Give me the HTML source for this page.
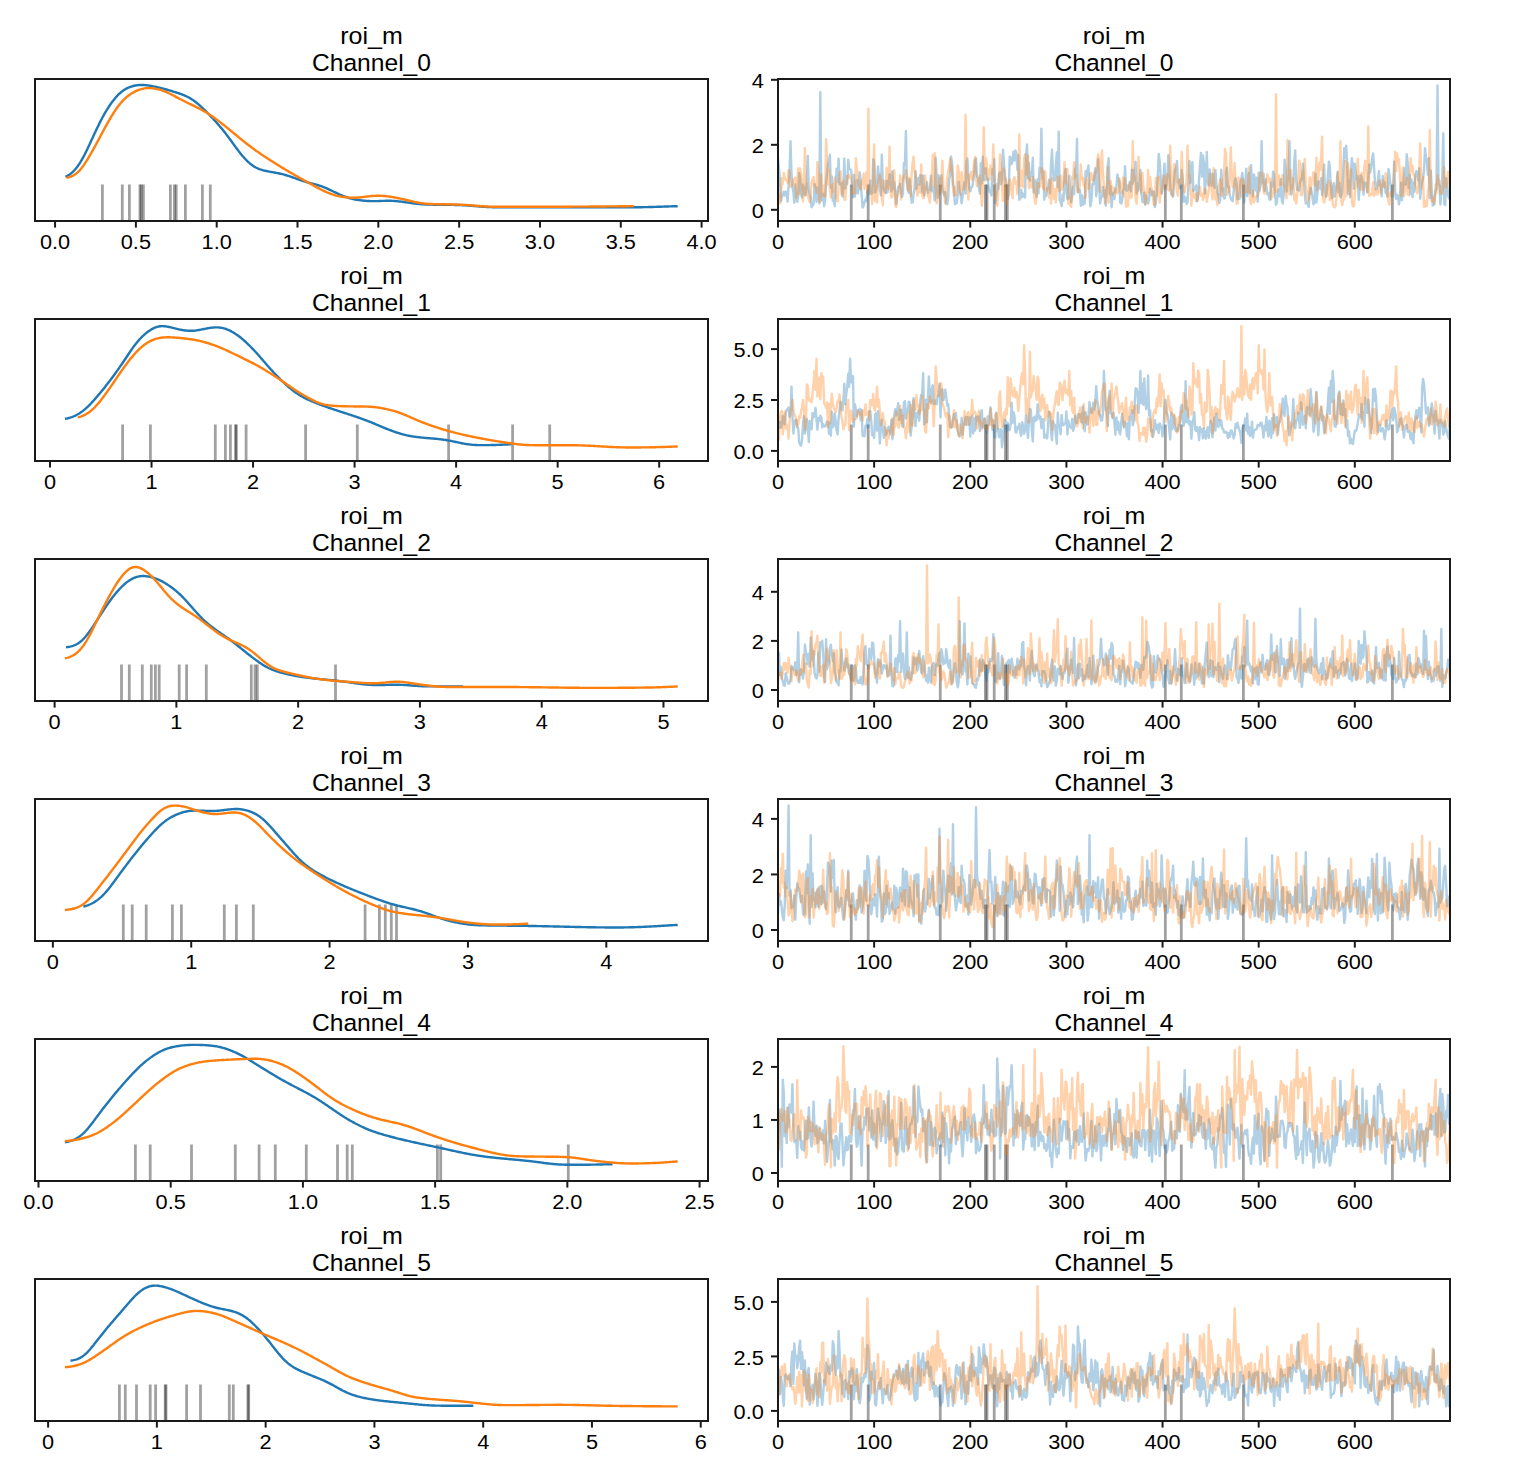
<!DOCTYPE html>
<html><head><meta charset="utf-8"><title>trace plot</title><style>html,body{margin:0;padding:0;background:#fff;width:1514px;height:1482px;overflow:hidden;position:relative}text{font-family:"Liberation Sans", sans-serif;fill:#000}</style></head><body>
<svg width="1514" height="1482" viewBox="0 0 1514 1482" style="position:absolute;left:0;top:0">
<rect x="0" y="0" width="1514" height="1482" fill="#ffffff"/>
<text x="371.50" y="44.20" font-size="24.3" text-anchor="middle" textLength="62.49" lengthAdjust="spacingAndGlyphs">roi_m</text>
<text x="371.50" y="71.00" font-size="24.3" text-anchor="middle" textLength="118.99" lengthAdjust="spacingAndGlyphs">Channel_0</text>
<text x="1114.00" y="44.20" font-size="24.3" text-anchor="middle" textLength="62.49" lengthAdjust="spacingAndGlyphs">roi_m</text>
<text x="1114.00" y="71.00" font-size="24.3" text-anchor="middle" textLength="118.99" lengthAdjust="spacingAndGlyphs">Channel_0</text>
<clipPath id="cl0"><rect x="35" y="79" width="673" height="142"/></clipPath>
<g clip-path="url(#cl0)">
<line x1="102.40" y1="184.50" x2="102.40" y2="231" stroke="#000" stroke-opacity="0.37" stroke-width="2.8"/>
<line x1="122.30" y1="184.50" x2="122.30" y2="231" stroke="#000" stroke-opacity="0.37" stroke-width="2.8"/>
<line x1="129.40" y1="184.50" x2="129.40" y2="231" stroke="#000" stroke-opacity="0.37" stroke-width="2.8"/>
<line x1="140.00" y1="184.50" x2="140.00" y2="231" stroke="#000" stroke-opacity="0.37" stroke-width="2.8"/>
<line x1="141.20" y1="184.50" x2="141.20" y2="231" stroke="#000" stroke-opacity="0.37" stroke-width="2.8"/>
<line x1="143.40" y1="184.50" x2="143.40" y2="231" stroke="#000" stroke-opacity="0.37" stroke-width="2.8"/>
<line x1="170.40" y1="184.50" x2="170.40" y2="231" stroke="#000" stroke-opacity="0.37" stroke-width="2.8"/>
<line x1="174.40" y1="184.50" x2="174.40" y2="231" stroke="#000" stroke-opacity="0.37" stroke-width="2.8"/>
<line x1="176.20" y1="184.50" x2="176.20" y2="231" stroke="#000" stroke-opacity="0.37" stroke-width="2.8"/>
<line x1="185.40" y1="184.50" x2="185.40" y2="231" stroke="#000" stroke-opacity="0.37" stroke-width="2.8"/>
<line x1="202.40" y1="184.50" x2="202.40" y2="231" stroke="#000" stroke-opacity="0.37" stroke-width="2.8"/>
<line x1="210.30" y1="184.50" x2="210.30" y2="231" stroke="#000" stroke-opacity="0.37" stroke-width="2.8"/>
<path d="M65.3,176.72 L66.3,176.31 L67.3,175.83 L68.3,175.28 L69.3,174.66 L70.3,173.95 L71.3,173.16 L72.3,172.29 L73.3,171.34 L74.3,170.31 L75.3,169.19 L76.3,167.98 L77.3,166.69 L78.3,165.31 L79.3,163.84 L80.3,162.29 L81.3,160.64 L82.3,158.92 L83.3,157.11 L84.3,155.22 L85.3,153.27 L86.3,151.25 L87.3,149.19 L88.3,147.08 L89.3,144.94 L90.3,142.78 L91.3,140.60 L92.3,138.42 L93.3,136.24 L94.3,134.08 L95.3,131.93 L96.3,129.81 L97.3,127.71 L98.3,125.65 L99.3,123.62 L100.3,121.64 L101.3,119.70 L102.3,117.80 L103.3,115.96 L104.3,114.16 L105.3,112.42 L106.3,110.74 L107.3,109.10 L108.3,107.52 L109.3,105.99 L110.3,104.52 L111.3,103.10 L112.3,101.73 L113.3,100.42 L114.3,99.16 L115.3,97.96 L116.3,96.81 L117.3,95.73 L118.3,94.70 L119.3,93.74 L120.3,92.84 L121.3,92.00 L122.3,91.22 L123.3,90.50 L124.3,89.83 L125.3,89.23 L126.3,88.67 L127.3,88.17 L128.3,87.70 L129.3,87.29 L130.3,86.91 L131.3,86.57 L132.3,86.26 L133.3,85.99 L134.3,85.75 L135.3,85.54 L136.3,85.37 L137.3,85.23 L138.3,85.11 L139.3,85.03 L140.3,84.98 L141.3,84.95 L142.3,84.96 L143.3,84.99 L144.3,85.04 L145.3,85.12 L146.3,85.21 L147.3,85.33 L148.3,85.47 L149.3,85.62 L150.3,85.78 L151.3,85.96 L152.3,86.15 L153.3,86.34 L154.3,86.55 L155.3,86.76 L156.3,86.98 L157.3,87.20 L158.3,87.43 L159.3,87.67 L160.3,87.91 L161.3,88.16 L162.3,88.42 L163.3,88.68 L164.3,88.94 L165.3,89.21 L166.3,89.49 L167.3,89.77 L168.3,90.06 L169.3,90.35 L170.3,90.64 L171.3,90.94 L172.3,91.24 L173.3,91.55 L174.3,91.86 L175.3,92.18 L176.3,92.50 L177.3,92.83 L178.3,93.16 L179.3,93.50 L180.3,93.85 L181.3,94.21 L182.3,94.59 L183.3,94.98 L184.3,95.39 L185.3,95.82 L186.3,96.28 L187.3,96.76 L188.3,97.27 L189.3,97.81 L190.3,98.38 L191.3,98.99 L192.3,99.63 L193.3,100.31 L194.3,101.02 L195.3,101.76 L196.3,102.54 L197.3,103.35 L198.3,104.20 L199.3,105.06 L200.3,105.96 L201.3,106.87 L202.3,107.81 L203.3,108.76 L204.3,109.73 L205.3,110.72 L206.3,111.71 L207.3,112.72 L208.3,113.74 L209.3,114.77 L210.3,115.81 L211.3,116.87 L212.3,117.93 L213.3,119.01 L214.3,120.10 L215.3,121.20 L216.3,122.31 L217.3,123.44 L218.3,124.59 L219.3,125.75 L220.3,126.93 L221.3,128.12 L222.3,129.33 L223.3,130.57 L224.3,131.82 L225.3,133.09 L226.3,134.38 L227.3,135.69 L228.3,137.02 L229.3,138.36 L230.3,139.72 L231.3,141.08 L232.3,142.46 L233.3,143.84 L234.3,145.21 L235.3,146.59 L236.3,147.95 L237.3,149.29 L238.3,150.62 L239.3,151.92 L240.3,153.20 L241.3,154.44 L242.3,155.65 L243.3,156.83 L244.3,157.96 L245.3,159.05 L246.3,160.10 L247.3,161.10 L248.3,162.04 L249.3,162.94 L250.3,163.79 L251.3,164.58 L252.3,165.31 L253.3,166.00 L254.3,166.62 L255.3,167.20 L256.3,167.72 L257.3,168.20 L258.3,168.63 L259.3,169.03 L260.3,169.39 L261.3,169.72 L262.3,170.02 L263.3,170.29 L264.3,170.55 L265.3,170.79 L266.3,171.02 L267.3,171.23 L268.3,171.44 L269.3,171.63 L270.3,171.82 L271.3,172.01 L272.3,172.19 L273.3,172.37 L274.3,172.55 L275.3,172.73 L276.3,172.92 L277.3,173.11 L278.3,173.30 L279.3,173.51 L280.3,173.72 L281.3,173.94 L282.3,174.18 L283.3,174.43 L284.3,174.69 L285.3,174.97 L286.3,175.26 L287.3,175.56 L288.3,175.88 L289.3,176.21 L290.3,176.55 L291.3,176.89 L292.3,177.25 L293.3,177.61 L294.3,177.97 L295.3,178.33 L296.3,178.70 L297.3,179.06 L298.3,179.41 L299.3,179.77 L300.3,180.11 L301.3,180.45 L302.3,180.77 L303.3,181.09 L304.3,181.40 L305.3,181.70 L306.3,181.99 L307.3,182.27 L308.3,182.55 L309.3,182.82 L310.3,183.08 L311.3,183.34 L312.3,183.60 L313.3,183.86 L314.3,184.13 L315.3,184.40 L316.3,184.67 L317.3,184.96 L318.3,185.26 L319.3,185.57 L320.3,185.89 L321.3,186.23 L322.3,186.59 L323.3,186.97 L324.3,187.36 L325.3,187.78 L326.3,188.20 L327.3,188.65 L328.3,189.10 L329.3,189.57 L330.3,190.04 L331.3,190.52 L332.3,191.01 L333.3,191.49 L334.3,191.97 L335.3,192.45 L336.3,192.93 L337.3,193.39 L338.3,193.85 L339.3,194.30 L340.3,194.74 L341.3,195.17 L342.3,195.59 L343.3,195.99 L344.3,196.38 L345.3,196.75 L346.3,197.11 L347.3,197.45 L348.3,197.78 L349.3,198.08 L350.3,198.37 L351.3,198.64 L352.3,198.89 L353.3,199.12 L354.3,199.33 L355.3,199.53 L356.3,199.71 L357.3,199.88 L358.3,200.03 L359.3,200.17 L360.3,200.30 L361.3,200.42 L362.3,200.53 L363.3,200.64 L364.3,200.73 L365.3,200.82 L366.3,200.89 L367.3,200.96 L368.3,201.02 L369.3,201.07 L370.3,201.11 L371.3,201.14 L372.3,201.16 L373.3,201.17 L374.3,201.17 L375.3,201.16 L376.3,201.14 L377.3,201.12 L378.3,201.09 L379.3,201.05 L380.3,201.01 L381.3,200.96 L382.3,200.92 L383.3,200.88 L384.3,200.84 L385.3,200.81 L386.3,200.79 L387.3,200.77 L388.3,200.77 L389.3,200.77 L390.3,200.79 L391.3,200.82 L392.3,200.86 L393.3,200.92 L394.3,200.98 L395.3,201.05 L396.3,201.14 L397.3,201.23 L398.3,201.34 L399.3,201.45 L400.3,201.56 L401.3,201.68 L402.3,201.81 L403.3,201.95 L404.3,202.08 L405.3,202.22 L406.3,202.36 L407.3,202.50 L408.3,202.65 L409.3,202.79 L410.3,202.93 L411.3,203.07 L412.3,203.20 L413.3,203.33 L414.3,203.46 L415.3,203.58 L416.3,203.70 L417.3,203.81 L418.3,203.92 L419.3,204.01 L420.3,204.10 L421.3,204.19 L422.3,204.26 L423.3,204.33 L424.3,204.39 L425.3,204.44 L426.3,204.49 L427.3,204.53 L428.3,204.57 L429.3,204.60 L430.3,204.63 L431.3,204.65 L432.3,204.67 L433.3,204.69 L434.3,204.71 L435.3,204.72 L436.3,204.74 L437.3,204.75 L438.3,204.76 L439.3,204.77 L440.3,204.78 L441.3,204.79 L442.3,204.80 L443.3,204.81 L444.3,204.82 L445.3,204.83 L446.3,204.83 L447.3,204.84 L448.3,204.86 L449.3,204.87 L450.3,204.88 L451.3,204.89 L452.3,204.91 L453.3,204.92 L454.3,204.94 L455.3,204.96 L456.3,204.98 L457.3,205.00 L458.3,205.03 L459.3,205.06 L460.3,205.10 L461.3,205.14 L462.3,205.18 L463.3,205.23 L464.3,205.28 L465.3,205.34 L466.3,205.40 L467.3,205.47 L468.3,205.54 L469.3,205.61 L470.3,205.69 L471.3,205.77 L472.3,205.85 L473.3,205.94 L474.3,206.02 L475.3,206.11 L476.3,206.19 L477.3,206.28 L478.3,206.37 L479.3,206.45 L480.3,206.53 L481.3,206.61 L482.3,206.69 L483.3,206.76 L484.3,206.83 L485.3,206.89 L486.3,206.95 L487.3,207.00 L488.3,207.05 L489.3,207.09 L490.3,207.13 L491.3,207.16 L492.3,207.19 L493.3,207.21 L494.3,207.23 L495.3,207.25 L496.3,207.26 L497.3,207.27 L498.3,207.28 L499.3,207.29 L500.3,207.29 L501.3,207.29 L502.3,207.30 L503.3,207.30 L504.3,207.30 L505.3,207.30 L506.3,207.30 L507.3,207.30 L508.3,207.30 L509.3,207.30 L510.3,207.30 L511.3,207.30 L512.3,207.30 L513.3,207.30 L514.3,207.30 L515.3,207.30 L516.3,207.30 L517.3,207.30 L518.3,207.30 L519.3,207.30 L520.3,207.30 L521.3,207.30 L522.3,207.30 L523.3,207.30 L524.3,207.30 L525.3,207.30 L526.3,207.30 L527.3,207.30 L528.3,207.30 L529.3,207.30 L530.3,207.30 L531.3,207.30 L532.3,207.30 L533.3,207.30 L534.3,207.30 L535.3,207.30 L536.3,207.30 L537.3,207.30 L538.3,207.30 L539.3,207.30 L540.3,207.30 L541.3,207.30 L542.3,207.30 L543.3,207.30 L544.3,207.30 L545.3,207.30 L546.3,207.30 L547.3,207.30 L548.3,207.30 L549.3,207.30 L550.3,207.30 L551.3,207.30 L552.3,207.30 L553.3,207.30 L554.3,207.30 L555.3,207.30 L556.3,207.30 L557.3,207.30 L558.3,207.30 L559.3,207.30 L560.3,207.30 L561.3,207.30 L562.3,207.30 L563.3,207.30 L564.3,207.30 L565.3,207.30 L566.3,207.30 L567.3,207.30 L568.3,207.30 L569.3,207.30 L570.3,207.30 L571.3,207.30 L572.3,207.30 L573.3,207.30 L574.3,207.30 L575.3,207.30 L576.3,207.30 L577.3,207.30 L578.3,207.30 L579.3,207.30 L580.3,207.30 L581.3,207.30 L582.3,207.30 L583.3,207.30 L584.3,207.30 L585.3,207.30 L586.3,207.30 L587.3,207.30 L588.3,207.30 L589.3,207.30 L590.3,207.30 L591.3,207.30 L592.3,207.30 L593.3,207.30 L594.3,207.30 L595.3,207.30 L596.3,207.30 L597.3,207.30 L598.3,207.30 L599.3,207.30 L600.3,207.30 L601.3,207.30 L602.3,207.30 L603.3,207.30 L604.3,207.30 L605.3,207.30 L606.3,207.30 L607.3,207.30 L608.3,207.30 L609.3,207.30 L610.3,207.30 L611.3,207.30 L612.3,207.30 L613.3,207.30 L614.3,207.30 L615.3,207.30 L616.3,207.30 L617.3,207.30 L618.3,207.30 L619.3,207.30 L620.3,207.30 L621.3,207.30 L622.3,207.30 L623.3,207.30 L624.3,207.30 L625.3,207.30 L626.3,207.30 L627.3,207.30 L628.3,207.30 L629.3,207.29 L630.3,207.29 L631.3,207.29 L632.3,207.28 L633.3,207.28 L634.3,207.27 L635.3,207.27 L636.3,207.26 L637.3,207.25 L638.3,207.24 L639.3,207.23 L640.3,207.22 L641.3,207.20 L642.3,207.19 L643.3,207.17 L644.3,207.15 L645.3,207.13 L646.3,207.11 L647.3,207.09 L648.3,207.06 L649.3,207.04 L650.3,207.01 L651.3,206.99 L652.3,206.96 L653.3,206.93 L654.3,206.90 L655.3,206.87 L656.3,206.84 L657.3,206.81 L658.3,206.78 L659.3,206.74 L660.3,206.71 L661.3,206.68 L662.3,206.64 L663.3,206.61 L664.3,206.57 L665.3,206.54 L666.3,206.50 L667.3,206.47 L668.3,206.44 L669.3,206.40 L670.3,206.37 L671.3,206.34 L672.3,206.31 L673.3,206.28 L674.3,206.26 L675.3,206.23 L676.3,206.21 L677.3,206.19 L677.7,206.17" fill="none" stroke="#1f77b4" stroke-width="2.4" stroke-linecap="butt"/>
<path d="M66.4,177.72 L67.4,177.55 L68.4,177.33 L69.4,177.07 L70.4,176.76 L71.4,176.39 L72.4,175.95 L73.4,175.44 L74.4,174.85 L75.4,174.18 L76.4,173.42 L77.4,172.57 L78.4,171.63 L79.4,170.60 L80.4,169.48 L81.4,168.27 L82.4,166.98 L83.4,165.62 L84.4,164.18 L85.4,162.68 L86.4,161.13 L87.4,159.53 L88.4,157.88 L89.4,156.20 L90.4,154.48 L91.4,152.73 L92.4,150.96 L93.4,149.17 L94.4,147.36 L95.4,145.52 L96.4,143.68 L97.4,141.82 L98.4,139.95 L99.4,138.07 L100.4,136.20 L101.4,134.32 L102.4,132.46 L103.4,130.60 L104.4,128.76 L105.4,126.93 L106.4,125.13 L107.4,123.34 L108.4,121.59 L109.4,119.86 L110.4,118.16 L111.4,116.49 L112.4,114.85 L113.4,113.25 L114.4,111.69 L115.4,110.18 L116.4,108.71 L117.4,107.30 L118.4,105.94 L119.4,104.64 L120.4,103.40 L121.4,102.22 L122.4,101.11 L123.4,100.06 L124.4,99.06 L125.4,98.13 L126.4,97.26 L127.4,96.43 L128.4,95.66 L129.4,94.93 L130.4,94.24 L131.4,93.59 L132.4,92.98 L133.4,92.41 L134.4,91.86 L135.4,91.36 L136.4,90.89 L137.4,90.45 L138.4,90.04 L139.4,89.68 L140.4,89.35 L141.4,89.05 L142.4,88.80 L143.4,88.58 L144.4,88.40 L145.4,88.26 L146.4,88.16 L147.4,88.10 L148.4,88.07 L149.4,88.07 L150.4,88.10 L151.4,88.17 L152.4,88.26 L153.4,88.38 L154.4,88.53 L155.4,88.70 L156.4,88.90 L157.4,89.11 L158.4,89.35 L159.4,89.62 L160.4,89.90 L161.4,90.21 L162.4,90.54 L163.4,90.89 L164.4,91.27 L165.4,91.67 L166.4,92.09 L167.4,92.53 L168.4,92.99 L169.4,93.47 L170.4,93.96 L171.4,94.47 L172.4,94.98 L173.4,95.51 L174.4,96.04 L175.4,96.57 L176.4,97.11 L177.4,97.64 L178.4,98.17 L179.4,98.70 L180.4,99.22 L181.4,99.74 L182.4,100.25 L183.4,100.76 L184.4,101.26 L185.4,101.76 L186.4,102.25 L187.4,102.74 L188.4,103.22 L189.4,103.71 L190.4,104.19 L191.4,104.67 L192.4,105.16 L193.4,105.64 L194.4,106.13 L195.4,106.63 L196.4,107.13 L197.4,107.63 L198.4,108.14 L199.4,108.66 L200.4,109.19 L201.4,109.72 L202.4,110.27 L203.4,110.83 L204.4,111.40 L205.4,111.99 L206.4,112.59 L207.4,113.20 L208.4,113.83 L209.4,114.47 L210.4,115.13 L211.4,115.80 L212.4,116.49 L213.4,117.19 L214.4,117.90 L215.4,118.63 L216.4,119.36 L217.4,120.11 L218.4,120.87 L219.4,121.64 L220.4,122.41 L221.4,123.19 L222.4,123.97 L223.4,124.76 L224.4,125.56 L225.4,126.36 L226.4,127.16 L227.4,127.97 L228.4,128.78 L229.4,129.59 L230.4,130.41 L231.4,131.23 L232.4,132.06 L233.4,132.88 L234.4,133.71 L235.4,134.54 L236.4,135.37 L237.4,136.20 L238.4,137.03 L239.4,137.86 L240.4,138.68 L241.4,139.50 L242.4,140.32 L243.4,141.12 L244.4,141.93 L245.4,142.72 L246.4,143.51 L247.4,144.29 L248.4,145.06 L249.4,145.82 L250.4,146.58 L251.4,147.33 L252.4,148.06 L253.4,148.79 L254.4,149.52 L255.4,150.23 L256.4,150.94 L257.4,151.64 L258.4,152.33 L259.4,153.02 L260.4,153.71 L261.4,154.38 L262.4,155.06 L263.4,155.73 L264.4,156.39 L265.4,157.05 L266.4,157.70 L267.4,158.36 L268.4,159.00 L269.4,159.65 L270.4,160.29 L271.4,160.93 L272.4,161.56 L273.4,162.20 L274.4,162.83 L275.4,163.45 L276.4,164.08 L277.4,164.70 L278.4,165.32 L279.4,165.94 L280.4,166.56 L281.4,167.17 L282.4,167.78 L283.4,168.39 L284.4,168.99 L285.4,169.60 L286.4,170.20 L287.4,170.80 L288.4,171.39 L289.4,171.98 L290.4,172.57 L291.4,173.15 L292.4,173.73 L293.4,174.31 L294.4,174.89 L295.4,175.46 L296.4,176.02 L297.4,176.58 L298.4,177.14 L299.4,177.70 L300.4,178.26 L301.4,178.81 L302.4,179.36 L303.4,179.91 L304.4,180.46 L305.4,181.01 L306.4,181.56 L307.4,182.11 L308.4,182.66 L309.4,183.22 L310.4,183.77 L311.4,184.32 L312.4,184.88 L313.4,185.43 L314.4,185.98 L315.4,186.53 L316.4,187.07 L317.4,187.62 L318.4,188.15 L319.4,188.68 L320.4,189.20 L321.4,189.71 L322.4,190.21 L323.4,190.70 L324.4,191.18 L325.4,191.64 L326.4,192.09 L327.4,192.52 L328.4,192.93 L329.4,193.33 L330.4,193.71 L331.4,194.07 L332.4,194.41 L333.4,194.73 L334.4,195.03 L335.4,195.31 L336.4,195.58 L337.4,195.82 L338.4,196.05 L339.4,196.27 L340.4,196.46 L341.4,196.65 L342.4,196.82 L343.4,196.97 L344.4,197.11 L345.4,197.24 L346.4,197.36 L347.4,197.46 L348.4,197.54 L349.4,197.61 L350.4,197.67 L351.4,197.71 L352.4,197.73 L353.4,197.73 L354.4,197.72 L355.4,197.69 L356.4,197.65 L357.4,197.59 L358.4,197.51 L359.4,197.43 L360.4,197.33 L361.4,197.22 L362.4,197.10 L363.4,196.98 L364.4,196.85 L365.4,196.73 L366.4,196.60 L367.4,196.48 L368.4,196.37 L369.4,196.26 L370.4,196.16 L371.4,196.07 L372.4,195.99 L373.4,195.92 L374.4,195.87 L375.4,195.83 L376.4,195.80 L377.4,195.78 L378.4,195.78 L379.4,195.79 L380.4,195.81 L381.4,195.85 L382.4,195.90 L383.4,195.96 L384.4,196.04 L385.4,196.13 L386.4,196.23 L387.4,196.35 L388.4,196.48 L389.4,196.61 L390.4,196.76 L391.4,196.92 L392.4,197.09 L393.4,197.26 L394.4,197.44 L395.4,197.62 L396.4,197.81 L397.4,198.01 L398.4,198.21 L399.4,198.42 L400.4,198.63 L401.4,198.84 L402.4,199.06 L403.4,199.29 L404.4,199.52 L405.4,199.75 L406.4,199.98 L407.4,200.22 L408.4,200.46 L409.4,200.70 L410.4,200.94 L411.4,201.18 L412.4,201.41 L413.4,201.64 L414.4,201.87 L415.4,202.08 L416.4,202.29 L417.4,202.49 L418.4,202.67 L419.4,202.85 L420.4,203.01 L421.4,203.16 L422.4,203.29 L423.4,203.41 L424.4,203.53 L425.4,203.62 L426.4,203.71 L427.4,203.79 L428.4,203.85 L429.4,203.91 L430.4,203.96 L431.4,204.00 L432.4,204.04 L433.4,204.08 L434.4,204.11 L435.4,204.13 L436.4,204.16 L437.4,204.18 L438.4,204.20 L439.4,204.22 L440.4,204.24 L441.4,204.25 L442.4,204.27 L443.4,204.29 L444.4,204.30 L445.4,204.32 L446.4,204.33 L447.4,204.35 L448.4,204.37 L449.4,204.39 L450.4,204.41 L451.4,204.43 L452.4,204.45 L453.4,204.47 L454.4,204.49 L455.4,204.52 L456.4,204.55 L457.4,204.58 L458.4,204.62 L459.4,204.66 L460.4,204.70 L461.4,204.74 L462.4,204.79 L463.4,204.85 L464.4,204.90 L465.4,204.96 L466.4,205.03 L467.4,205.09 L468.4,205.16 L469.4,205.24 L470.4,205.31 L471.4,205.39 L472.4,205.47 L473.4,205.55 L474.4,205.63 L475.4,205.71 L476.4,205.80 L477.4,205.88 L478.4,205.96 L479.4,206.03 L480.4,206.11 L481.4,206.18 L482.4,206.25 L483.4,206.31 L484.4,206.38 L485.4,206.43 L486.4,206.49 L487.4,206.53 L488.4,206.58 L489.4,206.62 L490.4,206.65 L491.4,206.68 L492.4,206.70 L493.4,206.73 L494.4,206.74 L495.4,206.76 L496.4,206.77 L497.4,206.78 L498.4,206.78 L499.4,206.79 L500.4,206.79 L501.4,206.79 L502.4,206.80 L503.4,206.80 L504.4,206.80 L505.4,206.80 L506.4,206.80 L507.4,206.80 L508.4,206.80 L509.4,206.80 L510.4,206.80 L511.4,206.80 L512.4,206.80 L513.4,206.80 L514.4,206.80 L515.4,206.80 L516.4,206.80 L517.4,206.80 L518.4,206.80 L519.4,206.79 L520.4,206.79 L521.4,206.79 L522.4,206.79 L523.4,206.79 L524.4,206.79 L525.4,206.79 L526.4,206.79 L527.4,206.79 L528.4,206.79 L529.4,206.79 L530.4,206.79 L531.4,206.79 L532.4,206.78 L533.4,206.78 L534.4,206.78 L535.4,206.78 L536.4,206.78 L537.4,206.78 L538.4,206.78 L539.4,206.77 L540.4,206.77 L541.4,206.77 L542.4,206.77 L543.4,206.77 L544.4,206.77 L545.4,206.76 L546.4,206.76 L547.4,206.76 L548.4,206.76 L549.4,206.75 L550.4,206.75 L551.4,206.75 L552.4,206.75 L553.4,206.74 L554.4,206.74 L555.4,206.74 L556.4,206.74 L557.4,206.73 L558.4,206.73 L559.4,206.73 L560.4,206.72 L561.4,206.72 L562.4,206.72 L563.4,206.71 L564.4,206.71 L565.4,206.70 L566.4,206.70 L567.4,206.70 L568.4,206.69 L569.4,206.69 L570.4,206.68 L571.4,206.68 L572.4,206.67 L573.4,206.67 L574.4,206.66 L575.4,206.66 L576.4,206.65 L577.4,206.65 L578.4,206.64 L579.4,206.64 L580.4,206.63 L581.4,206.63 L582.4,206.62 L583.4,206.61 L584.4,206.61 L585.4,206.60 L586.4,206.59 L587.4,206.59 L588.4,206.58 L589.4,206.57 L590.4,206.57 L591.4,206.56 L592.4,206.55 L593.4,206.55 L594.4,206.54 L595.4,206.53 L596.4,206.52 L597.4,206.51 L598.4,206.51 L599.4,206.50 L600.4,206.49 L601.4,206.48 L602.4,206.47 L603.4,206.46 L604.4,206.45 L605.4,206.44 L606.4,206.43 L607.4,206.42 L608.4,206.41 L609.4,206.40 L610.4,206.39 L611.4,206.38 L612.4,206.37 L613.4,206.36 L614.4,206.35 L615.4,206.34 L616.4,206.33 L617.4,206.32 L618.4,206.30 L619.4,206.29 L620.4,206.28 L621.4,206.27 L622.4,206.26 L623.4,206.24 L624.4,206.23 L625.4,206.22 L626.4,206.21 L627.4,206.20 L628.4,206.18 L629.4,206.17 L630.4,206.16 L631.4,206.15 L632.4,206.15 L633.4,206.14 L633.9,206.13" fill="none" stroke="#ff7f0e" stroke-width="2.4" stroke-linecap="butt"/>
</g>
<rect x="35" y="79" width="673" height="142" fill="none" stroke="#1a1a1a" stroke-width="2"/>
<line x1="55.06" y1="221" x2="55.06" y2="227.6" stroke="#1a1a1a" stroke-width="2"/>
<text x="55.06" y="249.40" font-size="20.3" text-anchor="middle" textLength="30.22" lengthAdjust="spacingAndGlyphs">0.0</text>
<line x1="135.88" y1="221" x2="135.88" y2="227.6" stroke="#1a1a1a" stroke-width="2"/>
<text x="135.88" y="249.40" font-size="20.3" text-anchor="middle" textLength="30.22" lengthAdjust="spacingAndGlyphs">0.5</text>
<line x1="216.70" y1="221" x2="216.70" y2="227.6" stroke="#1a1a1a" stroke-width="2"/>
<text x="216.70" y="249.40" font-size="20.3" text-anchor="middle" textLength="30.22" lengthAdjust="spacingAndGlyphs">1.0</text>
<line x1="297.51" y1="221" x2="297.51" y2="227.6" stroke="#1a1a1a" stroke-width="2"/>
<text x="297.51" y="249.40" font-size="20.3" text-anchor="middle" textLength="30.22" lengthAdjust="spacingAndGlyphs">1.5</text>
<line x1="378.33" y1="221" x2="378.33" y2="227.6" stroke="#1a1a1a" stroke-width="2"/>
<text x="378.33" y="249.40" font-size="20.3" text-anchor="middle" textLength="30.22" lengthAdjust="spacingAndGlyphs">2.0</text>
<line x1="459.15" y1="221" x2="459.15" y2="227.6" stroke="#1a1a1a" stroke-width="2"/>
<text x="459.15" y="249.40" font-size="20.3" text-anchor="middle" textLength="30.22" lengthAdjust="spacingAndGlyphs">2.5</text>
<line x1="539.97" y1="221" x2="539.97" y2="227.6" stroke="#1a1a1a" stroke-width="2"/>
<text x="539.97" y="249.40" font-size="20.3" text-anchor="middle" textLength="30.22" lengthAdjust="spacingAndGlyphs">3.0</text>
<line x1="620.79" y1="221" x2="620.79" y2="227.6" stroke="#1a1a1a" stroke-width="2"/>
<text x="620.79" y="249.40" font-size="20.3" text-anchor="middle" textLength="30.22" lengthAdjust="spacingAndGlyphs">3.5</text>
<line x1="701.60" y1="221" x2="701.60" y2="227.6" stroke="#1a1a1a" stroke-width="2"/>
<text x="701.60" y="249.40" font-size="20.3" text-anchor="middle" textLength="30.22" lengthAdjust="spacingAndGlyphs">4.0</text>
<clipPath id="cr0"><rect x="778" y="79" width="672" height="142"/></clipPath>
<g clip-path="url(#cr0)">
<line x1="851.26" y1="184.50" x2="851.26" y2="231" stroke="#000" stroke-opacity="0.37" stroke-width="2.8"/>
<line x1="868.18" y1="184.50" x2="868.18" y2="231" stroke="#000" stroke-opacity="0.37" stroke-width="2.8"/>
<line x1="940.28" y1="184.50" x2="940.28" y2="231" stroke="#000" stroke-opacity="0.37" stroke-width="2.8"/>
<line x1="985.37" y1="184.50" x2="985.37" y2="231" stroke="#000" stroke-opacity="0.37" stroke-width="2.8"/>
<line x1="987.00" y1="184.50" x2="987.00" y2="231" stroke="#000" stroke-opacity="0.37" stroke-width="2.8"/>
<line x1="994.21" y1="184.50" x2="994.21" y2="231" stroke="#000" stroke-opacity="0.37" stroke-width="2.8"/>
<line x1="1005.46" y1="184.50" x2="1005.46" y2="231" stroke="#000" stroke-opacity="0.37" stroke-width="2.8"/>
<line x1="1007.29" y1="184.50" x2="1007.29" y2="231" stroke="#000" stroke-opacity="0.37" stroke-width="2.8"/>
<line x1="1165.34" y1="184.50" x2="1165.34" y2="231" stroke="#000" stroke-opacity="0.37" stroke-width="2.8"/>
<line x1="1181.30" y1="184.50" x2="1181.30" y2="231" stroke="#000" stroke-opacity="0.37" stroke-width="2.8"/>
<line x1="1243.40" y1="184.50" x2="1243.40" y2="231" stroke="#000" stroke-opacity="0.37" stroke-width="2.8"/>
<line x1="1392.41" y1="184.50" x2="1392.41" y2="231" stroke="#000" stroke-opacity="0.37" stroke-width="2.8"/>
<polyline points="778.0,157.9 779.0,168.0 779.9,178.0 780.9,201.2 781.8,196.9 782.8,195.3 783.8,191.8 784.7,195.6 785.7,191.5 786.7,194.0 787.6,201.6 788.6,184.8 789.5,174.5 790.5,141.1 791.5,173.7 792.4,186.1 793.4,192.6 794.3,202.7 795.3,184.5 796.3,197.3 797.2,201.8 798.2,196.6 799.2,172.9 800.1,177.8 801.1,194.4 802.0,197.3 803.0,184.8 804.0,187.8 804.9,195.4 805.9,193.4 806.8,180.8 807.8,155.9 808.8,189.8 809.7,194.8 810.7,198.2 811.6,207.2 812.6,205.2 813.6,204.1 814.5,184.2 815.5,187.2 816.5,201.8 817.4,187.8 818.4,191.3 819.3,203.5 820.3,92.2 821.3,199.1 822.2,200.4 823.2,193.6 824.1,206.3 825.1,200.2 826.1,182.1 827.0,173.5 828.0,164.0 829.0,160.2 829.9,154.7 830.9,187.7 831.8,176.5 832.8,200.9 833.8,199.3 834.7,206.2 835.7,187.6 836.6,168.6 837.6,182.0 838.6,158.6 839.5,184.3 840.5,183.8 841.5,183.5 842.4,196.6 843.4,186.6 844.3,158.6 845.3,188.5 846.3,176.2 847.2,184.0 848.2,159.6 849.1,168.2 850.1,169.2 851.1,170.3 852.0,176.7 853.0,197.4 853.9,174.9 854.9,196.7 855.9,189.0 856.8,180.2 857.8,193.4 858.8,188.2 859.7,172.1 860.7,180.9 861.6,194.1 862.6,207.5 863.6,205.9 864.5,202.1 865.5,199.3 866.4,201.1 867.4,190.4 868.4,194.5 869.3,191.7 870.3,180.8 871.3,193.8 872.2,193.3 873.2,159.3 874.1,161.6 875.1,192.6 876.1,190.4 877.0,181.5 878.0,166.4 878.9,176.8 879.9,188.8 880.9,195.4 881.8,154.6 882.8,181.3 883.8,190.4 884.7,190.6 885.7,193.1 886.6,180.9 887.6,192.2 888.6,183.4 889.5,174.2 890.5,175.0 891.4,191.5 892.4,171.3 893.4,188.6 894.3,182.4 895.3,193.3 896.2,204.0 897.2,194.2 898.2,186.9 899.1,187.8 900.1,183.8 901.1,192.8 902.0,196.9 903.0,193.5 903.9,163.0 904.9,164.3 905.9,131.0 906.8,178.8 907.8,189.0 908.7,192.8 909.7,179.1 910.7,189.6 911.6,202.7 912.6,202.3 913.6,194.2 914.5,188.8 915.5,171.2 916.4,189.0 917.4,178.7 918.4,177.8 919.3,184.6 920.3,175.1 921.2,175.3 922.2,191.9 923.2,175.8 924.1,195.6 925.1,190.4 926.1,188.4 927.0,182.3 928.0,193.0 928.9,190.1 929.9,189.9 930.9,175.6 931.8,191.4 932.8,188.0 933.7,190.3 934.7,200.4 935.7,157.6 936.6,176.1 937.6,198.0 938.5,175.2 939.5,194.0 940.5,185.8 941.4,175.4 942.4,189.6 943.4,192.8 944.3,195.2 945.3,192.2 946.2,203.0 947.2,204.3 948.2,197.7 949.1,179.8 950.1,175.5 951.0,156.5 952.0,162.7 953.0,183.9 953.9,186.9 954.9,204.2 955.9,203.3 956.8,203.2 957.8,193.1 958.7,181.9 959.7,191.2 960.7,195.0 961.6,203.3 962.6,196.9 963.5,189.0 964.5,182.3 965.5,193.6 966.4,161.9 967.4,158.4 968.4,176.8 969.3,188.8 970.3,191.3 971.2,187.1 972.2,187.1 973.2,181.0 974.1,174.1 975.1,160.5 976.0,158.4 977.0,177.0 978.0,177.5 978.9,187.4 979.9,193.5 980.8,163.0 981.8,183.4 982.8,156.6 983.7,179.3 984.7,180.3 985.7,168.2 986.6,179.0 987.6,178.4 988.5,186.0 989.5,191.9 990.5,191.0 991.4,195.5 992.4,169.3 993.3,181.8 994.3,159.2 995.3,203.0 996.2,195.4 997.2,184.3 998.2,189.1 999.1,173.8 1000.1,172.4 1001.0,184.1 1002.0,180.2 1003.0,149.7 1003.9,163.1 1004.9,173.4 1005.8,186.4 1006.8,185.0 1007.8,198.9 1008.7,194.9 1009.7,156.6 1010.7,157.7 1011.6,164.3 1012.6,160.5 1013.5,151.6 1014.5,160.5 1015.5,150.5 1016.4,154.2 1017.4,170.0 1018.3,155.1 1019.3,199.7 1020.3,198.5 1021.2,189.8 1022.2,197.3 1023.2,193.6 1024.1,196.4 1025.1,197.6 1026.0,155.5 1027.0,144.5 1028.0,178.3 1028.9,163.2 1029.9,180.7 1030.8,172.2 1031.8,176.0 1032.8,157.8 1033.7,192.6 1034.7,180.1 1035.6,182.3 1036.6,197.0 1037.6,179.1 1038.5,193.4 1039.5,167.7 1040.5,171.9 1041.4,128.8 1042.4,179.0 1043.3,170.8 1044.3,199.7 1045.3,192.7 1046.2,195.9 1047.2,188.0 1048.1,187.9 1049.1,179.6 1050.1,193.2 1051.0,163.9 1052.0,149.8 1053.0,171.4 1053.9,180.5 1054.9,180.4 1055.8,165.2 1056.8,152.5 1057.8,187.3 1058.7,131.7 1059.7,199.8 1060.6,202.3 1061.6,205.9 1062.6,194.6 1063.5,200.8 1064.5,176.2 1065.5,169.0 1066.4,191.9 1067.4,199.0 1068.3,198.5 1069.3,175.6 1070.3,191.9 1071.2,202.2 1072.2,195.5 1073.1,186.6 1074.1,194.0 1075.1,168.2 1076.0,176.2 1077.0,138.9 1077.9,192.2 1078.9,189.7 1079.9,189.9 1080.8,205.8 1081.8,195.2 1082.8,204.8 1083.7,197.1 1084.7,203.5 1085.6,171.3 1086.6,176.0 1087.6,169.8 1088.5,165.5 1089.5,194.0 1090.4,206.4 1091.4,200.8 1092.4,184.0 1093.3,184.4 1094.3,175.7 1095.3,168.1 1096.2,196.2 1097.2,188.1 1098.1,159.0 1099.1,183.2 1100.1,203.4 1101.0,197.8 1102.0,196.7 1102.9,186.9 1103.9,196.2 1104.9,190.4 1105.8,205.7 1106.8,189.2 1107.8,165.2 1108.7,158.3 1109.7,193.7 1110.6,186.3 1111.6,207.2 1112.6,197.5 1113.5,192.8 1114.5,199.0 1115.4,189.2 1116.4,186.2 1117.4,174.5 1118.3,179.8 1119.3,180.7 1120.2,202.4 1121.2,203.6 1122.2,199.8 1123.1,190.3 1124.1,188.5 1125.1,166.2 1126.0,189.4 1127.0,190.7 1127.9,185.5 1128.9,188.9 1129.9,181.7 1130.8,191.2 1131.8,169.7 1132.7,183.8 1133.7,170.1 1134.7,180.3 1135.6,161.6 1136.6,193.6 1137.6,183.8 1138.5,190.5 1139.5,185.7 1140.4,170.0 1141.4,193.3 1142.4,201.5 1143.3,202.3 1144.3,192.6 1145.2,204.6 1146.2,195.8 1147.2,202.0 1148.1,203.4 1149.1,198.9 1150.1,188.7 1151.0,194.4 1152.0,195.4 1152.9,191.4 1153.9,191.9 1154.9,207.1 1155.8,202.4 1156.8,194.3 1157.7,176.9 1158.7,153.9 1159.7,161.3 1160.6,175.8 1161.6,193.2 1162.5,188.7 1163.5,178.0 1164.5,163.8 1165.4,188.7 1166.4,184.8 1167.4,175.5 1168.3,155.2 1169.3,169.2 1170.2,186.3 1171.2,194.2 1172.2,194.0 1173.1,196.7 1174.1,181.8 1175.0,169.6 1176.0,168.9 1177.0,161.0 1177.9,182.5 1178.9,180.1 1179.9,188.4 1180.8,187.0 1181.8,170.3 1182.7,180.4 1183.7,201.8 1184.7,197.0 1185.6,198.4 1186.6,204.1 1187.5,202.2 1188.5,184.4 1189.5,161.0 1190.4,183.0 1191.4,171.6 1192.4,162.1 1193.3,191.3 1194.3,189.3 1195.2,188.4 1196.2,185.4 1197.2,201.2 1198.1,197.5 1199.1,179.5 1200.0,164.7 1201.0,152.9 1202.0,176.7 1202.9,155.5 1203.9,162.5 1204.8,193.5 1205.8,180.7 1206.8,151.9 1207.7,181.1 1208.7,185.5 1209.7,169.5 1210.6,176.4 1211.6,185.7 1212.5,173.8 1213.5,177.9 1214.5,187.9 1215.4,169.9 1216.4,184.9 1217.3,193.1 1218.3,195.3 1219.3,203.0 1220.2,200.0 1221.2,169.8 1222.2,190.8 1223.1,188.5 1224.1,198.5 1225.0,198.2 1226.0,173.8 1227.0,167.8 1227.9,186.8 1228.9,186.7 1229.8,195.6 1230.8,198.4 1231.8,200.4 1232.7,201.2 1233.7,191.0 1234.7,181.4 1235.6,178.2 1236.6,185.1 1237.5,199.4 1238.5,193.9 1239.5,198.8 1240.4,182.6 1241.4,177.9 1242.3,172.9 1243.3,185.1 1244.3,202.5 1245.2,184.7 1246.2,168.6 1247.2,196.2 1248.1,189.8 1249.1,172.7 1250.0,193.3 1251.0,165.1 1252.0,182.7 1252.9,196.5 1253.9,174.5 1254.8,177.7 1255.8,190.5 1256.8,177.6 1257.7,201.7 1258.7,172.6 1259.6,190.6 1260.6,185.0 1261.6,141.1 1262.5,183.2 1263.5,173.6 1264.5,191.0 1265.4,179.0 1266.4,186.9 1267.3,194.3 1268.3,192.8 1269.3,199.1 1270.2,199.9 1271.2,182.6 1272.1,186.7 1273.1,171.6 1274.1,174.6 1275.0,193.4 1276.0,204.8 1277.0,202.0 1277.9,192.2 1278.9,189.2 1279.8,196.4 1280.8,179.3 1281.8,200.7 1282.7,203.5 1283.7,194.8 1284.6,159.7 1285.6,169.6 1286.6,191.8 1287.5,181.9 1288.5,175.8 1289.5,141.1 1290.4,184.5 1291.4,194.5 1292.3,189.1 1293.3,182.8 1294.3,161.4 1295.2,150.5 1296.2,179.8 1297.1,189.9 1298.1,188.9 1299.1,190.6 1300.0,182.6 1301.0,178.8 1301.9,180.0 1302.9,163.7 1303.9,179.8 1304.8,195.3 1305.8,203.5 1306.8,203.4 1307.7,203.4 1308.7,206.8 1309.6,193.1 1310.6,187.6 1311.6,191.9 1312.5,197.9 1313.5,204.4 1314.4,203.1 1315.4,173.6 1316.4,202.5 1317.3,193.9 1318.3,181.2 1319.3,182.6 1320.2,188.7 1321.2,178.1 1322.1,195.3 1323.1,184.3 1324.1,164.8 1325.0,190.9 1326.0,196.9 1326.9,190.3 1327.9,176.0 1328.9,161.7 1329.8,165.9 1330.8,186.9 1331.8,198.1 1332.7,189.8 1333.7,183.3 1334.6,196.9 1335.6,191.1 1336.6,184.8 1337.5,172.0 1338.5,192.3 1339.4,182.6 1340.4,197.2 1341.4,196.1 1342.3,192.1 1343.3,168.6 1344.2,148.2 1345.2,157.8 1346.2,145.6 1347.1,162.9 1348.1,193.7 1349.1,180.8 1350.0,197.3 1351.0,171.1 1351.9,158.3 1352.9,167.1 1353.9,188.9 1354.8,163.7 1355.8,174.2 1356.7,180.0 1357.7,176.3 1358.7,199.8 1359.6,188.8 1360.6,175.1 1361.6,177.3 1362.5,180.8 1363.5,194.7 1364.4,182.9 1365.4,182.6 1366.4,184.7 1367.3,192.3 1368.3,178.8 1369.2,164.6 1370.2,172.6 1371.2,167.2 1372.1,158.6 1373.1,153.4 1374.1,168.0 1375.0,182.0 1376.0,189.6 1376.9,187.9 1377.9,180.4 1378.9,171.1 1379.8,185.5 1380.8,184.4 1381.7,196.3 1382.7,175.9 1383.7,186.8 1384.6,182.4 1385.6,193.0 1386.5,192.9 1387.5,196.5 1388.5,168.9 1389.4,174.8 1390.4,183.6 1391.4,195.6 1392.3,197.0 1393.3,185.2 1394.2,161.7 1395.2,194.0 1396.2,198.8 1397.1,194.6 1398.1,196.7 1399.0,204.4 1400.0,196.4 1401.0,182.6 1401.9,200.4 1402.9,191.7 1403.9,177.1 1404.8,168.2 1405.8,184.6 1406.7,154.1 1407.7,163.1 1408.7,187.7 1409.6,174.6 1410.6,194.4 1411.5,179.5 1412.5,197.1 1413.5,182.6 1414.4,191.7 1415.4,174.8 1416.4,171.2 1417.3,174.3 1418.3,180.6 1419.2,168.5 1420.2,198.8 1421.2,188.1 1422.1,182.3 1423.1,177.7 1424.0,171.4 1425.0,148.1 1426.0,157.7 1426.9,161.8 1427.9,175.0 1428.8,158.1 1429.8,198.1 1430.8,170.7 1431.7,188.5 1432.7,205.6 1433.7,204.6 1434.6,198.2 1435.6,190.4 1436.5,188.9 1437.5,85.4 1438.5,183.1 1439.4,185.9 1440.4,204.6 1441.3,192.0 1442.3,176.6 1443.3,133.3 1444.2,203.4 1445.2,205.0 1446.2,178.2 1447.1,190.2 1448.1,195.3 1449.0,198.5 1450.0,184.9" fill="none" stroke="#1f77b4" stroke-opacity="0.35" stroke-width="2.4" stroke-linejoin="round"/>
<polyline points="778.0,192.8 779.0,197.4 779.9,203.6 780.9,196.2 781.8,178.2 782.8,184.2 783.8,172.9 784.7,177.5 785.7,179.9 786.7,180.6 787.6,182.8 788.6,170.2 789.5,172.0 790.5,187.1 791.5,184.5 792.4,186.0 793.4,179.3 794.3,180.3 795.3,177.6 796.3,197.8 797.2,187.5 798.2,168.4 799.2,194.2 800.1,168.4 801.1,173.8 802.0,183.1 803.0,201.6 804.0,181.3 804.9,147.9 805.9,195.0 806.8,183.5 807.8,195.7 808.8,199.4 809.7,202.1 810.7,195.3 811.6,183.1 812.6,179.0 813.6,177.1 814.5,186.2 815.5,184.0 816.5,192.7 817.4,162.0 818.4,172.3 819.3,200.2 820.3,201.8 821.3,174.5 822.2,196.1 823.2,195.1 824.1,185.4 825.1,196.9 826.1,139.3 827.0,159.2 828.0,184.8 829.0,169.7 829.9,189.8 830.9,197.5 831.8,188.8 832.8,184.0 833.8,191.7 834.7,177.5 835.7,197.7 836.6,199.3 837.6,201.5 838.6,185.5 839.5,174.6 840.5,171.4 841.5,194.6 842.4,188.4 843.4,180.8 844.3,199.8 845.3,199.9 846.3,185.7 847.2,176.1 848.2,177.9 849.1,174.7 850.1,176.3 851.1,179.4 852.0,184.2 853.0,194.5 853.9,192.4 854.9,193.1 855.9,158.3 856.8,169.5 857.8,178.6 858.8,185.4 859.7,186.8 860.7,189.3 861.6,180.1 862.6,183.5 863.6,173.5 864.5,189.0 865.5,182.6 866.4,172.2 867.4,193.4 868.4,108.6 869.3,183.1 870.3,188.5 871.3,192.3 872.2,204.1 873.2,182.9 874.1,144.5 875.1,200.9 876.1,186.3 877.0,202.6 878.0,183.8 878.9,178.9 879.9,174.4 880.9,182.8 881.8,197.1 882.8,205.4 883.8,180.4 884.7,189.0 885.7,192.8 886.6,167.7 887.6,186.1 888.6,188.6 889.5,146.7 890.5,189.0 891.4,197.5 892.4,196.8 893.4,174.7 894.3,170.1 895.3,205.8 896.2,207.1 897.2,196.5 898.2,192.1 899.1,192.6 900.1,175.3 901.1,199.6 902.0,178.1 903.0,180.4 903.9,175.8 904.9,177.7 905.9,170.3 906.8,182.2 907.8,190.5 908.7,177.6 909.7,179.6 910.7,196.5 911.6,173.6 912.6,163.4 913.6,156.6 914.5,171.1 915.5,174.3 916.4,185.5 917.4,195.9 918.4,189.9 919.3,185.3 920.3,192.9 921.2,164.4 922.2,195.4 923.2,198.0 924.1,197.9 925.1,175.5 926.1,184.4 927.0,188.9 928.0,196.2 928.9,197.9 929.9,202.5 930.9,183.1 931.8,176.2 932.8,155.0 933.7,186.4 934.7,153.3 935.7,183.7 936.6,203.4 937.6,197.6 938.5,190.1 939.5,177.7 940.5,193.8 941.4,182.1 942.4,160.6 943.4,185.8 944.3,193.8 945.3,203.7 946.2,193.0 947.2,178.1 948.2,171.6 949.1,167.7 950.1,158.5 951.0,171.5 952.0,166.0 953.0,189.2 953.9,195.5 954.9,187.6 955.9,195.2 956.8,183.2 957.8,165.5 958.7,171.0 959.7,188.6 960.7,194.9 961.6,172.2 962.6,189.7 963.5,186.3 964.5,188.9 965.5,114.6 966.4,171.0 967.4,186.2 968.4,199.6 969.3,174.6 970.3,177.6 971.2,172.0 972.2,179.8 973.2,172.3 974.1,162.1 975.1,156.9 976.0,176.2 977.0,186.0 978.0,180.5 978.9,180.5 979.9,175.5 980.8,189.9 981.8,205.8 982.8,193.0 983.7,127.2 984.7,173.8 985.7,157.9 986.6,161.2 987.6,180.0 988.5,169.4 989.5,179.6 990.5,165.4 991.4,173.4 992.4,173.9 993.3,144.5 994.3,181.1 995.3,198.9 996.2,191.7 997.2,205.9 998.2,192.6 999.1,176.0 1000.1,154.4 1001.0,165.6 1002.0,186.3 1003.0,200.9 1003.9,168.7 1004.9,195.0 1005.8,178.8 1006.8,203.9 1007.8,195.9 1008.7,182.3 1009.7,179.7 1010.7,183.4 1011.6,193.8 1012.6,198.1 1013.5,179.5 1014.5,176.9 1015.5,183.8 1016.4,182.0 1017.4,194.3 1018.3,176.6 1019.3,134.4 1020.3,186.4 1021.2,184.6 1022.2,170.7 1023.2,187.3 1024.1,158.8 1025.1,154.1 1026.0,174.7 1027.0,167.0 1028.0,155.5 1028.9,188.2 1029.9,178.5 1030.8,184.3 1031.8,187.6 1032.8,177.0 1033.7,187.8 1034.7,200.0 1035.6,203.9 1036.6,195.7 1037.6,182.9 1038.5,184.6 1039.5,186.9 1040.5,186.5 1041.4,168.3 1042.4,170.5 1043.3,188.5 1044.3,190.2 1045.3,171.5 1046.2,186.9 1047.2,190.7 1048.1,188.2 1049.1,197.5 1050.1,180.4 1051.0,203.5 1052.0,178.2 1053.0,187.8 1053.9,198.9 1054.9,189.3 1055.8,202.5 1056.8,189.0 1057.8,176.9 1058.7,188.9 1059.7,191.4 1060.6,175.8 1061.6,189.6 1062.6,187.1 1063.5,181.6 1064.5,162.3 1065.5,182.1 1066.4,183.5 1067.4,169.0 1068.3,203.5 1069.3,197.5 1070.3,205.6 1071.2,206.9 1072.2,176.9 1073.1,178.8 1074.1,162.1 1075.1,178.4 1076.0,175.0 1077.0,186.4 1077.9,192.1 1078.9,189.4 1079.9,185.7 1080.8,164.5 1081.8,178.9 1082.8,177.4 1083.7,185.2 1084.7,183.5 1085.6,198.1 1086.6,178.3 1087.6,188.8 1088.5,186.5 1089.5,188.5 1090.4,173.6 1091.4,173.0 1092.4,179.8 1093.3,180.6 1094.3,178.7 1095.3,172.0 1096.2,172.5 1097.2,162.0 1098.1,154.2 1099.1,162.3 1100.1,191.9 1101.0,164.9 1102.0,150.4 1102.9,173.2 1103.9,185.5 1104.9,203.8 1105.8,187.2 1106.8,196.7 1107.8,166.9 1108.7,202.6 1109.7,193.9 1110.6,181.1 1111.6,188.5 1112.6,195.3 1113.5,187.4 1114.5,192.2 1115.4,192.4 1116.4,189.2 1117.4,193.3 1118.3,191.7 1119.3,178.2 1120.2,187.2 1121.2,184.1 1122.2,193.4 1123.1,177.5 1124.1,196.2 1125.1,178.8 1126.0,206.7 1127.0,204.4 1127.9,206.1 1128.9,187.2 1129.9,182.7 1130.8,197.9 1131.8,197.1 1132.7,141.1 1133.7,181.4 1134.7,176.2 1135.6,197.8 1136.6,203.8 1137.6,189.8 1138.5,157.0 1139.5,180.2 1140.4,175.4 1141.4,192.6 1142.4,172.6 1143.3,186.1 1144.3,191.1 1145.2,204.2 1146.2,199.3 1147.2,190.9 1148.1,169.9 1149.1,193.2 1150.1,176.9 1151.0,186.5 1152.0,189.7 1152.9,197.3 1153.9,204.8 1154.9,204.8 1155.8,177.9 1156.8,195.8 1157.7,195.3 1158.7,176.7 1159.7,202.6 1160.6,190.6 1161.6,193.9 1162.5,188.0 1163.5,175.8 1164.5,183.9 1165.4,187.8 1166.4,177.6 1167.4,174.0 1168.3,190.0 1169.3,190.3 1170.2,145.6 1171.2,178.4 1172.2,196.3 1173.1,189.4 1174.1,164.2 1175.0,165.5 1176.0,181.3 1177.0,192.6 1177.9,195.7 1178.9,179.6 1179.9,178.9 1180.8,183.1 1181.8,151.7 1182.7,181.2 1183.7,189.9 1184.7,192.1 1185.6,186.4 1186.6,182.3 1187.5,145.6 1188.5,177.2 1189.5,174.9 1190.4,185.2 1191.4,205.8 1192.4,189.7 1193.3,197.4 1194.3,197.9 1195.2,193.7 1196.2,201.0 1197.2,200.8 1198.1,193.4 1199.1,193.7 1200.0,186.6 1201.0,195.9 1202.0,193.9 1202.9,200.0 1203.9,196.4 1204.8,188.7 1205.8,190.8 1206.8,201.7 1207.7,196.5 1208.7,190.3 1209.7,173.9 1210.6,182.1 1211.6,190.0 1212.5,199.5 1213.5,168.1 1214.5,190.9 1215.4,199.5 1216.4,194.9 1217.3,205.0 1218.3,186.0 1219.3,184.4 1220.2,179.5 1221.2,194.8 1222.2,195.8 1223.1,180.9 1224.1,172.1 1225.0,148.9 1226.0,153.4 1227.0,194.7 1227.9,189.8 1228.9,192.2 1229.8,175.2 1230.8,147.4 1231.8,178.6 1232.7,187.3 1233.7,179.0 1234.7,163.2 1235.6,184.7 1236.6,203.8 1237.5,203.6 1238.5,177.5 1239.5,179.7 1240.4,187.3 1241.4,196.8 1242.3,178.7 1243.3,179.3 1244.3,184.9 1245.2,192.0 1246.2,190.9 1247.2,192.1 1248.1,182.1 1249.1,167.1 1250.0,199.4 1251.0,204.2 1252.0,197.0 1252.9,190.9 1253.9,202.3 1254.8,200.0 1255.8,197.1 1256.8,196.1 1257.7,195.8 1258.7,192.0 1259.6,177.8 1260.6,172.6 1261.6,172.4 1262.5,176.7 1263.5,191.0 1264.5,193.8 1265.4,181.5 1266.4,182.9 1267.3,174.2 1268.3,177.6 1269.3,181.9 1270.2,178.6 1271.2,199.0 1272.1,194.5 1273.1,196.2 1274.1,181.0 1275.0,192.0 1276.0,94.4 1277.0,191.4 1277.9,183.0 1278.9,175.4 1279.8,184.6 1280.8,184.5 1281.8,183.5 1282.7,174.9 1283.7,185.9 1284.6,186.0 1285.6,191.3 1286.6,198.2 1287.5,140.0 1288.5,183.5 1289.5,194.4 1290.4,169.9 1291.4,189.1 1292.3,178.3 1293.3,178.2 1294.3,200.3 1295.2,194.2 1296.2,203.5 1297.1,196.8 1298.1,184.0 1299.1,160.6 1300.0,164.4 1301.0,195.3 1301.9,194.6 1302.9,171.2 1303.9,177.8 1304.8,159.0 1305.8,184.5 1306.8,192.3 1307.7,201.5 1308.7,198.0 1309.6,177.1 1310.6,193.5 1311.6,179.8 1312.5,177.8 1313.5,172.3 1314.4,184.2 1315.4,185.6 1316.4,157.8 1317.3,190.2 1318.3,178.8 1319.3,162.6 1320.2,170.0 1321.2,157.4 1322.1,136.6 1323.1,198.8 1324.1,202.5 1325.0,198.9 1326.0,194.2 1326.9,185.0 1327.9,195.4 1328.9,180.6 1329.8,200.1 1330.8,182.9 1331.8,188.6 1332.7,203.4 1333.7,206.6 1334.6,207.2 1335.6,205.9 1336.6,197.1 1337.5,175.9 1338.5,171.9 1339.4,196.0 1340.4,141.1 1341.4,201.5 1342.3,205.1 1343.3,198.8 1344.2,199.4 1345.2,160.7 1346.2,196.4 1347.1,188.8 1348.1,163.4 1349.1,183.1 1350.0,194.6 1351.0,169.4 1351.9,201.7 1352.9,206.3 1353.9,206.1 1354.8,195.1 1355.8,182.4 1356.7,187.4 1357.7,158.7 1358.7,178.1 1359.6,184.0 1360.6,190.0 1361.6,172.9 1362.5,181.4 1363.5,189.9 1364.4,166.1 1365.4,160.7 1366.4,161.9 1367.3,192.3 1368.3,126.5 1369.2,196.0 1370.2,194.3 1371.2,195.1 1372.1,193.4 1373.1,182.3 1374.1,196.0 1375.0,188.9 1376.0,192.3 1376.9,194.6 1377.9,193.7 1378.9,181.0 1379.8,180.6 1380.8,193.2 1381.7,186.0 1382.7,184.7 1383.7,180.3 1384.6,187.2 1385.6,173.3 1386.5,175.4 1387.5,194.7 1388.5,201.6 1389.4,204.6 1390.4,192.5 1391.4,196.1 1392.3,194.5 1393.3,190.9 1394.2,171.8 1395.2,151.8 1396.2,171.1 1397.1,153.4 1398.1,162.8 1399.0,159.1 1400.0,177.6 1401.0,196.0 1401.9,185.0 1402.9,167.5 1403.9,195.9 1404.8,191.3 1405.8,185.6 1406.7,177.6 1407.7,194.5 1408.7,195.5 1409.6,178.7 1410.6,158.0 1411.5,171.6 1412.5,165.7 1413.5,174.4 1414.4,174.7 1415.4,185.8 1416.4,188.4 1417.3,193.2 1418.3,188.0 1419.2,171.7 1420.2,143.4 1421.2,172.6 1422.1,188.1 1423.1,177.2 1424.0,206.9 1425.0,206.6 1426.0,200.6 1426.9,206.0 1427.9,192.1 1428.8,186.2 1429.8,129.9 1430.8,189.5 1431.7,201.3 1432.7,201.3 1433.7,197.3 1434.6,204.2 1435.6,184.4 1436.5,192.6 1437.5,175.5 1438.5,183.1 1439.4,180.3 1440.4,193.7 1441.3,192.8 1442.3,193.5 1443.3,186.6 1444.2,167.1 1445.2,185.0 1446.2,187.3 1447.1,181.7 1448.1,172.0 1449.0,181.1 1450.0,188.3" fill="none" stroke="#ff7f0e" stroke-opacity="0.35" stroke-width="2.4" stroke-linejoin="round"/>
</g>
<rect x="778" y="79" width="672" height="142" fill="none" stroke="#1a1a1a" stroke-width="2"/>
<line x1="778.00" y1="221" x2="778.00" y2="227.6" stroke="#1a1a1a" stroke-width="2"/>
<text x="778.00" y="249.40" font-size="20.3" text-anchor="middle" textLength="12.09" lengthAdjust="spacingAndGlyphs">0</text>
<line x1="874.14" y1="221" x2="874.14" y2="227.6" stroke="#1a1a1a" stroke-width="2"/>
<text x="874.14" y="249.40" font-size="20.3" text-anchor="middle" textLength="36.27" lengthAdjust="spacingAndGlyphs">100</text>
<line x1="970.27" y1="221" x2="970.27" y2="227.6" stroke="#1a1a1a" stroke-width="2"/>
<text x="970.27" y="249.40" font-size="20.3" text-anchor="middle" textLength="36.27" lengthAdjust="spacingAndGlyphs">200</text>
<line x1="1066.41" y1="221" x2="1066.41" y2="227.6" stroke="#1a1a1a" stroke-width="2"/>
<text x="1066.41" y="249.40" font-size="20.3" text-anchor="middle" textLength="36.27" lengthAdjust="spacingAndGlyphs">300</text>
<line x1="1162.55" y1="221" x2="1162.55" y2="227.6" stroke="#1a1a1a" stroke-width="2"/>
<text x="1162.55" y="249.40" font-size="20.3" text-anchor="middle" textLength="36.27" lengthAdjust="spacingAndGlyphs">400</text>
<line x1="1258.69" y1="221" x2="1258.69" y2="227.6" stroke="#1a1a1a" stroke-width="2"/>
<text x="1258.69" y="249.40" font-size="20.3" text-anchor="middle" textLength="36.27" lengthAdjust="spacingAndGlyphs">500</text>
<line x1="1354.82" y1="221" x2="1354.82" y2="227.6" stroke="#1a1a1a" stroke-width="2"/>
<text x="1354.82" y="249.40" font-size="20.3" text-anchor="middle" textLength="36.27" lengthAdjust="spacingAndGlyphs">600</text>
<line x1="771" y1="209.80" x2="778" y2="209.80" stroke="#1a1a1a" stroke-width="2"/>
<text x="763.80" y="218.10" font-size="20.3" text-anchor="end" textLength="12.09" lengthAdjust="spacingAndGlyphs">0</text>
<line x1="771" y1="144.80" x2="778" y2="144.80" stroke="#1a1a1a" stroke-width="2"/>
<text x="763.80" y="153.10" font-size="20.3" text-anchor="end" textLength="12.09" lengthAdjust="spacingAndGlyphs">2</text>
<line x1="771" y1="79.80" x2="778" y2="79.80" stroke="#1a1a1a" stroke-width="2"/>
<text x="763.80" y="88.10" font-size="20.3" text-anchor="end" textLength="12.09" lengthAdjust="spacingAndGlyphs">4</text>
<text x="371.50" y="284.20" font-size="24.3" text-anchor="middle" textLength="62.49" lengthAdjust="spacingAndGlyphs">roi_m</text>
<text x="371.50" y="311.00" font-size="24.3" text-anchor="middle" textLength="118.99" lengthAdjust="spacingAndGlyphs">Channel_1</text>
<text x="1114.00" y="284.20" font-size="24.3" text-anchor="middle" textLength="62.49" lengthAdjust="spacingAndGlyphs">roi_m</text>
<text x="1114.00" y="311.00" font-size="24.3" text-anchor="middle" textLength="118.99" lengthAdjust="spacingAndGlyphs">Channel_1</text>
<clipPath id="cl1"><rect x="35" y="319" width="673" height="142"/></clipPath>
<g clip-path="url(#cl1)">
<line x1="122.60" y1="424.50" x2="122.60" y2="471" stroke="#000" stroke-opacity="0.37" stroke-width="2.8"/>
<line x1="150.40" y1="424.50" x2="150.40" y2="471" stroke="#000" stroke-opacity="0.37" stroke-width="2.8"/>
<line x1="215.30" y1="424.50" x2="215.30" y2="471" stroke="#000" stroke-opacity="0.37" stroke-width="2.8"/>
<line x1="225.40" y1="424.50" x2="225.40" y2="471" stroke="#000" stroke-opacity="0.37" stroke-width="2.8"/>
<line x1="230.40" y1="424.50" x2="230.40" y2="471" stroke="#000" stroke-opacity="0.37" stroke-width="2.8"/>
<line x1="235.50" y1="424.50" x2="235.50" y2="471" stroke="#000" stroke-opacity="0.37" stroke-width="2.8"/>
<line x1="236.40" y1="424.50" x2="236.40" y2="471" stroke="#000" stroke-opacity="0.37" stroke-width="2.8"/>
<line x1="246.10" y1="424.50" x2="246.10" y2="471" stroke="#000" stroke-opacity="0.37" stroke-width="2.8"/>
<line x1="305.60" y1="424.50" x2="305.60" y2="471" stroke="#000" stroke-opacity="0.37" stroke-width="2.8"/>
<line x1="357.30" y1="424.50" x2="357.30" y2="471" stroke="#000" stroke-opacity="0.37" stroke-width="2.8"/>
<line x1="448.60" y1="424.50" x2="448.60" y2="471" stroke="#000" stroke-opacity="0.37" stroke-width="2.8"/>
<line x1="512.60" y1="424.50" x2="512.60" y2="471" stroke="#000" stroke-opacity="0.37" stroke-width="2.8"/>
<line x1="549.70" y1="424.50" x2="549.70" y2="471" stroke="#000" stroke-opacity="0.37" stroke-width="2.8"/>
<path d="M64.9,418.79 L65.9,418.63 L66.9,418.45 L67.9,418.23 L68.9,417.98 L69.9,417.71 L70.9,417.39 L71.9,417.05 L72.9,416.67 L73.9,416.26 L74.9,415.81 L75.9,415.33 L76.9,414.81 L77.9,414.26 L78.9,413.67 L79.9,413.04 L80.9,412.36 L81.9,411.65 L82.9,410.90 L83.9,410.10 L84.9,409.27 L85.9,408.39 L86.9,407.48 L87.9,406.53 L88.9,405.55 L89.9,404.54 L90.9,403.49 L91.9,402.43 L92.9,401.34 L93.9,400.23 L94.9,399.11 L95.9,397.97 L96.9,396.81 L97.9,395.65 L98.9,394.47 L99.9,393.27 L100.9,392.07 L101.9,390.85 L102.9,389.63 L103.9,388.39 L104.9,387.13 L105.9,385.87 L106.9,384.59 L107.9,383.30 L108.9,382.00 L109.9,380.68 L110.9,379.36 L111.9,378.02 L112.9,376.68 L113.9,375.32 L114.9,373.95 L115.9,372.56 L116.9,371.17 L117.9,369.76 L118.9,368.33 L119.9,366.89 L120.9,365.44 L121.9,363.97 L122.9,362.49 L123.9,360.99 L124.9,359.49 L125.9,357.98 L126.9,356.47 L127.9,354.97 L128.9,353.47 L129.9,351.99 L130.9,350.52 L131.9,349.09 L132.9,347.68 L133.9,346.31 L134.9,344.98 L135.9,343.70 L136.9,342.46 L137.9,341.26 L138.9,340.12 L139.9,339.02 L140.9,337.97 L141.9,336.96 L142.9,336.00 L143.9,335.08 L144.9,334.19 L145.9,333.35 L146.9,332.55 L147.9,331.79 L148.9,331.06 L149.9,330.38 L150.9,329.74 L151.9,329.15 L152.9,328.61 L153.9,328.11 L154.9,327.67 L155.9,327.29 L156.9,326.96 L157.9,326.69 L158.9,326.47 L159.9,326.31 L160.9,326.21 L161.9,326.16 L162.9,326.16 L163.9,326.21 L164.9,326.29 L165.9,326.42 L166.9,326.58 L167.9,326.76 L168.9,326.97 L169.9,327.20 L170.9,327.44 L171.9,327.69 L172.9,327.95 L173.9,328.20 L174.9,328.45 L175.9,328.70 L176.9,328.94 L177.9,329.17 L178.9,329.39 L179.9,329.60 L180.9,329.80 L181.9,329.98 L182.9,330.15 L183.9,330.30 L184.9,330.44 L185.9,330.55 L186.9,330.65 L187.9,330.73 L188.9,330.78 L189.9,330.81 L190.9,330.82 L191.9,330.80 L192.9,330.76 L193.9,330.69 L194.9,330.59 L195.9,330.48 L196.9,330.34 L197.9,330.18 L198.9,330.01 L199.9,329.83 L200.9,329.64 L201.9,329.44 L202.9,329.23 L203.9,329.03 L204.9,328.83 L205.9,328.64 L206.9,328.45 L207.9,328.27 L208.9,328.10 L209.9,327.94 L210.9,327.80 L211.9,327.67 L212.9,327.57 L213.9,327.48 L214.9,327.42 L215.9,327.39 L216.9,327.38 L217.9,327.41 L218.9,327.47 L219.9,327.57 L220.9,327.71 L221.9,327.89 L222.9,328.11 L223.9,328.36 L224.9,328.66 L225.9,328.99 L226.9,329.36 L227.9,329.77 L228.9,330.21 L229.9,330.68 L230.9,331.18 L231.9,331.72 L232.9,332.28 L233.9,332.87 L234.9,333.49 L235.9,334.14 L236.9,334.81 L237.9,335.52 L238.9,336.25 L239.9,337.02 L240.9,337.81 L241.9,338.62 L242.9,339.47 L243.9,340.34 L244.9,341.23 L245.9,342.15 L246.9,343.08 L247.9,344.04 L248.9,345.02 L249.9,346.01 L250.9,347.02 L251.9,348.04 L252.9,349.09 L253.9,350.14 L254.9,351.22 L255.9,352.31 L256.9,353.41 L257.9,354.52 L258.9,355.65 L259.9,356.79 L260.9,357.94 L261.9,359.10 L262.9,360.26 L263.9,361.43 L264.9,362.59 L265.9,363.76 L266.9,364.92 L267.9,366.07 L268.9,367.21 L269.9,368.34 L270.9,369.46 L271.9,370.56 L272.9,371.65 L273.9,372.73 L274.9,373.79 L275.9,374.84 L276.9,375.87 L277.9,376.89 L278.9,377.90 L279.9,378.89 L280.9,379.87 L281.9,380.84 L282.9,381.79 L283.9,382.73 L284.9,383.66 L285.9,384.58 L286.9,385.47 L287.9,386.36 L288.9,387.22 L289.9,388.07 L290.9,388.89 L291.9,389.70 L292.9,390.48 L293.9,391.24 L294.9,391.98 L295.9,392.69 L296.9,393.38 L297.9,394.05 L298.9,394.69 L299.9,395.31 L300.9,395.91 L301.9,396.48 L302.9,397.04 L303.9,397.58 L304.9,398.10 L305.9,398.60 L306.9,399.09 L307.9,399.56 L308.9,400.02 L309.9,400.47 L310.9,400.91 L311.9,401.34 L312.9,401.76 L313.9,402.17 L314.9,402.57 L315.9,402.97 L316.9,403.36 L317.9,403.74 L318.9,404.13 L319.9,404.50 L320.9,404.88 L321.9,405.25 L322.9,405.61 L323.9,405.98 L324.9,406.34 L325.9,406.70 L326.9,407.06 L327.9,407.41 L328.9,407.77 L329.9,408.11 L330.9,408.46 L331.9,408.80 L332.9,409.15 L333.9,409.48 L334.9,409.82 L335.9,410.15 L336.9,410.48 L337.9,410.81 L338.9,411.14 L339.9,411.46 L340.9,411.79 L341.9,412.11 L342.9,412.43 L343.9,412.75 L344.9,413.08 L345.9,413.40 L346.9,413.72 L347.9,414.05 L348.9,414.38 L349.9,414.70 L350.9,415.03 L351.9,415.37 L352.9,415.70 L353.9,416.03 L354.9,416.37 L355.9,416.71 L356.9,417.05 L357.9,417.40 L358.9,417.74 L359.9,418.09 L360.9,418.44 L361.9,418.80 L362.9,419.16 L363.9,419.52 L364.9,419.89 L365.9,420.26 L366.9,420.64 L367.9,421.02 L368.9,421.41 L369.9,421.81 L370.9,422.21 L371.9,422.62 L372.9,423.03 L373.9,423.45 L374.9,423.88 L375.9,424.31 L376.9,424.74 L377.9,425.17 L378.9,425.60 L379.9,426.03 L380.9,426.46 L381.9,426.88 L382.9,427.30 L383.9,427.72 L384.9,428.13 L385.9,428.54 L386.9,428.94 L387.9,429.33 L388.9,429.72 L389.9,430.10 L390.9,430.47 L391.9,430.84 L392.9,431.20 L393.9,431.55 L394.9,431.90 L395.9,432.24 L396.9,432.57 L397.9,432.90 L398.9,433.22 L399.9,433.52 L400.9,433.82 L401.9,434.11 L402.9,434.39 L403.9,434.65 L404.9,434.90 L405.9,435.14 L406.9,435.37 L407.9,435.59 L408.9,435.79 L409.9,435.98 L410.9,436.16 L411.9,436.33 L412.9,436.49 L413.9,436.64 L414.9,436.78 L415.9,436.91 L416.9,437.03 L417.9,437.15 L418.9,437.26 L419.9,437.37 L420.9,437.47 L421.9,437.57 L422.9,437.66 L423.9,437.76 L424.9,437.84 L425.9,437.93 L426.9,438.02 L427.9,438.10 L428.9,438.19 L429.9,438.27 L430.9,438.36 L431.9,438.44 L432.9,438.53 L433.9,438.62 L434.9,438.71 L435.9,438.80 L436.9,438.90 L437.9,439.00 L438.9,439.11 L439.9,439.22 L440.9,439.34 L441.9,439.47 L442.9,439.60 L443.9,439.74 L444.9,439.89 L445.9,440.04 L446.9,440.21 L447.9,440.38 L448.9,440.56 L449.9,440.75 L450.9,440.94 L451.9,441.14 L452.9,441.35 L453.9,441.56 L454.9,441.77 L455.9,441.99 L456.9,442.20 L457.9,442.42 L458.9,442.63 L459.9,442.85 L460.9,443.05 L461.9,443.26 L462.9,443.45 L463.9,443.64 L464.9,443.82 L465.9,443.99 L466.9,444.15 L467.9,444.30 L468.9,444.43 L469.9,444.55 L470.9,444.66 L471.9,444.76 L472.9,444.84 L473.9,444.91 L474.9,444.97 L475.9,445.02 L476.9,445.06 L477.9,445.09 L478.9,445.12 L479.9,445.13 L480.9,445.14 L481.9,445.15 L482.9,445.15 L483.9,445.15 L484.9,445.15 L485.9,445.14 L486.9,445.13 L487.9,445.12 L488.9,445.11 L489.9,445.09 L490.9,445.07 L491.9,445.05 L492.9,445.03 L493.9,445.01 L494.9,444.98 L495.9,444.95 L496.9,444.92 L497.9,444.88 L498.9,444.84 L499.9,444.80 L500.9,444.76 L501.9,444.71 L502.9,444.67 L503.9,444.62 L504.9,444.57 L505.9,444.52 L506.9,444.47 L507.9,444.43 L508.9,444.38 L509.9,444.34 L510.9,444.30 L511.5,444.26" fill="none" stroke="#1f77b4" stroke-width="2.4" stroke-linecap="butt"/>
<path d="M77.7,417.39 L78.7,417.16 L79.7,416.89 L80.7,416.57 L81.7,416.22 L82.7,415.82 L83.7,415.37 L84.7,414.88 L85.7,414.35 L86.7,413.76 L87.7,413.13 L88.7,412.45 L89.7,411.72 L90.7,410.94 L91.7,410.11 L92.7,409.22 L93.7,408.29 L94.7,407.30 L95.7,406.26 L96.7,405.17 L97.7,404.04 L98.7,402.87 L99.7,401.65 L100.7,400.40 L101.7,399.12 L102.7,397.81 L103.7,396.47 L104.7,395.11 L105.7,393.74 L106.7,392.35 L107.7,390.94 L108.7,389.53 L109.7,388.10 L110.7,386.66 L111.7,385.22 L112.7,383.76 L113.7,382.30 L114.7,380.84 L115.7,379.37 L116.7,377.90 L117.7,376.43 L118.7,374.96 L119.7,373.50 L120.7,372.05 L121.7,370.62 L122.7,369.20 L123.7,367.79 L124.7,366.41 L125.7,365.05 L126.7,363.71 L127.7,362.39 L128.7,361.10 L129.7,359.84 L130.7,358.59 L131.7,357.38 L132.7,356.19 L133.7,355.03 L134.7,353.89 L135.7,352.79 L136.7,351.72 L137.7,350.68 L138.7,349.67 L139.7,348.71 L140.7,347.79 L141.7,346.91 L142.7,346.07 L143.7,345.27 L144.7,344.53 L145.7,343.82 L146.7,343.16 L147.7,342.54 L148.7,341.96 L149.7,341.43 L150.7,340.93 L151.7,340.46 L152.7,340.03 L153.7,339.64 L154.7,339.28 L155.7,338.95 L156.7,338.66 L157.7,338.39 L158.7,338.16 L159.7,337.96 L160.7,337.79 L161.7,337.65 L162.7,337.53 L163.7,337.44 L164.7,337.37 L165.7,337.33 L166.7,337.30 L167.7,337.29 L168.7,337.30 L169.7,337.32 L170.7,337.35 L171.7,337.39 L172.7,337.44 L173.7,337.49 L174.7,337.56 L175.7,337.63 L176.7,337.70 L177.7,337.78 L178.7,337.87 L179.7,337.96 L180.7,338.05 L181.7,338.15 L182.7,338.25 L183.7,338.36 L184.7,338.47 L185.7,338.58 L186.7,338.70 L187.7,338.82 L188.7,338.95 L189.7,339.09 L190.7,339.23 L191.7,339.38 L192.7,339.54 L193.7,339.71 L194.7,339.89 L195.7,340.07 L196.7,340.27 L197.7,340.48 L198.7,340.70 L199.7,340.92 L200.7,341.16 L201.7,341.41 L202.7,341.67 L203.7,341.94 L204.7,342.22 L205.7,342.51 L206.7,342.81 L207.7,343.11 L208.7,343.42 L209.7,343.74 L210.7,344.07 L211.7,344.40 L212.7,344.75 L213.7,345.10 L214.7,345.46 L215.7,345.82 L216.7,346.20 L217.7,346.58 L218.7,346.98 L219.7,347.38 L220.7,347.79 L221.7,348.21 L222.7,348.64 L223.7,349.08 L224.7,349.53 L225.7,349.98 L226.7,350.44 L227.7,350.90 L228.7,351.37 L229.7,351.84 L230.7,352.31 L231.7,352.79 L232.7,353.27 L233.7,353.75 L234.7,354.23 L235.7,354.71 L236.7,355.19 L237.7,355.67 L238.7,356.16 L239.7,356.64 L240.7,357.12 L241.7,357.61 L242.7,358.09 L243.7,358.58 L244.7,359.07 L245.7,359.56 L246.7,360.06 L247.7,360.55 L248.7,361.06 L249.7,361.56 L250.7,362.07 L251.7,362.58 L252.7,363.10 L253.7,363.63 L254.7,364.16 L255.7,364.69 L256.7,365.24 L257.7,365.79 L258.7,366.34 L259.7,366.91 L260.7,367.48 L261.7,368.06 L262.7,368.64 L263.7,369.23 L264.7,369.83 L265.7,370.44 L266.7,371.05 L267.7,371.67 L268.7,372.30 L269.7,372.92 L270.7,373.56 L271.7,374.20 L272.7,374.84 L273.7,375.49 L274.7,376.14 L275.7,376.79 L276.7,377.45 L277.7,378.11 L278.7,378.78 L279.7,379.45 L280.7,380.12 L281.7,380.80 L282.7,381.48 L283.7,382.16 L284.7,382.85 L285.7,383.54 L286.7,384.23 L287.7,384.92 L288.7,385.61 L289.7,386.29 L290.7,386.98 L291.7,387.66 L292.7,388.33 L293.7,389.00 L294.7,389.66 L295.7,390.32 L296.7,390.96 L297.7,391.60 L298.7,392.23 L299.7,392.85 L300.7,393.45 L301.7,394.06 L302.7,394.65 L303.7,395.23 L304.7,395.80 L305.7,396.37 L306.7,396.93 L307.7,397.48 L308.7,398.03 L309.7,398.57 L310.7,399.09 L311.7,399.61 L312.7,400.12 L313.7,400.61 L314.7,401.09 L315.7,401.55 L316.7,401.99 L317.7,402.40 L318.7,402.80 L319.7,403.17 L320.7,403.51 L321.7,403.83 L322.7,404.12 L323.7,404.39 L324.7,404.62 L325.7,404.83 L326.7,405.02 L327.7,405.19 L328.7,405.33 L329.7,405.46 L330.7,405.56 L331.7,405.66 L332.7,405.74 L333.7,405.82 L334.7,405.88 L335.7,405.94 L336.7,405.99 L337.7,406.04 L338.7,406.08 L339.7,406.12 L340.7,406.16 L341.7,406.19 L342.7,406.22 L343.7,406.25 L344.7,406.28 L345.7,406.30 L346.7,406.32 L347.7,406.34 L348.7,406.36 L349.7,406.38 L350.7,406.39 L351.7,406.41 L352.7,406.42 L353.7,406.43 L354.7,406.45 L355.7,406.46 L356.7,406.47 L357.7,406.48 L358.7,406.49 L359.7,406.50 L360.7,406.51 L361.7,406.52 L362.7,406.54 L363.7,406.56 L364.7,406.58 L365.7,406.60 L366.7,406.63 L367.7,406.67 L368.7,406.71 L369.7,406.76 L370.7,406.82 L371.7,406.88 L372.7,406.96 L373.7,407.05 L374.7,407.15 L375.7,407.26 L376.7,407.38 L377.7,407.51 L378.7,407.66 L379.7,407.81 L380.7,407.98 L381.7,408.15 L382.7,408.34 L383.7,408.53 L384.7,408.73 L385.7,408.94 L386.7,409.16 L387.7,409.38 L388.7,409.62 L389.7,409.86 L390.7,410.11 L391.7,410.37 L392.7,410.64 L393.7,410.92 L394.7,411.22 L395.7,411.52 L396.7,411.83 L397.7,412.16 L398.7,412.50 L399.7,412.85 L400.7,413.22 L401.7,413.59 L402.7,413.98 L403.7,414.38 L404.7,414.78 L405.7,415.20 L406.7,415.62 L407.7,416.05 L408.7,416.48 L409.7,416.92 L410.7,417.36 L411.7,417.80 L412.7,418.24 L413.7,418.68 L414.7,419.12 L415.7,419.56 L416.7,419.99 L417.7,420.42 L418.7,420.84 L419.7,421.26 L420.7,421.67 L421.7,422.07 L422.7,422.47 L423.7,422.86 L424.7,423.24 L425.7,423.62 L426.7,423.99 L427.7,424.35 L428.7,424.71 L429.7,425.06 L430.7,425.41 L431.7,425.75 L432.7,426.09 L433.7,426.42 L434.7,426.75 L435.7,427.08 L436.7,427.41 L437.7,427.73 L438.7,428.05 L439.7,428.36 L440.7,428.68 L441.7,428.99 L442.7,429.29 L443.7,429.60 L444.7,429.90 L445.7,430.19 L446.7,430.48 L447.7,430.77 L448.7,431.06 L449.7,431.34 L450.7,431.61 L451.7,431.89 L452.7,432.15 L453.7,432.42 L454.7,432.68 L455.7,432.93 L456.7,433.18 L457.7,433.43 L458.7,433.67 L459.7,433.91 L460.7,434.15 L461.7,434.38 L462.7,434.61 L463.7,434.84 L464.7,435.06 L465.7,435.28 L466.7,435.50 L467.7,435.72 L468.7,435.93 L469.7,436.15 L470.7,436.36 L471.7,436.56 L472.7,436.77 L473.7,436.98 L474.7,437.18 L475.7,437.38 L476.7,437.58 L477.7,437.78 L478.7,437.97 L479.7,438.16 L480.7,438.36 L481.7,438.55 L482.7,438.73 L483.7,438.92 L484.7,439.11 L485.7,439.29 L486.7,439.47 L487.7,439.65 L488.7,439.83 L489.7,440.00 L490.7,440.17 L491.7,440.35 L492.7,440.52 L493.7,440.68 L494.7,440.85 L495.7,441.02 L496.7,441.18 L497.7,441.34 L498.7,441.50 L499.7,441.66 L500.7,441.81 L501.7,441.96 L502.7,442.12 L503.7,442.27 L504.7,442.42 L505.7,442.56 L506.7,442.71 L507.7,442.86 L508.7,443.00 L509.7,443.14 L510.7,443.28 L511.7,443.42 L512.7,443.56 L513.7,443.69 L514.7,443.83 L515.7,443.96 L516.7,444.08 L517.7,444.21 L518.7,444.32 L519.7,444.44 L520.7,444.54 L521.7,444.64 L522.7,444.73 L523.7,444.81 L524.7,444.88 L525.7,444.94 L526.7,444.99 L527.7,445.04 L528.7,445.07 L529.7,445.11 L530.7,445.13 L531.7,445.15 L532.7,445.16 L533.7,445.17 L534.7,445.18 L535.7,445.19 L536.7,445.19 L537.7,445.19 L538.7,445.20 L539.7,445.20 L540.7,445.20 L541.7,445.20 L542.7,445.20 L543.7,445.20 L544.7,445.20 L545.7,445.20 L546.7,445.20 L547.7,445.20 L548.7,445.20 L549.7,445.20 L550.7,445.20 L551.7,445.20 L552.7,445.20 L553.7,445.20 L554.7,445.20 L555.7,445.20 L556.7,445.20 L557.7,445.20 L558.7,445.20 L559.7,445.20 L560.7,445.20 L561.7,445.20 L562.7,445.20 L563.7,445.20 L564.7,445.20 L565.7,445.20 L566.7,445.21 L567.7,445.21 L568.7,445.21 L569.7,445.22 L570.7,445.22 L571.7,445.23 L572.7,445.24 L573.7,445.25 L574.7,445.27 L575.7,445.28 L576.7,445.30 L577.7,445.32 L578.7,445.34 L579.7,445.37 L580.7,445.40 L581.7,445.43 L582.7,445.46 L583.7,445.50 L584.7,445.54 L585.7,445.58 L586.7,445.62 L587.7,445.67 L588.7,445.72 L589.7,445.76 L590.7,445.82 L591.7,445.87 L592.7,445.92 L593.7,445.98 L594.7,446.03 L595.7,446.09 L596.7,446.15 L597.7,446.20 L598.7,446.26 L599.7,446.32 L600.7,446.38 L601.7,446.44 L602.7,446.50 L603.7,446.55 L604.7,446.61 L605.7,446.67 L606.7,446.72 L607.7,446.78 L608.7,446.83 L609.7,446.88 L610.7,446.94 L611.7,446.98 L612.7,447.03 L613.7,447.08 L614.7,447.12 L615.7,447.16 L616.7,447.20 L617.7,447.24 L618.7,447.27 L619.7,447.30 L620.7,447.33 L621.7,447.36 L622.7,447.38 L623.7,447.40 L624.7,447.42 L625.7,447.43 L626.7,447.44 L627.7,447.45 L628.7,447.46 L629.7,447.47 L630.7,447.47 L631.7,447.47 L632.7,447.47 L633.7,447.47 L634.7,447.47 L635.7,447.47 L636.7,447.46 L637.7,447.46 L638.7,447.45 L639.7,447.44 L640.7,447.43 L641.7,447.42 L642.7,447.41 L643.7,447.40 L644.7,447.39 L645.7,447.38 L646.7,447.36 L647.7,447.35 L648.7,447.33 L649.7,447.31 L650.7,447.30 L651.7,447.28 L652.7,447.26 L653.7,447.24 L654.7,447.21 L655.7,447.19 L656.7,447.17 L657.7,447.14 L658.7,447.12 L659.7,447.09 L660.7,447.06 L661.7,447.03 L662.7,447.00 L663.7,446.97 L664.7,446.93 L665.7,446.90 L666.7,446.86 L667.7,446.83 L668.7,446.79 L669.7,446.76 L670.7,446.72 L671.7,446.69 L672.7,446.65 L673.7,446.62 L674.7,446.59 L675.7,446.56 L676.7,446.53 L677.7,446.51" fill="none" stroke="#ff7f0e" stroke-width="2.4" stroke-linecap="butt"/>
</g>
<rect x="35" y="319" width="673" height="142" fill="none" stroke="#1a1a1a" stroke-width="2"/>
<line x1="50.00" y1="461" x2="50.00" y2="467.6" stroke="#1a1a1a" stroke-width="2"/>
<text x="50.00" y="489.40" font-size="20.3" text-anchor="middle" textLength="12.09" lengthAdjust="spacingAndGlyphs">0</text>
<line x1="151.53" y1="461" x2="151.53" y2="467.6" stroke="#1a1a1a" stroke-width="2"/>
<text x="151.53" y="489.40" font-size="20.3" text-anchor="middle" textLength="12.09" lengthAdjust="spacingAndGlyphs">1</text>
<line x1="253.06" y1="461" x2="253.06" y2="467.6" stroke="#1a1a1a" stroke-width="2"/>
<text x="253.06" y="489.40" font-size="20.3" text-anchor="middle" textLength="12.09" lengthAdjust="spacingAndGlyphs">2</text>
<line x1="354.59" y1="461" x2="354.59" y2="467.6" stroke="#1a1a1a" stroke-width="2"/>
<text x="354.59" y="489.40" font-size="20.3" text-anchor="middle" textLength="12.09" lengthAdjust="spacingAndGlyphs">3</text>
<line x1="456.12" y1="461" x2="456.12" y2="467.6" stroke="#1a1a1a" stroke-width="2"/>
<text x="456.12" y="489.40" font-size="20.3" text-anchor="middle" textLength="12.09" lengthAdjust="spacingAndGlyphs">4</text>
<line x1="557.65" y1="461" x2="557.65" y2="467.6" stroke="#1a1a1a" stroke-width="2"/>
<text x="557.65" y="489.40" font-size="20.3" text-anchor="middle" textLength="12.09" lengthAdjust="spacingAndGlyphs">5</text>
<line x1="659.18" y1="461" x2="659.18" y2="467.6" stroke="#1a1a1a" stroke-width="2"/>
<text x="659.18" y="489.40" font-size="20.3" text-anchor="middle" textLength="12.09" lengthAdjust="spacingAndGlyphs">6</text>
<clipPath id="cr1"><rect x="778" y="319" width="672" height="142"/></clipPath>
<g clip-path="url(#cr1)">
<line x1="851.26" y1="424.50" x2="851.26" y2="471" stroke="#000" stroke-opacity="0.37" stroke-width="2.8"/>
<line x1="868.18" y1="424.50" x2="868.18" y2="471" stroke="#000" stroke-opacity="0.37" stroke-width="2.8"/>
<line x1="940.28" y1="424.50" x2="940.28" y2="471" stroke="#000" stroke-opacity="0.37" stroke-width="2.8"/>
<line x1="985.37" y1="424.50" x2="985.37" y2="471" stroke="#000" stroke-opacity="0.37" stroke-width="2.8"/>
<line x1="987.00" y1="424.50" x2="987.00" y2="471" stroke="#000" stroke-opacity="0.37" stroke-width="2.8"/>
<line x1="994.21" y1="424.50" x2="994.21" y2="471" stroke="#000" stroke-opacity="0.37" stroke-width="2.8"/>
<line x1="1005.46" y1="424.50" x2="1005.46" y2="471" stroke="#000" stroke-opacity="0.37" stroke-width="2.8"/>
<line x1="1007.29" y1="424.50" x2="1007.29" y2="471" stroke="#000" stroke-opacity="0.37" stroke-width="2.8"/>
<line x1="1165.34" y1="424.50" x2="1165.34" y2="471" stroke="#000" stroke-opacity="0.37" stroke-width="2.8"/>
<line x1="1181.30" y1="424.50" x2="1181.30" y2="471" stroke="#000" stroke-opacity="0.37" stroke-width="2.8"/>
<line x1="1243.40" y1="424.50" x2="1243.40" y2="471" stroke="#000" stroke-opacity="0.37" stroke-width="2.8"/>
<line x1="1392.41" y1="424.50" x2="1392.41" y2="471" stroke="#000" stroke-opacity="0.37" stroke-width="2.8"/>
<polyline points="778.0,429.5 779.0,425.6 779.9,422.0 780.9,427.9 781.8,426.1 782.8,415.9 783.8,419.0 784.7,424.3 785.7,413.8 786.7,409.9 787.6,409.0 788.6,407.6 789.5,416.8 790.5,413.8 791.5,386.7 792.4,414.4 793.4,433.6 794.3,424.7 795.3,420.5 796.3,419.7 797.2,427.1 798.2,428.2 799.2,442.4 800.1,444.7 801.1,445.7 802.0,440.3 803.0,423.2 804.0,416.4 804.9,433.6 805.9,426.1 806.8,419.0 807.8,427.6 808.8,442.0 809.7,421.0 810.7,427.4 811.6,429.3 812.6,413.1 813.6,417.4 814.5,415.2 815.5,407.9 816.5,419.5 817.4,429.6 818.4,417.9 819.3,420.9 820.3,415.7 821.3,417.2 822.2,427.5 823.2,424.2 824.1,426.4 825.1,426.4 826.1,425.0 827.0,421.7 828.0,422.0 829.0,433.9 829.9,422.8 830.9,435.7 831.8,411.6 832.8,427.2 833.8,425.9 834.7,413.5 835.7,420.8 836.6,430.8 837.6,434.4 838.6,418.3 839.5,410.3 840.5,401.8 841.5,403.2 842.4,410.4 843.4,400.3 844.3,383.7 845.3,404.3 846.3,393.9 847.2,387.4 848.2,374.0 849.1,386.7 850.1,358.7 851.1,382.4 852.0,382.0 853.0,376.2 853.9,426.7 854.9,404.3 855.9,409.8 856.8,416.2 857.8,410.7 858.8,410.2 859.7,408.8 860.7,420.5 861.6,409.8 862.6,436.0 863.6,434.4 864.5,436.2 865.5,425.6 866.4,427.2 867.4,418.7 868.4,427.1 869.3,411.5 870.3,411.2 871.3,421.8 872.2,435.2 873.2,434.8 874.1,438.0 875.1,414.9 876.1,413.1 877.0,430.8 878.0,411.2 878.9,424.1 879.9,443.5 880.9,425.4 881.8,420.0 882.8,428.5 883.8,437.8 884.7,427.5 885.7,435.1 886.6,433.8 887.6,429.0 888.6,426.8 889.5,430.1 890.5,434.4 891.4,420.0 892.4,439.2 893.4,421.7 894.3,415.2 895.3,409.2 896.2,415.3 897.2,410.7 898.2,403.1 899.1,420.1 900.1,414.3 901.1,409.6 902.0,425.1 903.0,426.8 903.9,402.5 904.9,401.1 905.9,418.4 906.8,409.8 907.8,410.6 908.7,401.8 909.7,402.1 910.7,435.7 911.6,425.9 912.6,407.1 913.6,398.0 914.5,415.7 915.5,426.1 916.4,413.2 917.4,417.5 918.4,410.9 919.3,420.7 920.3,400.4 921.2,394.9 922.2,393.3 923.2,373.3 924.1,424.3 925.1,422.8 926.1,399.6 927.0,422.3 928.0,397.8 928.9,376.4 929.9,400.7 930.9,402.6 931.8,388.5 932.8,385.3 933.7,403.8 934.7,403.9 935.7,400.4 936.6,404.3 937.6,395.1 938.5,395.6 939.5,383.9 940.5,417.5 941.4,392.2 942.4,389.3 943.4,400.1 944.3,396.8 945.3,389.6 946.2,396.4 947.2,406.0 948.2,404.1 949.1,416.0 950.1,427.1 951.0,427.1 952.0,427.3 953.0,419.9 953.9,414.3 954.9,419.2 955.9,412.9 956.8,424.0 957.8,431.8 958.7,434.7 959.7,436.6 960.7,432.3 961.6,418.0 962.6,434.7 963.5,423.8 964.5,424.4 965.5,417.2 966.4,425.1 967.4,417.3 968.4,424.7 969.3,417.4 970.3,436.8 971.2,422.2 972.2,415.8 973.2,433.5 974.1,418.5 975.1,430.6 976.0,416.7 977.0,420.8 978.0,416.5 978.9,417.8 979.9,431.1 980.8,412.8 981.8,410.2 982.8,427.6 983.7,420.0 984.7,418.7 985.7,427.5 986.6,433.1 987.6,416.4 988.5,424.8 989.5,417.1 990.5,407.4 991.4,416.1 992.4,429.8 993.3,420.5 994.3,435.8 995.3,437.6 996.2,412.7 997.2,430.9 998.2,428.8 999.1,437.3 1000.1,433.3 1001.0,429.3 1002.0,447.2 1003.0,438.5 1003.9,425.8 1004.9,419.7 1005.8,421.2 1006.8,431.0 1007.8,423.0 1008.7,427.1 1009.7,430.1 1010.7,424.3 1011.6,402.8 1012.6,422.8 1013.5,412.2 1014.5,415.9 1015.5,432.2 1016.4,432.6 1017.4,427.2 1018.3,428.5 1019.3,423.7 1020.3,432.5 1021.2,435.7 1022.2,422.2 1023.2,426.4 1024.1,433.8 1025.1,429.9 1026.0,415.4 1027.0,427.9 1028.0,437.9 1028.9,422.3 1029.9,409.0 1030.8,409.6 1031.8,429.7 1032.8,441.5 1033.7,417.4 1034.7,421.5 1035.6,416.4 1036.6,420.2 1037.6,404.4 1038.5,413.2 1039.5,419.1 1040.5,416.6 1041.4,428.2 1042.4,419.2 1043.3,419.2 1044.3,437.9 1045.3,434.9 1046.2,435.2 1047.2,438.3 1048.1,422.6 1049.1,411.6 1050.1,415.6 1051.0,432.5 1052.0,440.2 1053.0,421.3 1053.9,425.1 1054.9,424.8 1055.8,434.7 1056.8,443.7 1057.8,412.7 1058.7,425.9 1059.7,426.6 1060.6,434.3 1061.6,415.0 1062.6,424.1 1063.5,425.2 1064.5,423.6 1065.5,423.5 1066.4,411.4 1067.4,434.5 1068.3,420.8 1069.3,426.9 1070.3,426.7 1071.2,428.0 1072.2,418.9 1073.1,430.8 1074.1,427.3 1075.1,415.8 1076.0,422.2 1077.0,422.9 1077.9,414.5 1078.9,414.2 1079.9,417.7 1080.8,414.5 1081.8,422.5 1082.8,406.7 1083.7,421.6 1084.7,431.2 1085.6,412.1 1086.6,424.6 1087.6,424.2 1088.5,415.5 1089.5,402.0 1090.4,410.8 1091.4,412.7 1092.4,412.6 1093.3,402.7 1094.3,409.7 1095.3,402.4 1096.2,386.1 1097.2,400.1 1098.1,405.9 1099.1,414.4 1100.1,414.6 1101.0,420.5 1102.0,420.5 1102.9,414.3 1103.9,371.0 1104.9,398.4 1105.8,410.3 1106.8,407.8 1107.8,426.1 1108.7,400.0 1109.7,390.9 1110.6,413.0 1111.6,414.2 1112.6,417.9 1113.5,412.8 1114.5,423.6 1115.4,434.7 1116.4,417.4 1117.4,429.7 1118.3,421.9 1119.3,431.8 1120.2,434.3 1121.2,422.4 1122.2,414.0 1123.1,423.8 1124.1,427.4 1125.1,421.4 1126.0,425.5 1127.0,436.4 1127.9,423.1 1128.9,439.3 1129.9,416.9 1130.8,418.3 1131.8,410.3 1132.7,425.2 1133.7,421.1 1134.7,403.8 1135.6,388.2 1136.6,388.7 1137.6,393.5 1138.5,412.8 1139.5,397.0 1140.4,371.0 1141.4,403.1 1142.4,383.8 1143.3,404.8 1144.3,378.5 1145.2,401.7 1146.2,409.0 1147.2,404.5 1148.1,375.5 1149.1,415.5 1150.1,410.4 1151.0,430.9 1152.0,430.0 1152.9,437.1 1153.9,432.6 1154.9,420.3 1155.8,429.0 1156.8,429.2 1157.7,424.7 1158.7,433.0 1159.7,423.5 1160.6,425.9 1161.6,426.9 1162.5,436.3 1163.5,428.2 1164.5,408.3 1165.4,400.0 1166.4,412.9 1167.4,413.8 1168.3,420.0 1169.3,429.4 1170.2,439.4 1171.2,412.6 1172.2,429.1 1173.1,425.3 1174.1,415.5 1175.0,428.4 1176.0,431.1 1177.0,428.4 1177.9,430.7 1178.9,424.6 1179.9,424.4 1180.8,407.7 1181.8,404.8 1182.7,419.8 1183.7,425.8 1184.7,420.0 1185.6,381.1 1186.6,422.3 1187.5,408.5 1188.5,422.3 1189.5,424.9 1190.4,421.2 1191.4,438.8 1192.4,424.1 1193.3,419.3 1194.3,412.1 1195.2,429.5 1196.2,431.1 1197.2,427.1 1198.1,430.9 1199.1,440.2 1200.0,426.9 1201.0,431.7 1202.0,429.3 1202.9,438.4 1203.9,428.4 1204.8,434.3 1205.8,438.7 1206.8,431.3 1207.7,427.3 1208.7,438.0 1209.7,428.8 1210.6,420.7 1211.6,425.4 1212.5,437.3 1213.5,425.7 1214.5,417.4 1215.4,430.6 1216.4,413.7 1217.3,423.7 1218.3,427.0 1219.3,419.9 1220.2,425.1 1221.2,420.3 1222.2,428.4 1223.1,428.9 1224.1,432.3 1225.0,432.7 1226.0,431.7 1227.0,432.9 1227.9,438.0 1228.9,433.0 1229.8,436.8 1230.8,430.4 1231.8,430.8 1232.7,434.2 1233.7,438.5 1234.7,434.5 1235.6,424.0 1236.6,427.7 1237.5,422.8 1238.5,427.8 1239.5,430.4 1240.4,433.3 1241.4,443.0 1242.3,428.4 1243.3,425.5 1244.3,425.1 1245.2,418.4 1246.2,430.6 1247.2,413.6 1248.1,433.7 1249.1,426.9 1250.0,436.1 1251.0,432.5 1252.0,421.6 1252.9,437.7 1253.9,431.1 1254.8,430.0 1255.8,429.4 1256.8,428.8 1257.7,424.8 1258.7,425.4 1259.6,426.2 1260.6,422.7 1261.6,423.0 1262.5,428.4 1263.5,437.6 1264.5,425.9 1265.4,430.3 1266.4,416.9 1267.3,428.4 1268.3,436.3 1269.3,420.6 1270.2,429.6 1271.2,437.8 1272.1,418.3 1273.1,433.3 1274.1,414.2 1275.0,427.0 1276.0,418.6 1277.0,417.0 1277.9,434.4 1278.9,422.8 1279.8,422.4 1280.8,416.6 1281.8,410.5 1282.7,398.4 1283.7,412.6 1284.6,415.9 1285.6,396.0 1286.6,404.4 1287.5,407.2 1288.5,429.5 1289.5,435.2 1290.4,429.8 1291.4,425.5 1292.3,419.1 1293.3,399.1 1294.3,426.8 1295.2,428.2 1296.2,420.2 1297.1,420.2 1298.1,412.4 1299.1,420.8 1300.0,427.9 1301.0,402.2 1301.9,408.3 1302.9,424.8 1303.9,420.9 1304.8,416.0 1305.8,428.4 1306.8,407.6 1307.7,406.9 1308.7,411.5 1309.6,415.4 1310.6,389.3 1311.6,401.2 1312.5,413.1 1313.5,431.8 1314.4,426.5 1315.4,405.9 1316.4,392.0 1317.3,417.8 1318.3,435.3 1319.3,419.3 1320.2,416.3 1321.2,407.3 1322.1,420.3 1323.1,416.0 1324.1,433.3 1325.0,431.6 1326.0,422.5 1326.9,417.1 1327.9,402.5 1328.9,387.6 1329.8,413.9 1330.8,380.9 1331.8,402.0 1332.7,371.0 1333.7,384.5 1334.6,426.1 1335.6,426.8 1336.6,420.0 1337.5,408.0 1338.5,394.1 1339.4,391.4 1340.4,414.4 1341.4,404.2 1342.3,415.0 1343.3,400.4 1344.2,415.3 1345.2,409.2 1346.2,427.7 1347.1,419.9 1348.1,436.1 1349.1,431.5 1350.0,443.4 1351.0,438.7 1351.9,441.8 1352.9,443.9 1353.9,437.1 1354.8,430.6 1355.8,431.0 1356.7,428.6 1357.7,423.5 1358.7,416.7 1359.6,414.4 1360.6,417.3 1361.6,403.7 1362.5,419.7 1363.5,412.3 1364.4,426.8 1365.4,397.8 1366.4,412.8 1367.3,412.7 1368.3,399.7 1369.2,410.7 1370.2,420.1 1371.2,433.1 1372.1,419.6 1373.1,389.2 1374.1,401.0 1375.0,388.8 1376.0,397.3 1376.9,415.4 1377.9,432.2 1378.9,428.7 1379.8,424.7 1380.8,431.3 1381.7,431.2 1382.7,428.2 1383.7,432.2 1384.6,439.3 1385.6,431.8 1386.5,420.3 1387.5,426.8 1388.5,429.7 1389.4,428.8 1390.4,419.3 1391.4,413.4 1392.3,409.0 1393.3,420.4 1394.2,407.8 1395.2,412.2 1396.2,418.4 1397.1,432.2 1398.1,429.6 1399.0,425.7 1400.0,419.6 1401.0,418.3 1401.9,423.9 1402.9,426.1 1403.9,437.6 1404.8,428.2 1405.8,425.5 1406.7,424.8 1407.7,431.9 1408.7,430.7 1409.6,432.6 1410.6,438.9 1411.5,433.0 1412.5,439.9 1413.5,443.2 1414.4,424.1 1415.4,416.7 1416.4,410.1 1417.3,418.5 1418.3,415.3 1419.2,407.7 1420.2,413.4 1421.2,432.4 1422.1,388.7 1423.1,378.9 1424.0,384.0 1425.0,397.8 1426.0,413.3 1426.9,409.2 1427.9,407.4 1428.8,425.8 1429.8,423.0 1430.8,413.5 1431.7,403.5 1432.7,410.2 1433.7,422.0 1434.6,433.6 1435.6,411.0 1436.5,420.9 1437.5,420.0 1438.5,426.3 1439.4,438.6 1440.4,419.6 1441.3,424.6 1442.3,422.7 1443.3,434.6 1444.2,432.6 1445.2,421.4 1446.2,428.8 1447.1,432.9 1448.1,436.5 1449.0,439.0 1450.0,422.0" fill="none" stroke="#1f77b4" stroke-opacity="0.35" stroke-width="2.4" stroke-linejoin="round"/>
<polyline points="778.0,426.7 779.0,439.9 779.9,417.7 780.9,412.1 781.8,410.8 782.8,434.4 783.8,425.1 784.7,411.7 785.7,427.1 786.7,429.3 787.6,424.7 788.6,438.8 789.5,422.6 790.5,410.0 791.5,408.6 792.4,399.7 793.4,409.9 794.3,413.7 795.3,415.9 796.3,421.3 797.2,426.3 798.2,424.1 799.2,416.2 800.1,417.9 801.1,410.9 802.0,408.1 803.0,400.0 804.0,409.7 804.9,430.2 805.9,422.7 806.8,384.5 807.8,385.9 808.8,400.0 809.7,400.9 810.7,398.7 811.6,402.3 812.6,393.4 813.6,382.7 814.5,370.9 815.5,389.7 816.5,358.7 817.4,396.5 818.4,392.6 819.3,377.6 820.3,399.4 821.3,373.2 822.2,379.3 823.2,376.7 824.1,403.3 825.1,404.9 826.1,407.9 827.0,402.2 828.0,427.1 829.0,403.8 829.9,423.9 830.9,405.9 831.8,393.8 832.8,403.5 833.8,408.2 834.7,410.2 835.7,412.0 836.6,408.0 837.6,400.7 838.6,402.0 839.5,394.4 840.5,407.2 841.5,417.5 842.4,420.6 843.4,429.4 844.3,424.4 845.3,425.1 846.3,404.1 847.2,409.6 848.2,400.0 849.1,430.2 850.1,419.8 851.1,410.6 852.0,414.2 853.0,422.2 853.9,419.4 854.9,419.2 855.9,418.8 856.8,417.3 857.8,410.5 858.8,414.0 859.7,413.8 860.7,415.5 861.6,411.3 862.6,420.4 863.6,410.2 864.5,415.2 865.5,404.4 866.4,414.9 867.4,412.1 868.4,411.8 869.3,420.1 870.3,399.9 871.3,400.8 872.2,405.0 873.2,393.9 874.1,408.3 875.1,410.5 876.1,401.1 877.0,386.9 878.0,406.7 878.9,399.8 879.9,412.0 880.9,425.0 881.8,419.1 882.8,412.9 883.8,420.5 884.7,421.5 885.7,433.4 886.6,445.3 887.6,431.0 888.6,438.3 889.5,430.2 890.5,431.8 891.4,425.9 892.4,418.1 893.4,435.4 894.3,428.2 895.3,425.6 896.2,412.0 897.2,418.0 898.2,427.0 899.1,427.3 900.1,406.0 901.1,422.9 902.0,419.2 903.0,415.6 903.9,427.3 904.9,427.5 905.9,438.3 906.8,431.2 907.8,413.7 908.7,412.3 909.7,432.3 910.7,405.2 911.6,424.1 912.6,425.9 913.6,400.2 914.5,403.6 915.5,409.9 916.4,395.0 917.4,406.5 918.4,405.1 919.3,414.0 920.3,411.4 921.2,409.7 922.2,395.6 923.2,410.2 924.1,409.4 925.1,431.5 926.1,432.6 927.0,404.3 928.0,408.2 928.9,408.4 929.9,396.5 930.9,403.9 931.8,400.4 932.8,403.6 933.7,426.2 934.7,399.7 935.7,366.5 936.6,379.4 937.6,393.8 938.5,396.1 939.5,396.0 940.5,383.0 941.4,383.7 942.4,402.8 943.4,406.5 944.3,408.9 945.3,414.5 946.2,417.0 947.2,413.0 948.2,437.2 949.1,415.2 950.1,418.4 951.0,428.0 952.0,421.4 953.0,425.9 953.9,410.1 954.9,427.5 955.9,423.1 956.8,420.2 957.8,429.7 958.7,435.9 959.7,424.7 960.7,427.5 961.6,432.7 962.6,438.3 963.5,423.2 964.5,411.3 965.5,424.3 966.4,419.4 967.4,413.3 968.4,412.1 969.3,424.7 970.3,419.2 971.2,416.2 972.2,399.8 973.2,414.0 974.1,411.3 975.1,412.3 976.0,414.1 977.0,428.3 978.0,422.1 978.9,410.7 979.9,422.5 980.8,421.4 981.8,429.3 982.8,423.5 983.7,421.4 984.7,418.3 985.7,425.9 986.6,428.7 987.6,430.7 988.5,425.2 989.5,424.4 990.5,408.6 991.4,425.1 992.4,419.6 993.3,426.8 994.3,427.6 995.3,414.6 996.2,415.2 997.2,413.5 998.2,428.6 999.1,397.5 1000.1,391.4 1001.0,414.4 1002.0,426.8 1003.0,423.9 1003.9,412.6 1004.9,420.1 1005.8,408.8 1006.8,414.4 1007.8,377.3 1008.7,398.2 1009.7,406.2 1010.7,378.4 1011.6,388.7 1012.6,394.8 1013.5,396.3 1014.5,387.8 1015.5,397.3 1016.4,391.9 1017.4,398.4 1018.3,410.8 1019.3,399.1 1020.3,387.4 1021.2,377.4 1022.2,372.9 1023.2,384.2 1024.1,345.2 1025.1,371.3 1026.0,413.7 1027.0,398.5 1028.0,421.4 1028.9,422.6 1029.9,351.9 1030.8,397.2 1031.8,392.4 1032.8,391.0 1033.7,375.9 1034.7,384.3 1035.6,388.8 1036.6,400.0 1037.6,376.8 1038.5,379.3 1039.5,403.2 1040.5,411.0 1041.4,399.2 1042.4,394.6 1043.3,408.4 1044.3,398.7 1045.3,420.2 1046.2,416.9 1047.2,404.9 1048.1,416.5 1049.1,412.6 1050.1,412.2 1051.0,413.7 1052.0,430.1 1053.0,418.5 1053.9,408.8 1054.9,404.8 1055.8,396.6 1056.8,391.2 1057.8,403.4 1058.7,405.0 1059.7,382.5 1060.6,384.4 1061.6,394.8 1062.6,400.4 1063.5,385.9 1064.5,380.8 1065.5,393.1 1066.4,389.5 1067.4,393.2 1068.3,395.0 1069.3,371.2 1070.3,405.2 1071.2,390.6 1072.2,410.2 1073.1,413.0 1074.1,397.7 1075.1,418.9 1076.0,422.2 1077.0,426.4 1077.9,423.5 1078.9,415.8 1079.9,407.4 1080.8,421.7 1081.8,412.9 1082.8,428.3 1083.7,404.2 1084.7,418.5 1085.6,422.8 1086.6,417.3 1087.6,416.8 1088.5,418.7 1089.5,432.8 1090.4,413.5 1091.4,408.3 1092.4,416.5 1093.3,425.8 1094.3,413.7 1095.3,400.2 1096.2,424.7 1097.2,425.1 1098.1,411.1 1099.1,416.0 1100.1,411.3 1101.0,406.1 1102.0,392.9 1102.9,388.2 1103.9,384.0 1104.9,383.8 1105.8,403.2 1106.8,431.1 1107.8,406.8 1108.7,398.5 1109.7,396.5 1110.6,409.5 1111.6,383.4 1112.6,417.6 1113.5,399.3 1114.5,396.3 1115.4,392.3 1116.4,386.4 1117.4,396.1 1118.3,402.4 1119.3,412.8 1120.2,406.2 1121.2,408.1 1122.2,403.1 1123.1,419.1 1124.1,426.2 1125.1,409.2 1126.0,397.8 1127.0,419.3 1127.9,420.5 1128.9,414.7 1129.9,407.5 1130.8,406.8 1131.8,401.6 1132.7,413.2 1133.7,412.7 1134.7,406.8 1135.6,420.2 1136.6,405.4 1137.6,423.3 1138.5,425.7 1139.5,441.1 1140.4,433.2 1141.4,433.8 1142.4,434.4 1143.3,427.8 1144.3,435.4 1145.2,428.0 1146.2,441.7 1147.2,434.6 1148.1,418.5 1149.1,422.4 1150.1,419.7 1151.0,430.2 1152.0,436.3 1152.9,416.9 1153.9,412.3 1154.9,409.5 1155.8,413.0 1156.8,398.5 1157.7,406.4 1158.7,393.7 1159.7,374.4 1160.6,406.1 1161.6,383.1 1162.5,393.9 1163.5,390.0 1164.5,417.2 1165.4,422.3 1166.4,416.0 1167.4,404.9 1168.3,396.0 1169.3,402.9 1170.2,411.1 1171.2,407.7 1172.2,415.6 1173.1,415.2 1174.1,414.2 1175.0,424.5 1176.0,418.7 1177.0,432.6 1177.9,431.1 1178.9,417.0 1179.9,422.7 1180.8,412.5 1181.8,410.1 1182.7,412.1 1183.7,393.0 1184.7,396.4 1185.6,407.9 1186.6,409.3 1187.5,400.7 1188.5,416.9 1189.5,386.4 1190.4,391.5 1191.4,414.6 1192.4,411.3 1193.3,363.2 1194.3,383.2 1195.2,379.2 1196.2,384.2 1197.2,386.9 1198.1,370.5 1199.1,373.3 1200.0,403.1 1201.0,394.1 1202.0,414.9 1202.9,414.6 1203.9,427.6 1204.8,402.6 1205.8,412.3 1206.8,411.0 1207.7,369.9 1208.7,378.8 1209.7,396.2 1210.6,422.6 1211.6,406.9 1212.5,433.2 1213.5,426.9 1214.5,410.8 1215.4,407.2 1216.4,413.5 1217.3,409.1 1218.3,412.0 1219.3,419.9 1220.2,411.2 1221.2,385.2 1222.2,393.9 1223.1,389.5 1224.1,360.9 1225.0,407.5 1226.0,410.1 1227.0,419.3 1227.9,396.8 1228.9,401.0 1229.8,414.7 1230.8,419.9 1231.8,397.8 1232.7,391.7 1233.7,396.2 1234.7,401.6 1235.6,395.8 1236.6,396.8 1237.5,388.2 1238.5,390.8 1239.5,397.2 1240.4,392.5 1241.4,326.1 1242.3,399.9 1243.3,376.6 1244.3,394.4 1245.2,369.9 1246.2,373.9 1247.2,389.2 1248.1,395.3 1249.1,397.9 1250.0,384.8 1251.0,399.9 1252.0,381.8 1252.9,378.2 1253.9,388.8 1254.8,381.1 1255.8,373.6 1256.8,372.8 1257.7,393.4 1258.7,345.2 1259.6,369.6 1260.6,371.6 1261.6,374.1 1262.5,370.1 1263.5,389.7 1264.5,349.7 1265.4,393.1 1266.4,406.9 1267.3,412.2 1268.3,405.1 1269.3,373.2 1270.2,398.7 1271.2,405.6 1272.1,397.0 1273.1,414.6 1274.1,430.0 1275.0,427.5 1276.0,424.8 1277.0,435.9 1277.9,427.2 1278.9,421.8 1279.8,403.9 1280.8,410.0 1281.8,418.0 1282.7,426.2 1283.7,430.8 1284.6,441.2 1285.6,431.3 1286.6,445.3 1287.5,433.5 1288.5,416.4 1289.5,426.4 1290.4,422.5 1291.4,430.6 1292.3,440.5 1293.3,424.1 1294.3,422.2 1295.2,413.5 1296.2,412.6 1297.1,406.0 1298.1,414.0 1299.1,404.1 1300.0,394.6 1301.0,408.7 1301.9,410.2 1302.9,394.2 1303.9,396.1 1304.8,405.1 1305.8,423.3 1306.8,413.9 1307.7,390.2 1308.7,405.9 1309.6,407.5 1310.6,416.6 1311.6,410.2 1312.5,407.6 1313.5,404.3 1314.4,414.7 1315.4,423.6 1316.4,392.7 1317.3,405.2 1318.3,420.2 1319.3,418.4 1320.2,412.5 1321.2,406.1 1322.1,412.6 1323.1,421.1 1324.1,417.0 1325.0,432.4 1326.0,433.2 1326.9,414.7 1327.9,417.4 1328.9,419.9 1329.8,425.3 1330.8,431.2 1331.8,419.7 1332.7,417.5 1333.7,400.4 1334.6,419.1 1335.6,416.1 1336.6,418.2 1337.5,423.9 1338.5,397.4 1339.4,393.1 1340.4,403.9 1341.4,423.1 1342.3,409.9 1343.3,403.1 1344.2,412.8 1345.2,426.6 1346.2,391.0 1347.1,416.5 1348.1,394.6 1349.1,408.5 1350.0,409.0 1351.0,391.6 1351.9,412.8 1352.9,409.1 1353.9,404.5 1354.8,387.7 1355.8,384.7 1356.7,394.5 1357.7,414.6 1358.7,390.0 1359.6,402.7 1360.6,397.7 1361.6,423.0 1362.5,409.5 1363.5,371.0 1364.4,404.1 1365.4,394.5 1366.4,383.4 1367.3,377.1 1368.3,401.9 1369.2,421.4 1370.2,438.6 1371.2,418.5 1372.1,428.8 1373.1,409.1 1374.1,433.3 1375.0,409.3 1376.0,415.6 1376.9,434.5 1377.9,425.8 1378.9,422.2 1379.8,421.4 1380.8,424.6 1381.7,418.5 1382.7,414.8 1383.7,419.4 1384.6,414.9 1385.6,425.9 1386.5,405.4 1387.5,420.3 1388.5,410.3 1389.4,417.9 1390.4,390.9 1391.4,390.9 1392.3,406.7 1393.3,392.3 1394.2,394.6 1395.2,382.6 1396.2,366.5 1397.1,395.3 1398.1,402.8 1399.0,426.0 1400.0,413.3 1401.0,412.3 1401.9,430.0 1402.9,424.7 1403.9,419.2 1404.8,419.0 1405.8,416.2 1406.7,418.2 1407.7,428.4 1408.7,412.4 1409.6,423.0 1410.6,430.9 1411.5,418.4 1412.5,430.3 1413.5,422.5 1414.4,432.2 1415.4,420.9 1416.4,416.6 1417.3,427.9 1418.3,423.9 1419.2,421.8 1420.2,426.9 1421.2,424.2 1422.1,427.8 1423.1,432.7 1424.0,436.5 1425.0,428.0 1426.0,423.1 1426.9,418.7 1427.9,419.3 1428.8,417.2 1429.8,424.1 1430.8,408.7 1431.7,424.3 1432.7,415.2 1433.7,419.6 1434.6,421.7 1435.6,401.7 1436.5,408.8 1437.5,425.6 1438.5,417.7 1439.4,422.7 1440.4,404.5 1441.3,422.2 1442.3,420.2 1443.3,424.8 1444.2,426.9 1445.2,416.9 1446.2,410.9 1447.1,408.4 1448.1,419.0 1449.0,426.0 1450.0,419.2" fill="none" stroke="#ff7f0e" stroke-opacity="0.35" stroke-width="2.4" stroke-linejoin="round"/>
</g>
<rect x="778" y="319" width="672" height="142" fill="none" stroke="#1a1a1a" stroke-width="2"/>
<line x1="778.00" y1="461" x2="778.00" y2="467.6" stroke="#1a1a1a" stroke-width="2"/>
<text x="778.00" y="489.40" font-size="20.3" text-anchor="middle" textLength="12.09" lengthAdjust="spacingAndGlyphs">0</text>
<line x1="874.14" y1="461" x2="874.14" y2="467.6" stroke="#1a1a1a" stroke-width="2"/>
<text x="874.14" y="489.40" font-size="20.3" text-anchor="middle" textLength="36.27" lengthAdjust="spacingAndGlyphs">100</text>
<line x1="970.27" y1="461" x2="970.27" y2="467.6" stroke="#1a1a1a" stroke-width="2"/>
<text x="970.27" y="489.40" font-size="20.3" text-anchor="middle" textLength="36.27" lengthAdjust="spacingAndGlyphs">200</text>
<line x1="1066.41" y1="461" x2="1066.41" y2="467.6" stroke="#1a1a1a" stroke-width="2"/>
<text x="1066.41" y="489.40" font-size="20.3" text-anchor="middle" textLength="36.27" lengthAdjust="spacingAndGlyphs">300</text>
<line x1="1162.55" y1="461" x2="1162.55" y2="467.6" stroke="#1a1a1a" stroke-width="2"/>
<text x="1162.55" y="489.40" font-size="20.3" text-anchor="middle" textLength="36.27" lengthAdjust="spacingAndGlyphs">400</text>
<line x1="1258.69" y1="461" x2="1258.69" y2="467.6" stroke="#1a1a1a" stroke-width="2"/>
<text x="1258.69" y="489.40" font-size="20.3" text-anchor="middle" textLength="36.27" lengthAdjust="spacingAndGlyphs">500</text>
<line x1="1354.82" y1="461" x2="1354.82" y2="467.6" stroke="#1a1a1a" stroke-width="2"/>
<text x="1354.82" y="489.40" font-size="20.3" text-anchor="middle" textLength="36.27" lengthAdjust="spacingAndGlyphs">600</text>
<line x1="771" y1="450.90" x2="778" y2="450.90" stroke="#1a1a1a" stroke-width="2"/>
<text x="763.80" y="459.20" font-size="20.3" text-anchor="end" textLength="30.22" lengthAdjust="spacingAndGlyphs">0.0</text>
<line x1="771" y1="400.00" x2="778" y2="400.00" stroke="#1a1a1a" stroke-width="2"/>
<text x="763.80" y="408.30" font-size="20.3" text-anchor="end" textLength="30.22" lengthAdjust="spacingAndGlyphs">2.5</text>
<line x1="771" y1="349.10" x2="778" y2="349.10" stroke="#1a1a1a" stroke-width="2"/>
<text x="763.80" y="357.40" font-size="20.3" text-anchor="end" textLength="30.22" lengthAdjust="spacingAndGlyphs">5.0</text>
<text x="371.50" y="524.20" font-size="24.3" text-anchor="middle" textLength="62.49" lengthAdjust="spacingAndGlyphs">roi_m</text>
<text x="371.50" y="551.00" font-size="24.3" text-anchor="middle" textLength="118.99" lengthAdjust="spacingAndGlyphs">Channel_2</text>
<text x="1114.00" y="524.20" font-size="24.3" text-anchor="middle" textLength="62.49" lengthAdjust="spacingAndGlyphs">roi_m</text>
<text x="1114.00" y="551.00" font-size="24.3" text-anchor="middle" textLength="118.99" lengthAdjust="spacingAndGlyphs">Channel_2</text>
<clipPath id="cl2"><rect x="35" y="559" width="673" height="142"/></clipPath>
<g clip-path="url(#cl2)">
<line x1="121.50" y1="664.50" x2="121.50" y2="711" stroke="#000" stroke-opacity="0.37" stroke-width="2.8"/>
<line x1="129.30" y1="664.50" x2="129.30" y2="711" stroke="#000" stroke-opacity="0.37" stroke-width="2.8"/>
<line x1="142.30" y1="664.50" x2="142.30" y2="711" stroke="#000" stroke-opacity="0.37" stroke-width="2.8"/>
<line x1="151.30" y1="664.50" x2="151.30" y2="711" stroke="#000" stroke-opacity="0.37" stroke-width="2.8"/>
<line x1="155.40" y1="664.50" x2="155.40" y2="711" stroke="#000" stroke-opacity="0.37" stroke-width="2.8"/>
<line x1="159.20" y1="664.50" x2="159.20" y2="711" stroke="#000" stroke-opacity="0.37" stroke-width="2.8"/>
<line x1="179.20" y1="664.50" x2="179.20" y2="711" stroke="#000" stroke-opacity="0.37" stroke-width="2.8"/>
<line x1="186.60" y1="664.50" x2="186.60" y2="711" stroke="#000" stroke-opacity="0.37" stroke-width="2.8"/>
<line x1="206.30" y1="664.50" x2="206.30" y2="711" stroke="#000" stroke-opacity="0.37" stroke-width="2.8"/>
<line x1="251.30" y1="664.50" x2="251.30" y2="711" stroke="#000" stroke-opacity="0.37" stroke-width="2.8"/>
<line x1="255.10" y1="664.50" x2="255.10" y2="711" stroke="#000" stroke-opacity="0.37" stroke-width="2.8"/>
<line x1="257.30" y1="664.50" x2="257.30" y2="711" stroke="#000" stroke-opacity="0.37" stroke-width="2.8"/>
<line x1="335.50" y1="664.50" x2="335.50" y2="711" stroke="#000" stroke-opacity="0.37" stroke-width="2.8"/>
<path d="M66.0,647.28 L67.0,647.16 L68.0,647.01 L69.0,646.84 L70.0,646.63 L71.0,646.39 L72.0,646.11 L73.0,645.79 L74.0,645.43 L75.0,645.01 L76.0,644.55 L77.0,644.02 L78.0,643.43 L79.0,642.78 L80.0,642.05 L81.0,641.25 L82.0,640.37 L83.0,639.41 L84.0,638.38 L85.0,637.27 L86.0,636.09 L87.0,634.85 L88.0,633.54 L89.0,632.19 L90.0,630.79 L91.0,629.35 L92.0,627.88 L93.0,626.39 L94.0,624.88 L95.0,623.36 L96.0,621.82 L97.0,620.29 L98.0,618.74 L99.0,617.20 L100.0,615.65 L101.0,614.11 L102.0,612.58 L103.0,611.05 L104.0,609.53 L105.0,608.03 L106.0,606.54 L107.0,605.07 L108.0,603.62 L109.0,602.19 L110.0,600.79 L111.0,599.42 L112.0,598.08 L113.0,596.77 L114.0,595.49 L115.0,594.24 L116.0,593.03 L117.0,591.85 L118.0,590.70 L119.0,589.59 L120.0,588.52 L121.0,587.48 L122.0,586.48 L123.0,585.52 L124.0,584.61 L125.0,583.74 L126.0,582.91 L127.0,582.13 L128.0,581.39 L129.0,580.69 L130.0,580.05 L131.0,579.45 L132.0,578.90 L133.0,578.39 L134.0,577.94 L135.0,577.53 L136.0,577.18 L137.0,576.87 L138.0,576.61 L139.0,576.40 L140.0,576.24 L141.0,576.13 L142.0,576.06 L143.0,576.04 L144.0,576.06 L145.0,576.11 L146.0,576.20 L147.0,576.32 L148.0,576.47 L149.0,576.65 L150.0,576.86 L151.0,577.09 L152.0,577.35 L153.0,577.63 L154.0,577.94 L155.0,578.27 L156.0,578.63 L157.0,579.01 L158.0,579.42 L159.0,579.86 L160.0,580.32 L161.0,580.81 L162.0,581.33 L163.0,581.87 L164.0,582.44 L165.0,583.03 L166.0,583.65 L167.0,584.29 L168.0,584.94 L169.0,585.62 L170.0,586.32 L171.0,587.04 L172.0,587.78 L173.0,588.54 L174.0,589.32 L175.0,590.12 L176.0,590.95 L177.0,591.80 L178.0,592.67 L179.0,593.58 L180.0,594.50 L181.0,595.46 L182.0,596.44 L183.0,597.45 L184.0,598.48 L185.0,599.54 L186.0,600.62 L187.0,601.72 L188.0,602.83 L189.0,603.96 L190.0,605.10 L191.0,606.24 L192.0,607.39 L193.0,608.54 L194.0,609.68 L195.0,610.82 L196.0,611.95 L197.0,613.06 L198.0,614.16 L199.0,615.24 L200.0,616.30 L201.0,617.33 L202.0,618.34 L203.0,619.33 L204.0,620.29 L205.0,621.22 L206.0,622.12 L207.0,623.00 L208.0,623.86 L209.0,624.69 L210.0,625.50 L211.0,626.29 L212.0,627.06 L213.0,627.81 L214.0,628.55 L215.0,629.28 L216.0,630.00 L217.0,630.70 L218.0,631.40 L219.0,632.10 L220.0,632.79 L221.0,633.47 L222.0,634.16 L223.0,634.85 L224.0,635.54 L225.0,636.23 L226.0,636.93 L227.0,637.63 L228.0,638.34 L229.0,639.06 L230.0,639.79 L231.0,640.53 L232.0,641.28 L233.0,642.03 L234.0,642.80 L235.0,643.58 L236.0,644.36 L237.0,645.15 L238.0,645.95 L239.0,646.75 L240.0,647.55 L241.0,648.36 L242.0,649.17 L243.0,649.98 L244.0,650.79 L245.0,651.59 L246.0,652.39 L247.0,653.19 L248.0,653.98 L249.0,654.76 L250.0,655.54 L251.0,656.32 L252.0,657.09 L253.0,657.85 L254.0,658.60 L255.0,659.35 L256.0,660.09 L257.0,660.82 L258.0,661.54 L259.0,662.24 L260.0,662.93 L261.0,663.61 L262.0,664.26 L263.0,664.90 L264.0,665.51 L265.0,666.10 L266.0,666.67 L267.0,667.21 L268.0,667.73 L269.0,668.22 L270.0,668.68 L271.0,669.13 L272.0,669.55 L273.0,669.95 L274.0,670.33 L275.0,670.69 L276.0,671.04 L277.0,671.37 L278.0,671.69 L279.0,671.99 L280.0,672.29 L281.0,672.57 L282.0,672.85 L283.0,673.12 L284.0,673.37 L285.0,673.63 L286.0,673.87 L287.0,674.11 L288.0,674.34 L289.0,674.56 L290.0,674.78 L291.0,674.99 L292.0,675.20 L293.0,675.40 L294.0,675.59 L295.0,675.78 L296.0,675.96 L297.0,676.14 L298.0,676.31 L299.0,676.48 L300.0,676.64 L301.0,676.80 L302.0,676.96 L303.0,677.11 L304.0,677.25 L305.0,677.39 L306.0,677.53 L307.0,677.66 L308.0,677.79 L309.0,677.92 L310.0,678.04 L311.0,678.15 L312.0,678.27 L313.0,678.38 L314.0,678.49 L315.0,678.59 L316.0,678.70 L317.0,678.80 L318.0,678.90 L319.0,678.99 L320.0,679.09 L321.0,679.18 L322.0,679.28 L323.0,679.37 L324.0,679.46 L325.0,679.55 L326.0,679.65 L327.0,679.74 L328.0,679.83 L329.0,679.92 L330.0,680.02 L331.0,680.11 L332.0,680.21 L333.0,680.31 L334.0,680.41 L335.0,680.52 L336.0,680.63 L337.0,680.74 L338.0,680.85 L339.0,680.97 L340.0,681.09 L341.0,681.22 L342.0,681.34 L343.0,681.48 L344.0,681.61 L345.0,681.75 L346.0,681.89 L347.0,682.03 L348.0,682.18 L349.0,682.33 L350.0,682.48 L351.0,682.63 L352.0,682.78 L353.0,682.92 L354.0,683.07 L355.0,683.22 L356.0,683.36 L357.0,683.51 L358.0,683.64 L359.0,683.78 L360.0,683.91 L361.0,684.04 L362.0,684.16 L363.0,684.27 L364.0,684.38 L365.0,684.48 L366.0,684.57 L367.0,684.66 L368.0,684.74 L369.0,684.81 L370.0,684.87 L371.0,684.92 L372.0,684.96 L373.0,685.00 L374.0,685.03 L375.0,685.05 L376.0,685.06 L377.0,685.06 L378.0,685.06 L379.0,685.05 L380.0,685.04 L381.0,685.03 L382.0,685.00 L383.0,684.98 L384.0,684.96 L385.0,684.93 L386.0,684.90 L387.0,684.87 L388.0,684.84 L389.0,684.82 L390.0,684.79 L391.0,684.77 L392.0,684.75 L393.0,684.74 L394.0,684.73 L395.0,684.73 L396.0,684.73 L397.0,684.74 L398.0,684.75 L399.0,684.77 L400.0,684.80 L401.0,684.83 L402.0,684.87 L403.0,684.92 L404.0,684.97 L405.0,685.03 L406.0,685.09 L407.0,685.16 L408.0,685.23 L409.0,685.31 L410.0,685.38 L411.0,685.46 L412.0,685.53 L413.0,685.61 L414.0,685.69 L415.0,685.76 L416.0,685.83 L417.0,685.90 L418.0,685.97 L419.0,686.03 L420.0,686.08 L421.0,686.13 L422.0,686.18 L423.0,686.22 L424.0,686.25 L425.0,686.28 L426.0,686.31 L427.0,686.33 L428.0,686.35 L429.0,686.36 L430.0,686.37 L431.0,686.38 L432.0,686.39 L433.0,686.39 L434.0,686.39 L435.0,686.40 L436.0,686.40 L437.0,686.40 L438.0,686.40 L439.0,686.40 L440.0,686.40 L441.0,686.40 L442.0,686.40 L443.0,686.40 L444.0,686.40 L445.0,686.40 L446.0,686.40 L447.0,686.40 L448.0,686.40 L449.0,686.40 L450.0,686.40 L451.0,686.40 L452.0,686.40 L453.0,686.40 L454.0,686.40 L455.0,686.40 L456.0,686.40 L457.0,686.40 L458.0,686.40 L459.0,686.40 L460.0,686.40 L461.0,686.40 L462.0,686.40 L463.0,686.40 L463.2,686.40" fill="none" stroke="#1f77b4" stroke-width="2.4" stroke-linecap="butt"/>
<path d="M64.9,658.30 L65.9,658.11 L66.9,657.87 L67.9,657.60 L68.9,657.27 L69.9,656.90 L70.9,656.48 L71.9,656.01 L72.9,655.48 L73.9,654.89 L74.9,654.24 L75.9,653.52 L76.9,652.73 L77.9,651.87 L78.9,650.94 L79.9,649.92 L80.9,648.81 L81.9,647.61 L82.9,646.32 L83.9,644.94 L84.9,643.46 L85.9,641.90 L86.9,640.25 L87.9,638.51 L88.9,636.70 L89.9,634.83 L90.9,632.90 L91.9,630.91 L92.9,628.90 L93.9,626.85 L94.9,624.78 L95.9,622.70 L96.9,620.62 L97.9,618.54 L98.9,616.47 L99.9,614.42 L100.9,612.39 L101.9,610.37 L102.9,608.37 L103.9,606.40 L104.9,604.45 L105.9,602.52 L106.9,600.61 L107.9,598.73 L108.9,596.87 L109.9,595.05 L110.9,593.25 L111.9,591.49 L112.9,589.76 L113.9,588.07 L114.9,586.42 L115.9,584.82 L116.9,583.26 L117.9,581.76 L118.9,580.30 L119.9,578.89 L120.9,577.54 L121.9,576.25 L122.9,575.02 L123.9,573.86 L124.9,572.77 L125.9,571.75 L126.9,570.82 L127.9,569.98 L128.9,569.23 L129.9,568.58 L130.9,568.04 L131.9,567.61 L132.9,567.28 L133.9,567.07 L134.9,566.96 L135.9,566.96 L136.9,567.06 L137.9,567.25 L138.9,567.53 L139.9,567.89 L140.9,568.33 L141.9,568.83 L142.9,569.40 L143.9,570.02 L144.9,570.69 L145.9,571.41 L146.9,572.18 L147.9,572.99 L148.9,573.85 L149.9,574.74 L150.9,575.68 L151.9,576.66 L152.9,577.68 L153.9,578.73 L154.9,579.81 L155.9,580.93 L156.9,582.07 L157.9,583.24 L158.9,584.43 L159.9,585.63 L160.9,586.83 L161.9,588.05 L162.9,589.26 L163.9,590.46 L164.9,591.65 L165.9,592.82 L166.9,593.97 L167.9,595.10 L168.9,596.20 L169.9,597.26 L170.9,598.29 L171.9,599.28 L172.9,600.24 L173.9,601.16 L174.9,602.05 L175.9,602.90 L176.9,603.72 L177.9,604.51 L178.9,605.26 L179.9,606.00 L180.9,606.71 L181.9,607.40 L182.9,608.08 L183.9,608.74 L184.9,609.39 L185.9,610.03 L186.9,610.67 L187.9,611.30 L188.9,611.94 L189.9,612.57 L190.9,613.21 L191.9,613.86 L192.9,614.51 L193.9,615.17 L194.9,615.84 L195.9,616.52 L196.9,617.22 L197.9,617.92 L198.9,618.64 L199.9,619.37 L200.9,620.11 L201.9,620.86 L202.9,621.62 L203.9,622.39 L204.9,623.16 L205.9,623.94 L206.9,624.72 L207.9,625.50 L208.9,626.28 L209.9,627.06 L210.9,627.83 L211.9,628.60 L212.9,629.36 L213.9,630.11 L214.9,630.85 L215.9,631.58 L216.9,632.29 L217.9,632.98 L218.9,633.66 L219.9,634.32 L220.9,634.96 L221.9,635.58 L222.9,636.17 L223.9,636.75 L224.9,637.31 L225.9,637.85 L226.9,638.38 L227.9,638.88 L228.9,639.37 L229.9,639.85 L230.9,640.32 L231.9,640.77 L232.9,641.22 L233.9,641.66 L234.9,642.10 L235.9,642.53 L236.9,642.97 L237.9,643.41 L238.9,643.86 L239.9,644.32 L240.9,644.79 L241.9,645.27 L242.9,645.77 L243.9,646.29 L244.9,646.83 L245.9,647.39 L246.9,647.98 L247.9,648.60 L248.9,649.25 L249.9,649.93 L250.9,650.64 L251.9,651.38 L252.9,652.15 L253.9,652.94 L254.9,653.76 L255.9,654.60 L256.9,655.45 L257.9,656.32 L258.9,657.19 L259.9,658.07 L260.9,658.94 L261.9,659.80 L262.9,660.65 L263.9,661.49 L264.9,662.30 L265.9,663.08 L266.9,663.83 L267.9,664.55 L268.9,665.24 L269.9,665.89 L270.9,666.50 L271.9,667.07 L272.9,667.61 L273.9,668.11 L274.9,668.57 L275.9,669.01 L276.9,669.42 L277.9,669.80 L278.9,670.16 L279.9,670.49 L280.9,670.81 L281.9,671.12 L282.9,671.41 L283.9,671.69 L284.9,671.96 L285.9,672.22 L286.9,672.47 L287.9,672.72 L288.9,672.96 L289.9,673.20 L290.9,673.43 L291.9,673.67 L292.9,673.90 L293.9,674.13 L294.9,674.35 L295.9,674.58 L296.9,674.80 L297.9,675.03 L298.9,675.25 L299.9,675.47 L300.9,675.68 L301.9,675.90 L302.9,676.11 L303.9,676.32 L304.9,676.53 L305.9,676.74 L306.9,676.94 L307.9,677.14 L308.9,677.33 L309.9,677.52 L310.9,677.71 L311.9,677.89 L312.9,678.07 L313.9,678.24 L314.9,678.41 L315.9,678.57 L316.9,678.73 L317.9,678.88 L318.9,679.02 L319.9,679.17 L320.9,679.30 L321.9,679.43 L322.9,679.56 L323.9,679.68 L324.9,679.80 L325.9,679.91 L326.9,680.02 L327.9,680.13 L328.9,680.23 L329.9,680.33 L330.9,680.42 L331.9,680.52 L332.9,680.61 L333.9,680.70 L334.9,680.78 L335.9,680.87 L336.9,680.95 L337.9,681.03 L338.9,681.11 L339.9,681.19 L340.9,681.27 L341.9,681.35 L342.9,681.42 L343.9,681.50 L344.9,681.57 L345.9,681.65 L346.9,681.73 L347.9,681.80 L348.9,681.88 L349.9,681.95 L350.9,682.03 L351.9,682.11 L352.9,682.18 L353.9,682.26 L354.9,682.34 L355.9,682.42 L356.9,682.49 L357.9,682.57 L358.9,682.64 L359.9,682.72 L360.9,682.79 L361.9,682.86 L362.9,682.92 L363.9,682.99 L364.9,683.05 L365.9,683.10 L366.9,683.15 L367.9,683.19 L368.9,683.23 L369.9,683.26 L370.9,683.28 L371.9,683.29 L372.9,683.29 L373.9,683.29 L374.9,683.27 L375.9,683.24 L376.9,683.20 L377.9,683.15 L378.9,683.09 L379.9,683.02 L380.9,682.94 L381.9,682.86 L382.9,682.76 L383.9,682.67 L384.9,682.57 L385.9,682.46 L386.9,682.36 L387.9,682.26 L388.9,682.16 L389.9,682.07 L390.9,681.99 L391.9,681.92 L392.9,681.85 L393.9,681.80 L394.9,681.77 L395.9,681.74 L396.9,681.74 L397.9,681.75 L398.9,681.77 L399.9,681.81 L400.9,681.87 L401.9,681.94 L402.9,682.02 L403.9,682.12 L404.9,682.23 L405.9,682.35 L406.9,682.48 L407.9,682.62 L408.9,682.76 L409.9,682.92 L410.9,683.07 L411.9,683.23 L412.9,683.39 L413.9,683.55 L414.9,683.71 L415.9,683.87 L416.9,684.02 L417.9,684.18 L418.9,684.33 L419.9,684.48 L420.9,684.62 L421.9,684.76 L422.9,684.90 L423.9,685.04 L424.9,685.17 L425.9,685.30 L426.9,685.43 L427.9,685.56 L428.9,685.68 L429.9,685.80 L430.9,685.91 L431.9,686.02 L432.9,686.13 L433.9,686.23 L434.9,686.32 L435.9,686.41 L436.9,686.50 L437.9,686.57 L438.9,686.64 L439.9,686.70 L440.9,686.76 L441.9,686.80 L442.9,686.84 L443.9,686.88 L444.9,686.91 L445.9,686.93 L446.9,686.95 L447.9,686.96 L448.9,686.97 L449.9,686.98 L450.9,686.99 L451.9,686.99 L452.9,686.99 L453.9,687.00 L454.9,687.00 L455.9,687.00 L456.9,687.00 L457.9,687.00 L458.9,687.00 L459.9,687.00 L460.9,687.00 L461.9,687.00 L462.9,687.00 L463.9,687.00 L464.9,687.00 L465.9,687.00 L466.9,687.00 L467.9,687.00 L468.9,687.00 L469.9,687.00 L470.9,687.00 L471.9,687.00 L472.9,687.00 L473.9,687.00 L474.9,687.00 L475.9,687.00 L476.9,687.00 L477.9,687.00 L478.9,687.00 L479.9,687.00 L480.9,687.00 L481.9,687.00 L482.9,687.00 L483.9,687.00 L484.9,687.00 L485.9,687.00 L486.9,687.00 L487.9,687.00 L488.9,687.00 L489.9,687.00 L490.9,687.00 L491.9,687.00 L492.9,687.00 L493.9,687.00 L494.9,687.00 L495.9,687.00 L496.9,687.00 L497.9,687.00 L498.9,687.00 L499.9,687.00 L500.9,687.00 L501.9,687.00 L502.9,687.00 L503.9,687.00 L504.9,687.01 L505.9,687.01 L506.9,687.01 L507.9,687.01 L508.9,687.01 L509.9,687.02 L510.9,687.02 L511.9,687.03 L512.9,687.03 L513.9,687.04 L514.9,687.04 L515.9,687.05 L516.9,687.05 L517.9,687.06 L518.9,687.07 L519.9,687.08 L520.9,687.08 L521.9,687.09 L522.9,687.10 L523.9,687.11 L524.9,687.12 L525.9,687.13 L526.9,687.14 L527.9,687.15 L528.9,687.17 L529.9,687.18 L530.9,687.19 L531.9,687.20 L532.9,687.21 L533.9,687.23 L534.9,687.24 L535.9,687.25 L536.9,687.27 L537.9,687.28 L538.9,687.29 L539.9,687.31 L540.9,687.32 L541.9,687.34 L542.9,687.35 L543.9,687.37 L544.9,687.38 L545.9,687.39 L546.9,687.41 L547.9,687.42 L548.9,687.44 L549.9,687.45 L550.9,687.47 L551.9,687.48 L552.9,687.50 L553.9,687.51 L554.9,687.53 L555.9,687.54 L556.9,687.56 L557.9,687.57 L558.9,687.58 L559.9,687.60 L560.9,687.61 L561.9,687.63 L562.9,687.64 L563.9,687.65 L564.9,687.67 L565.9,687.68 L566.9,687.69 L567.9,687.70 L568.9,687.72 L569.9,687.73 L570.9,687.74 L571.9,687.75 L572.9,687.76 L573.9,687.77 L574.9,687.78 L575.9,687.79 L576.9,687.80 L577.9,687.81 L578.9,687.82 L579.9,687.83 L580.9,687.84 L581.9,687.84 L582.9,687.85 L583.9,687.86 L584.9,687.86 L585.9,687.87 L586.9,687.87 L587.9,687.88 L588.9,687.88 L589.9,687.88 L590.9,687.89 L591.9,687.89 L592.9,687.89 L593.9,687.89 L594.9,687.89 L595.9,687.89 L596.9,687.89 L597.9,687.89 L598.9,687.89 L599.9,687.89 L600.9,687.89 L601.9,687.89 L602.9,687.89 L603.9,687.88 L604.9,687.88 L605.9,687.88 L606.9,687.87 L607.9,687.87 L608.9,687.87 L609.9,687.86 L610.9,687.86 L611.9,687.85 L612.9,687.85 L613.9,687.84 L614.9,687.84 L615.9,687.83 L616.9,687.83 L617.9,687.82 L618.9,687.81 L619.9,687.81 L620.9,687.80 L621.9,687.79 L622.9,687.79 L623.9,687.78 L624.9,687.77 L625.9,687.76 L626.9,687.76 L627.9,687.75 L628.9,687.74 L629.9,687.73 L630.9,687.72 L631.9,687.71 L632.9,687.70 L633.9,687.69 L634.9,687.68 L635.9,687.67 L636.9,687.66 L637.9,687.65 L638.9,687.64 L639.9,687.63 L640.9,687.62 L641.9,687.60 L642.9,687.59 L643.9,687.58 L644.9,687.57 L645.9,687.55 L646.9,687.54 L647.9,687.52 L648.9,687.51 L649.9,687.49 L650.9,687.47 L651.9,687.45 L652.9,687.43 L653.9,687.40 L654.9,687.38 L655.9,687.35 L656.9,687.32 L657.9,687.29 L658.9,687.26 L659.9,687.22 L660.9,687.19 L661.9,687.15 L662.9,687.11 L663.9,687.07 L664.9,687.03 L665.9,686.98 L666.9,686.94 L667.9,686.89 L668.9,686.85 L669.9,686.81 L670.9,686.76 L671.9,686.72 L672.9,686.68 L673.9,686.64 L674.9,686.61 L675.9,686.57 L676.9,686.55 L677.7,686.52" fill="none" stroke="#ff7f0e" stroke-width="2.4" stroke-linecap="butt"/>
</g>
<rect x="35" y="559" width="673" height="142" fill="none" stroke="#1a1a1a" stroke-width="2"/>
<line x1="54.61" y1="701" x2="54.61" y2="707.6" stroke="#1a1a1a" stroke-width="2"/>
<text x="54.61" y="729.40" font-size="20.3" text-anchor="middle" textLength="12.09" lengthAdjust="spacingAndGlyphs">0</text>
<line x1="176.38" y1="701" x2="176.38" y2="707.6" stroke="#1a1a1a" stroke-width="2"/>
<text x="176.38" y="729.40" font-size="20.3" text-anchor="middle" textLength="12.09" lengthAdjust="spacingAndGlyphs">1</text>
<line x1="298.16" y1="701" x2="298.16" y2="707.6" stroke="#1a1a1a" stroke-width="2"/>
<text x="298.16" y="729.40" font-size="20.3" text-anchor="middle" textLength="12.09" lengthAdjust="spacingAndGlyphs">2</text>
<line x1="419.93" y1="701" x2="419.93" y2="707.6" stroke="#1a1a1a" stroke-width="2"/>
<text x="419.93" y="729.40" font-size="20.3" text-anchor="middle" textLength="12.09" lengthAdjust="spacingAndGlyphs">3</text>
<line x1="541.71" y1="701" x2="541.71" y2="707.6" stroke="#1a1a1a" stroke-width="2"/>
<text x="541.71" y="729.40" font-size="20.3" text-anchor="middle" textLength="12.09" lengthAdjust="spacingAndGlyphs">4</text>
<line x1="663.48" y1="701" x2="663.48" y2="707.6" stroke="#1a1a1a" stroke-width="2"/>
<text x="663.48" y="729.40" font-size="20.3" text-anchor="middle" textLength="12.09" lengthAdjust="spacingAndGlyphs">5</text>
<clipPath id="cr2"><rect x="778" y="559" width="672" height="142"/></clipPath>
<g clip-path="url(#cr2)">
<line x1="851.26" y1="664.50" x2="851.26" y2="711" stroke="#000" stroke-opacity="0.37" stroke-width="2.8"/>
<line x1="868.18" y1="664.50" x2="868.18" y2="711" stroke="#000" stroke-opacity="0.37" stroke-width="2.8"/>
<line x1="940.28" y1="664.50" x2="940.28" y2="711" stroke="#000" stroke-opacity="0.37" stroke-width="2.8"/>
<line x1="985.37" y1="664.50" x2="985.37" y2="711" stroke="#000" stroke-opacity="0.37" stroke-width="2.8"/>
<line x1="987.00" y1="664.50" x2="987.00" y2="711" stroke="#000" stroke-opacity="0.37" stroke-width="2.8"/>
<line x1="994.21" y1="664.50" x2="994.21" y2="711" stroke="#000" stroke-opacity="0.37" stroke-width="2.8"/>
<line x1="1005.46" y1="664.50" x2="1005.46" y2="711" stroke="#000" stroke-opacity="0.37" stroke-width="2.8"/>
<line x1="1007.29" y1="664.50" x2="1007.29" y2="711" stroke="#000" stroke-opacity="0.37" stroke-width="2.8"/>
<line x1="1165.34" y1="664.50" x2="1165.34" y2="711" stroke="#000" stroke-opacity="0.37" stroke-width="2.8"/>
<line x1="1181.30" y1="664.50" x2="1181.30" y2="711" stroke="#000" stroke-opacity="0.37" stroke-width="2.8"/>
<line x1="1243.40" y1="664.50" x2="1243.40" y2="711" stroke="#000" stroke-opacity="0.37" stroke-width="2.8"/>
<line x1="1392.41" y1="664.50" x2="1392.41" y2="711" stroke="#000" stroke-opacity="0.37" stroke-width="2.8"/>
<polyline points="778.0,672.6 779.0,652.7 779.9,675.1 780.9,666.9 781.8,678.4 782.8,681.0 783.8,685.5 784.7,685.7 785.7,673.3 786.7,676.9 787.6,681.2 788.6,683.8 789.5,683.2 790.5,679.6 791.5,665.8 792.4,667.5 793.4,668.9 794.3,670.3 795.3,662.3 796.3,675.1 797.2,669.0 798.2,632.4 799.2,682.2 800.1,670.1 801.1,669.2 802.0,671.2 803.0,678.6 804.0,669.7 804.9,644.7 805.9,652.3 806.8,655.4 807.8,664.4 808.8,653.7 809.7,666.8 810.7,637.5 811.6,650.8 812.6,660.5 813.6,651.2 814.5,672.6 815.5,676.6 816.5,678.5 817.4,675.4 818.4,652.8 819.3,671.6 820.3,642.1 821.3,645.6 822.2,640.6 823.2,653.7 824.1,676.8 825.1,682.0 826.1,639.1 827.0,669.1 828.0,665.1 829.0,663.8 829.9,649.3 830.9,644.6 831.8,654.1 832.8,661.0 833.8,653.5 834.7,672.7 835.7,676.3 836.6,682.4 837.6,682.1 838.6,685.5 839.5,669.7 840.5,671.2 841.5,649.4 842.4,663.6 843.4,663.0 844.3,670.6 845.3,661.3 846.3,658.3 847.2,667.3 848.2,664.2 849.1,673.6 850.1,675.5 851.1,680.0 852.0,665.5 853.0,675.7 853.9,680.7 854.9,665.3 855.9,668.2 856.8,680.2 857.8,682.9 858.8,680.6 859.7,683.1 860.7,677.0 861.6,682.4 862.6,684.5 863.6,670.5 864.5,651.5 865.5,646.2 866.4,664.2 867.4,661.5 868.4,668.1 869.3,648.7 870.3,657.1 871.3,658.7 872.2,642.7 873.2,643.1 874.1,656.5 875.1,673.7 876.1,674.6 877.0,682.7 878.0,659.1 878.9,666.6 879.9,660.5 880.9,663.3 881.8,673.5 882.8,668.4 883.8,664.9 884.7,667.7 885.7,668.7 886.6,665.5 887.6,676.1 888.6,673.5 889.5,675.2 890.5,635.7 891.4,672.3 892.4,686.1 893.4,686.3 894.3,680.2 895.3,658.9 896.2,658.4 897.2,672.1 898.2,654.8 899.1,661.5 900.1,621.1 901.1,672.0 902.0,654.0 903.0,653.6 903.9,670.0 904.9,678.8 905.9,668.4 906.8,632.4 907.8,678.0 908.7,666.9 909.7,677.6 910.7,679.8 911.6,672.5 912.6,673.4 913.6,657.4 914.5,664.4 915.5,660.7 916.4,658.3 917.4,670.6 918.4,661.3 919.3,651.0 920.3,663.7 921.2,672.4 922.2,673.2 923.2,656.1 924.1,664.1 925.1,671.9 926.1,680.9 927.0,675.4 928.0,682.8 928.9,667.8 929.9,676.0 930.9,682.6 931.8,667.2 932.8,665.2 933.7,662.9 934.7,675.3 935.7,664.9 936.6,664.4 937.6,665.8 938.5,658.3 939.5,652.8 940.5,663.3 941.4,649.2 942.4,654.7 943.4,664.3 944.3,660.5 945.3,663.1 946.2,649.3 947.2,657.9 948.2,666.1 949.1,668.0 950.1,660.3 951.0,679.5 952.0,683.9 953.0,678.9 953.9,669.9 954.9,663.3 955.9,670.0 956.8,682.5 957.8,687.2 958.7,681.9 959.7,621.1 960.7,672.1 961.6,661.1 962.6,674.6 963.5,658.0 964.5,623.4 965.5,671.6 966.4,669.3 967.4,684.5 968.4,653.6 969.3,666.5 970.3,656.4 971.2,671.1 972.2,683.2 973.2,684.1 974.1,684.9 975.1,687.2 976.0,687.7 977.0,678.8 978.0,680.0 978.9,674.1 979.9,659.4 980.8,671.1 981.8,670.6 982.8,660.0 983.7,662.0 984.7,664.7 985.7,676.6 986.6,680.8 987.6,669.1 988.5,672.2 989.5,662.1 990.5,658.9 991.4,661.0 992.4,658.7 993.3,634.2 994.3,653.7 995.3,681.8 996.2,681.4 997.2,672.8 998.2,653.3 999.1,678.5 1000.1,678.4 1001.0,670.1 1002.0,656.0 1003.0,668.8 1003.9,685.0 1004.9,674.9 1005.8,664.5 1006.8,662.7 1007.8,662.1 1008.7,659.9 1009.7,672.8 1010.7,665.5 1011.6,658.7 1012.6,665.1 1013.5,675.5 1014.5,677.6 1015.5,667.0 1016.4,674.6 1017.4,658.7 1018.3,662.8 1019.3,669.3 1020.3,660.7 1021.2,666.2 1022.2,643.7 1023.2,642.0 1024.1,666.0 1025.1,671.6 1026.0,685.4 1027.0,671.2 1028.0,666.2 1028.9,666.3 1029.9,680.5 1030.8,659.5 1031.8,651.3 1032.8,666.9 1033.7,674.4 1034.7,676.3 1035.6,665.3 1036.6,664.5 1037.6,668.8 1038.5,672.0 1039.5,682.1 1040.5,680.8 1041.4,686.3 1042.4,670.9 1043.3,671.3 1044.3,671.1 1045.3,674.8 1046.2,680.7 1047.2,687.1 1048.1,685.7 1049.1,682.5 1050.1,680.1 1051.0,667.5 1052.0,660.0 1053.0,675.8 1053.9,680.5 1054.9,666.5 1055.8,685.6 1056.8,680.8 1057.8,668.9 1058.7,668.8 1059.7,674.2 1060.6,666.0 1061.6,674.3 1062.6,679.3 1063.5,672.9 1064.5,672.8 1065.5,666.1 1066.4,655.7 1067.4,648.7 1068.3,682.8 1069.3,673.8 1070.3,666.7 1071.2,659.8 1072.2,669.3 1073.1,672.9 1074.1,638.0 1075.1,676.5 1076.0,685.2 1077.0,672.1 1077.9,664.4 1078.9,678.4 1079.9,663.7 1080.8,675.7 1081.8,669.4 1082.8,680.8 1083.7,675.5 1084.7,678.9 1085.6,678.8 1086.6,671.7 1087.6,665.0 1088.5,676.9 1089.5,658.0 1090.4,673.7 1091.4,684.2 1092.4,680.0 1093.3,655.7 1094.3,669.7 1095.3,681.6 1096.2,681.4 1097.2,673.3 1098.1,666.6 1099.1,664.4 1100.1,656.2 1101.0,638.6 1102.0,656.5 1102.9,659.8 1103.9,665.6 1104.9,664.2 1105.8,653.8 1106.8,659.0 1107.8,674.9 1108.7,663.2 1109.7,649.6 1110.6,658.7 1111.6,642.9 1112.6,645.9 1113.5,674.7 1114.5,676.1 1115.4,681.9 1116.4,680.0 1117.4,681.7 1118.3,674.1 1119.3,665.9 1120.2,684.2 1121.2,670.6 1122.2,671.7 1123.1,660.6 1124.1,669.1 1125.1,686.2 1126.0,679.8 1127.0,671.7 1127.9,667.0 1128.9,669.6 1129.9,679.2 1130.8,681.8 1131.8,682.2 1132.7,683.7 1133.7,676.7 1134.7,669.9 1135.6,661.6 1136.6,662.5 1137.6,668.3 1138.5,663.1 1139.5,667.2 1140.4,677.8 1141.4,665.0 1142.4,668.4 1143.3,670.0 1144.3,656.7 1145.2,658.2 1146.2,657.3 1147.2,641.6 1148.1,643.7 1149.1,648.5 1150.1,659.3 1151.0,682.6 1152.0,687.5 1152.9,686.5 1153.9,656.2 1154.9,666.0 1155.8,672.6 1156.8,665.8 1157.7,655.4 1158.7,659.6 1159.7,659.2 1160.6,661.5 1161.6,670.1 1162.5,675.1 1163.5,686.9 1164.5,680.3 1165.4,675.5 1166.4,670.2 1167.4,660.2 1168.3,678.5 1169.3,683.4 1170.2,671.0 1171.2,683.7 1172.2,675.8 1173.1,673.1 1174.1,667.3 1175.0,649.2 1176.0,668.6 1177.0,680.3 1177.9,668.6 1178.9,670.5 1179.9,674.9 1180.8,671.7 1181.8,658.3 1182.7,676.1 1183.7,675.5 1184.7,683.1 1185.6,669.0 1186.6,663.4 1187.5,676.5 1188.5,676.3 1189.5,682.6 1190.4,677.0 1191.4,664.5 1192.4,674.1 1193.3,673.0 1194.3,684.8 1195.2,662.8 1196.2,678.6 1197.2,674.2 1198.1,676.2 1199.1,663.6 1200.0,670.8 1201.0,675.1 1202.0,683.6 1202.9,667.0 1203.9,683.7 1204.8,663.2 1205.8,653.7 1206.8,642.6 1207.7,669.5 1208.7,677.0 1209.7,672.4 1210.6,660.2 1211.6,676.2 1212.5,661.1 1213.5,677.2 1214.5,667.1 1215.4,668.7 1216.4,667.8 1217.3,670.0 1218.3,663.3 1219.3,682.2 1220.2,666.7 1221.2,674.1 1222.2,674.1 1223.1,678.8 1224.1,668.3 1225.0,665.5 1226.0,671.9 1227.0,679.0 1227.9,655.2 1228.9,666.4 1229.8,662.7 1230.8,669.9 1231.8,658.5 1232.7,649.4 1233.7,648.8 1234.7,641.5 1235.6,638.8 1236.6,677.1 1237.5,678.4 1238.5,683.0 1239.5,670.3 1240.4,666.8 1241.4,678.6 1242.3,656.7 1243.3,662.0 1244.3,647.1 1245.2,666.4 1246.2,658.4 1247.2,620.7 1248.1,664.5 1249.1,663.2 1250.0,666.4 1251.0,671.4 1252.0,666.6 1252.9,683.5 1253.9,669.8 1254.8,668.2 1255.8,679.3 1256.8,667.2 1257.7,684.0 1258.7,684.6 1259.6,666.0 1260.6,661.9 1261.6,672.3 1262.5,654.8 1263.5,666.4 1264.5,669.6 1265.4,668.9 1266.4,661.8 1267.3,660.1 1268.3,674.3 1269.3,675.1 1270.2,666.0 1271.2,634.6 1272.1,659.9 1273.1,654.7 1274.1,652.8 1275.0,672.3 1276.0,672.3 1277.0,646.3 1277.9,662.1 1278.9,657.3 1279.8,676.2 1280.8,639.1 1281.8,664.0 1282.7,659.0 1283.7,658.6 1284.6,678.6 1285.6,675.0 1286.6,659.9 1287.5,671.2 1288.5,659.6 1289.5,667.9 1290.4,654.4 1291.4,638.1 1292.3,666.4 1293.3,664.1 1294.3,673.2 1295.2,678.9 1296.2,673.4 1297.1,668.8 1298.1,664.1 1299.1,662.1 1300.0,608.8 1301.0,680.4 1301.9,687.0 1302.9,677.1 1303.9,664.5 1304.8,664.0 1305.8,671.9 1306.8,666.6 1307.7,659.1 1308.7,658.6 1309.6,670.2 1310.6,673.0 1311.6,657.1 1312.5,664.2 1313.5,665.1 1314.4,666.9 1315.4,618.9 1316.4,659.8 1317.3,668.3 1318.3,672.0 1319.3,673.2 1320.2,669.6 1321.2,663.4 1322.1,679.2 1323.1,658.1 1324.1,674.7 1325.0,670.9 1326.0,679.3 1326.9,678.4 1327.9,674.4 1328.9,666.5 1329.8,665.6 1330.8,658.6 1331.8,668.1 1332.7,651.1 1333.7,677.0 1334.6,670.8 1335.6,666.9 1336.6,672.6 1337.5,671.3 1338.5,677.7 1339.4,669.8 1340.4,673.4 1341.4,663.8 1342.3,663.1 1343.3,662.3 1344.2,665.2 1345.2,675.5 1346.2,665.3 1347.1,658.6 1348.1,668.3 1349.1,678.3 1350.0,678.9 1351.0,663.7 1351.9,681.0 1352.9,671.9 1353.9,673.6 1354.8,663.8 1355.8,679.6 1356.7,670.2 1357.7,678.6 1358.7,640.9 1359.6,650.2 1360.6,663.7 1361.6,645.0 1362.5,658.3 1363.5,656.3 1364.4,631.2 1365.4,643.2 1366.4,652.1 1367.3,682.5 1368.3,681.8 1369.2,672.0 1370.2,677.0 1371.2,680.7 1372.1,670.5 1373.1,681.5 1374.1,683.6 1375.0,670.5 1376.0,647.3 1376.9,668.1 1377.9,667.7 1378.9,663.0 1379.8,672.9 1380.8,678.2 1381.7,669.9 1382.7,678.9 1383.7,680.1 1384.6,655.2 1385.6,680.6 1386.5,654.6 1387.5,646.5 1388.5,666.3 1389.4,655.1 1390.4,661.1 1391.4,674.6 1392.3,676.7 1393.3,678.9 1394.2,657.9 1395.2,675.9 1396.2,682.6 1397.1,679.2 1398.1,679.6 1399.0,651.6 1400.0,667.5 1401.0,675.5 1401.9,679.0 1402.9,680.7 1403.9,687.0 1404.8,679.7 1405.8,680.7 1406.7,678.0 1407.7,662.2 1408.7,655.4 1409.6,655.1 1410.6,673.4 1411.5,672.8 1412.5,676.3 1413.5,676.1 1414.4,674.6 1415.4,677.3 1416.4,663.6 1417.3,674.6 1418.3,658.0 1419.2,660.6 1420.2,667.6 1421.2,664.5 1422.1,671.2 1423.1,673.8 1424.0,630.6 1425.0,669.5 1426.0,636.0 1426.9,662.9 1427.9,679.1 1428.8,661.8 1429.8,671.7 1430.8,676.6 1431.7,681.8 1432.7,678.1 1433.7,680.6 1434.6,668.9 1435.6,675.8 1436.5,673.6 1437.5,666.1 1438.5,666.7 1439.4,674.0 1440.4,681.0 1441.3,629.0 1442.3,687.0 1443.3,674.9 1444.2,678.0 1445.2,678.2 1446.2,673.2 1447.1,669.2 1448.1,659.6 1449.0,661.6 1450.0,669.7" fill="none" stroke="#1f77b4" stroke-opacity="0.35" stroke-width="2.4" stroke-linejoin="round"/>
<polyline points="778.0,681.1 779.0,672.7 779.9,673.1 780.9,672.7 781.8,678.9 782.8,672.7 783.8,662.9 784.7,669.7 785.7,663.1 786.7,667.5 787.6,672.7 788.6,657.7 789.5,668.7 790.5,667.1 791.5,681.2 792.4,668.4 793.4,673.5 794.3,673.2 795.3,675.1 796.3,670.2 797.2,675.6 798.2,680.9 799.2,674.5 800.1,670.0 801.1,674.7 802.0,665.5 803.0,655.0 804.0,672.0 804.9,666.5 805.9,663.4 806.8,680.4 807.8,683.8 808.8,687.6 809.7,670.4 810.7,674.3 811.6,631.2 812.6,666.4 813.6,649.1 814.5,655.0 815.5,643.9 816.5,642.7 817.4,636.0 818.4,655.1 819.3,668.8 820.3,676.0 821.3,666.5 822.2,675.9 823.2,664.7 824.1,682.8 825.1,667.5 826.1,662.8 827.0,648.4 828.0,652.0 829.0,660.5 829.9,661.6 830.9,683.0 831.8,678.6 832.8,673.1 833.8,650.2 834.7,660.4 835.7,680.0 836.6,650.1 837.6,672.4 838.6,670.9 839.5,678.9 840.5,632.4 841.5,678.7 842.4,678.3 843.4,667.0 844.3,674.9 845.3,666.4 846.3,649.1 847.2,653.2 848.2,665.1 849.1,673.4 850.1,671.9 851.1,681.5 852.0,675.2 853.0,666.1 853.9,680.8 854.9,684.2 855.9,658.7 856.8,665.9 857.8,646.1 858.8,652.5 859.7,653.7 860.7,661.2 861.6,645.4 862.6,634.6 863.6,659.0 864.5,681.9 865.5,684.7 866.4,678.6 867.4,681.8 868.4,671.4 869.3,666.6 870.3,663.3 871.3,660.6 872.2,664.5 873.2,663.4 874.1,665.5 875.1,678.0 876.1,674.7 877.0,673.0 878.0,661.5 878.9,671.4 879.9,678.5 880.9,652.9 881.8,653.4 882.8,649.6 883.8,641.7 884.7,661.7 885.7,653.5 886.6,661.0 887.6,677.1 888.6,671.7 889.5,669.1 890.5,663.7 891.4,670.7 892.4,673.2 893.4,680.6 894.3,668.2 895.3,684.6 896.2,677.9 897.2,678.2 898.2,678.2 899.1,672.5 900.1,675.0 901.1,685.2 902.0,687.6 903.0,687.8 903.9,686.5 904.9,681.8 905.9,679.2 906.8,675.1 907.8,671.5 908.7,675.2 909.7,683.4 910.7,680.7 911.6,680.6 912.6,657.6 913.6,653.0 914.5,673.0 915.5,673.1 916.4,657.0 917.4,662.5 918.4,654.1 919.3,660.7 920.3,663.1 921.2,659.5 922.2,672.3 923.2,677.2 924.1,676.4 925.1,661.4 926.1,662.7 927.0,565.4 928.0,663.4 928.9,661.2 929.9,654.4 930.9,659.8 931.8,665.3 932.8,683.7 933.7,674.9 934.7,685.1 935.7,679.5 936.6,654.4 937.6,661.1 938.5,624.5 939.5,672.3 940.5,668.5 941.4,680.1 942.4,677.2 943.4,671.4 944.3,673.3 945.3,680.6 946.2,687.6 947.2,684.8 948.2,683.5 949.1,681.4 950.1,672.1 951.0,684.5 952.0,671.8 953.0,682.0 953.9,648.9 954.9,645.8 955.9,652.0 956.8,672.4 957.8,670.1 958.7,597.5 959.7,675.5 960.7,677.5 961.6,662.7 962.6,665.8 963.5,645.0 964.5,644.5 965.5,659.8 966.4,658.2 967.4,663.5 968.4,678.3 969.3,669.3 970.3,676.9 971.2,657.5 972.2,642.5 973.2,683.5 974.1,676.1 975.1,681.1 976.0,657.7 977.0,666.5 978.0,665.3 978.9,660.7 979.9,675.7 980.8,671.6 981.8,655.1 982.8,670.9 983.7,664.0 984.7,670.2 985.7,643.0 986.6,637.5 987.6,653.7 988.5,665.9 989.5,662.1 990.5,668.1 991.4,670.7 992.4,675.4 993.3,652.2 994.3,637.9 995.3,647.7 996.2,676.9 997.2,683.5 998.2,672.8 999.1,679.1 1000.1,679.0 1001.0,673.7 1002.0,675.7 1003.0,659.0 1003.9,678.0 1004.9,673.2 1005.8,680.9 1006.8,674.3 1007.8,685.3 1008.7,681.6 1009.7,665.5 1010.7,675.1 1011.6,670.3 1012.6,675.2 1013.5,671.4 1014.5,674.1 1015.5,666.7 1016.4,678.2 1017.4,676.0 1018.3,665.7 1019.3,675.2 1020.3,664.8 1021.2,656.9 1022.2,661.7 1023.2,683.5 1024.1,659.1 1025.1,677.2 1026.0,673.6 1027.0,667.3 1028.0,648.3 1028.9,659.5 1029.9,674.4 1030.8,633.5 1031.8,647.4 1032.8,671.4 1033.7,663.3 1034.7,667.3 1035.6,666.6 1036.6,671.1 1037.6,666.3 1038.5,660.7 1039.5,638.2 1040.5,675.2 1041.4,652.1 1042.4,660.5 1043.3,675.5 1044.3,683.2 1045.3,662.3 1046.2,680.8 1047.2,653.7 1048.1,676.7 1049.1,669.0 1050.1,677.4 1051.0,683.4 1052.0,681.1 1053.0,652.9 1053.9,630.1 1054.9,661.7 1055.8,653.4 1056.8,647.2 1057.8,619.3 1058.7,664.2 1059.7,666.1 1060.6,671.7 1061.6,685.7 1062.6,669.5 1063.5,659.6 1064.5,670.7 1065.5,636.2 1066.4,664.4 1067.4,669.8 1068.3,666.3 1069.3,675.1 1070.3,672.4 1071.2,651.8 1072.2,673.4 1073.1,685.6 1074.1,682.3 1075.1,682.8 1076.0,680.1 1077.0,680.3 1077.9,675.6 1078.9,644.8 1079.9,658.6 1080.8,639.6 1081.8,657.4 1082.8,671.4 1083.7,685.5 1084.7,677.0 1085.6,668.9 1086.6,639.0 1087.6,675.7 1088.5,678.9 1089.5,677.9 1090.4,676.3 1091.4,620.5 1092.4,679.4 1093.3,676.2 1094.3,681.2 1095.3,683.4 1096.2,675.5 1097.2,659.9 1098.1,673.7 1099.1,685.5 1100.1,682.4 1101.0,676.9 1102.0,674.7 1102.9,659.1 1103.9,676.5 1104.9,676.2 1105.8,678.9 1106.8,655.9 1107.8,661.0 1108.7,670.5 1109.7,678.0 1110.6,665.8 1111.6,680.5 1112.6,664.5 1113.5,655.4 1114.5,656.8 1115.4,663.2 1116.4,667.6 1117.4,659.7 1118.3,669.0 1119.3,658.1 1120.2,679.1 1121.2,660.5 1122.2,668.1 1123.1,654.4 1124.1,659.4 1125.1,671.9 1126.0,672.6 1127.0,677.0 1127.9,665.6 1128.9,680.6 1129.9,642.5 1130.8,670.6 1131.8,666.7 1132.7,677.6 1133.7,668.6 1134.7,680.6 1135.6,675.0 1136.6,682.9 1137.6,670.8 1138.5,671.5 1139.5,668.7 1140.4,685.4 1141.4,685.6 1142.4,617.1 1143.3,683.2 1144.3,677.4 1145.2,685.9 1146.2,620.7 1147.2,678.1 1148.1,671.4 1149.1,672.9 1150.1,670.3 1151.0,655.7 1152.0,680.0 1152.9,663.9 1153.9,680.2 1154.9,676.1 1155.8,679.8 1156.8,673.5 1157.7,674.5 1158.7,658.8 1159.7,680.3 1160.6,665.8 1161.6,663.1 1162.5,652.6 1163.5,670.3 1164.5,653.2 1165.4,622.9 1166.4,658.0 1167.4,664.4 1168.3,660.2 1169.3,648.9 1170.2,664.8 1171.2,683.4 1172.2,676.3 1173.1,666.4 1174.1,675.5 1175.0,676.9 1176.0,684.8 1177.0,674.7 1177.9,681.1 1178.9,667.9 1179.9,656.6 1180.8,629.0 1181.8,642.6 1182.7,644.6 1183.7,658.6 1184.7,641.3 1185.6,678.5 1186.6,683.1 1187.5,658.7 1188.5,673.6 1189.5,681.1 1190.4,681.1 1191.4,668.5 1192.4,656.7 1193.3,656.4 1194.3,670.7 1195.2,672.9 1196.2,622.2 1197.2,671.7 1198.1,665.1 1199.1,679.7 1200.0,663.4 1201.0,666.2 1202.0,669.5 1202.9,675.1 1203.9,687.0 1204.8,669.1 1205.8,675.1 1206.8,673.1 1207.7,672.5 1208.7,624.5 1209.7,668.7 1210.6,646.7 1211.6,651.2 1212.5,623.4 1213.5,674.4 1214.5,642.0 1215.4,669.1 1216.4,674.5 1217.3,681.1 1218.3,674.5 1219.3,603.6 1220.2,657.1 1221.2,675.0 1222.2,683.2 1223.1,658.6 1224.1,686.3 1225.0,679.3 1226.0,686.4 1227.0,675.0 1227.9,679.4 1228.9,668.8 1229.8,674.2 1230.8,670.1 1231.8,680.6 1232.7,676.2 1233.7,671.6 1234.7,669.6 1235.6,657.6 1236.6,653.4 1237.5,636.6 1238.5,669.0 1239.5,665.4 1240.4,669.0 1241.4,663.6 1242.3,650.0 1243.3,638.5 1244.3,614.8 1245.2,667.3 1246.2,677.2 1247.2,681.5 1248.1,676.5 1249.1,684.5 1250.0,679.5 1251.0,685.9 1252.0,681.0 1252.9,676.3 1253.9,622.9 1254.8,667.5 1255.8,672.7 1256.8,665.1 1257.7,676.3 1258.7,659.2 1259.6,666.7 1260.6,663.1 1261.6,670.7 1262.5,670.6 1263.5,674.2 1264.5,677.6 1265.4,673.6 1266.4,663.6 1267.3,680.2 1268.3,675.3 1269.3,661.0 1270.2,670.3 1271.2,656.5 1272.1,655.1 1273.1,675.2 1274.1,677.9 1275.0,658.7 1276.0,650.8 1277.0,656.2 1277.9,662.9 1278.9,685.5 1279.8,678.9 1280.8,686.1 1281.8,680.1 1282.7,675.8 1283.7,674.3 1284.6,667.1 1285.6,667.8 1286.6,679.6 1287.5,678.5 1288.5,664.6 1289.5,642.1 1290.4,671.1 1291.4,665.5 1292.3,653.7 1293.3,656.4 1294.3,666.5 1295.2,652.6 1296.2,640.2 1297.1,653.5 1298.1,672.3 1299.1,682.0 1300.0,669.2 1301.0,652.2 1301.9,665.2 1302.9,667.3 1303.9,671.0 1304.8,644.2 1305.8,669.9 1306.8,660.3 1307.7,672.2 1308.7,662.1 1309.6,659.6 1310.6,649.3 1311.6,662.9 1312.5,673.6 1313.5,675.9 1314.4,680.3 1315.4,665.1 1316.4,668.0 1317.3,682.4 1318.3,674.0 1319.3,675.9 1320.2,685.1 1321.2,680.1 1322.1,675.6 1323.1,678.0 1324.1,678.5 1325.0,683.0 1326.0,684.9 1326.9,657.6 1327.9,677.8 1328.9,668.5 1329.8,663.9 1330.8,667.5 1331.8,684.9 1332.7,668.1 1333.7,676.0 1334.6,647.0 1335.6,665.9 1336.6,678.4 1337.5,661.3 1338.5,670.7 1339.4,667.9 1340.4,657.4 1341.4,674.6 1342.3,635.7 1343.3,676.3 1344.2,661.9 1345.2,668.4 1346.2,673.0 1347.1,654.2 1348.1,649.7 1349.1,661.2 1350.0,640.2 1351.0,662.0 1351.9,663.0 1352.9,675.5 1353.9,666.1 1354.8,654.0 1355.8,664.9 1356.7,680.0 1357.7,672.3 1358.7,672.4 1359.6,666.8 1360.6,679.1 1361.6,671.6 1362.5,676.9 1363.5,663.9 1364.4,666.3 1365.4,670.4 1366.4,668.6 1367.3,660.9 1368.3,645.5 1369.2,661.4 1370.2,663.5 1371.2,674.3 1372.1,671.6 1373.1,681.6 1374.1,677.9 1375.0,656.2 1376.0,663.8 1376.9,671.2 1377.9,674.5 1378.9,679.2 1379.8,668.0 1380.8,673.2 1381.7,677.6 1382.7,652.9 1383.7,649.0 1384.6,657.1 1385.6,671.9 1386.5,653.9 1387.5,639.6 1388.5,655.8 1389.4,658.8 1390.4,658.0 1391.4,646.0 1392.3,651.3 1393.3,657.0 1394.2,667.5 1395.2,673.8 1396.2,667.7 1397.1,666.0 1398.1,671.0 1399.0,678.4 1400.0,675.1 1401.0,676.2 1401.9,671.4 1402.9,629.0 1403.9,653.1 1404.8,644.8 1405.8,677.7 1406.7,657.2 1407.7,676.7 1408.7,669.1 1409.6,670.4 1410.6,662.9 1411.5,676.1 1412.5,666.4 1413.5,682.7 1414.4,664.7 1415.4,677.5 1416.4,647.2 1417.3,667.2 1418.3,670.8 1419.2,672.7 1420.2,666.0 1421.2,670.6 1422.1,673.3 1423.1,677.0 1424.0,674.6 1425.0,660.0 1426.0,672.0 1426.9,670.1 1427.9,674.8 1428.8,675.2 1429.8,669.6 1430.8,667.2 1431.7,679.1 1432.7,671.0 1433.7,671.6 1434.6,668.8 1435.6,641.4 1436.5,656.8 1437.5,680.1 1438.5,662.4 1439.4,676.0 1440.4,678.6 1441.3,679.3 1442.3,669.3 1443.3,683.1 1444.2,681.6 1445.2,682.6 1446.2,671.7 1447.1,669.3 1448.1,671.5 1449.0,672.2 1450.0,679.6" fill="none" stroke="#ff7f0e" stroke-opacity="0.35" stroke-width="2.4" stroke-linejoin="round"/>
</g>
<rect x="778" y="559" width="672" height="142" fill="none" stroke="#1a1a1a" stroke-width="2"/>
<line x1="778.00" y1="701" x2="778.00" y2="707.6" stroke="#1a1a1a" stroke-width="2"/>
<text x="778.00" y="729.40" font-size="20.3" text-anchor="middle" textLength="12.09" lengthAdjust="spacingAndGlyphs">0</text>
<line x1="874.14" y1="701" x2="874.14" y2="707.6" stroke="#1a1a1a" stroke-width="2"/>
<text x="874.14" y="729.40" font-size="20.3" text-anchor="middle" textLength="36.27" lengthAdjust="spacingAndGlyphs">100</text>
<line x1="970.27" y1="701" x2="970.27" y2="707.6" stroke="#1a1a1a" stroke-width="2"/>
<text x="970.27" y="729.40" font-size="20.3" text-anchor="middle" textLength="36.27" lengthAdjust="spacingAndGlyphs">200</text>
<line x1="1066.41" y1="701" x2="1066.41" y2="707.6" stroke="#1a1a1a" stroke-width="2"/>
<text x="1066.41" y="729.40" font-size="20.3" text-anchor="middle" textLength="36.27" lengthAdjust="spacingAndGlyphs">300</text>
<line x1="1162.55" y1="701" x2="1162.55" y2="707.6" stroke="#1a1a1a" stroke-width="2"/>
<text x="1162.55" y="729.40" font-size="20.3" text-anchor="middle" textLength="36.27" lengthAdjust="spacingAndGlyphs">400</text>
<line x1="1258.69" y1="701" x2="1258.69" y2="707.6" stroke="#1a1a1a" stroke-width="2"/>
<text x="1258.69" y="729.40" font-size="20.3" text-anchor="middle" textLength="36.27" lengthAdjust="spacingAndGlyphs">500</text>
<line x1="1354.82" y1="701" x2="1354.82" y2="707.6" stroke="#1a1a1a" stroke-width="2"/>
<text x="1354.82" y="729.40" font-size="20.3" text-anchor="middle" textLength="36.27" lengthAdjust="spacingAndGlyphs">600</text>
<line x1="771" y1="690.00" x2="778" y2="690.00" stroke="#1a1a1a" stroke-width="2"/>
<text x="763.80" y="698.30" font-size="20.3" text-anchor="end" textLength="12.09" lengthAdjust="spacingAndGlyphs">0</text>
<line x1="771" y1="640.90" x2="778" y2="640.90" stroke="#1a1a1a" stroke-width="2"/>
<text x="763.80" y="649.20" font-size="20.3" text-anchor="end" textLength="12.09" lengthAdjust="spacingAndGlyphs">2</text>
<line x1="771" y1="591.80" x2="778" y2="591.80" stroke="#1a1a1a" stroke-width="2"/>
<text x="763.80" y="600.10" font-size="20.3" text-anchor="end" textLength="12.09" lengthAdjust="spacingAndGlyphs">4</text>
<text x="371.50" y="764.20" font-size="24.3" text-anchor="middle" textLength="62.49" lengthAdjust="spacingAndGlyphs">roi_m</text>
<text x="371.50" y="791.00" font-size="24.3" text-anchor="middle" textLength="118.99" lengthAdjust="spacingAndGlyphs">Channel_3</text>
<text x="1114.00" y="764.20" font-size="24.3" text-anchor="middle" textLength="62.49" lengthAdjust="spacingAndGlyphs">roi_m</text>
<text x="1114.00" y="791.00" font-size="24.3" text-anchor="middle" textLength="118.99" lengthAdjust="spacingAndGlyphs">Channel_3</text>
<clipPath id="cl3"><rect x="35" y="799" width="673" height="142"/></clipPath>
<g clip-path="url(#cl3)">
<line x1="123.30" y1="904.50" x2="123.30" y2="951" stroke="#000" stroke-opacity="0.37" stroke-width="2.8"/>
<line x1="132.20" y1="904.50" x2="132.20" y2="951" stroke="#000" stroke-opacity="0.37" stroke-width="2.8"/>
<line x1="146.20" y1="904.50" x2="146.20" y2="951" stroke="#000" stroke-opacity="0.37" stroke-width="2.8"/>
<line x1="172.40" y1="904.50" x2="172.40" y2="951" stroke="#000" stroke-opacity="0.37" stroke-width="2.8"/>
<line x1="181.40" y1="904.50" x2="181.40" y2="951" stroke="#000" stroke-opacity="0.37" stroke-width="2.8"/>
<line x1="224.30" y1="904.50" x2="224.30" y2="951" stroke="#000" stroke-opacity="0.37" stroke-width="2.8"/>
<line x1="236.40" y1="904.50" x2="236.40" y2="951" stroke="#000" stroke-opacity="0.37" stroke-width="2.8"/>
<line x1="253.30" y1="904.50" x2="253.30" y2="951" stroke="#000" stroke-opacity="0.37" stroke-width="2.8"/>
<line x1="365.10" y1="904.50" x2="365.10" y2="951" stroke="#000" stroke-opacity="0.37" stroke-width="2.8"/>
<line x1="379.40" y1="904.50" x2="379.40" y2="951" stroke="#000" stroke-opacity="0.37" stroke-width="2.8"/>
<line x1="385.30" y1="904.50" x2="385.30" y2="951" stroke="#000" stroke-opacity="0.37" stroke-width="2.8"/>
<line x1="391.30" y1="904.50" x2="391.30" y2="951" stroke="#000" stroke-opacity="0.37" stroke-width="2.8"/>
<line x1="396.50" y1="904.50" x2="396.50" y2="951" stroke="#000" stroke-opacity="0.37" stroke-width="2.8"/>
<path d="M83.3,906.47 L84.3,906.26 L85.3,906.01 L86.3,905.73 L87.3,905.41 L88.3,905.06 L89.3,904.67 L90.3,904.24 L91.3,903.77 L92.3,903.26 L93.3,902.71 L94.3,902.12 L95.3,901.49 L96.3,900.82 L97.3,900.10 L98.3,899.34 L99.3,898.54 L100.3,897.69 L101.3,896.79 L102.3,895.84 L103.3,894.84 L104.3,893.80 L105.3,892.71 L106.3,891.58 L107.3,890.41 L108.3,889.20 L109.3,887.96 L110.3,886.68 L111.3,885.38 L112.3,884.06 L113.3,882.72 L114.3,881.36 L115.3,880.00 L116.3,878.63 L117.3,877.25 L118.3,875.88 L119.3,874.51 L120.3,873.14 L121.3,871.78 L122.3,870.43 L123.3,869.08 L124.3,867.75 L125.3,866.42 L126.3,865.10 L127.3,863.78 L128.3,862.47 L129.3,861.17 L130.3,859.87 L131.3,858.58 L132.3,857.29 L133.3,856.01 L134.3,854.73 L135.3,853.46 L136.3,852.20 L137.3,850.94 L138.3,849.69 L139.3,848.45 L140.3,847.23 L141.3,846.01 L142.3,844.81 L143.3,843.62 L144.3,842.43 L145.3,841.26 L146.3,840.11 L147.3,838.96 L148.3,837.82 L149.3,836.69 L150.3,835.58 L151.3,834.47 L152.3,833.38 L153.3,832.30 L154.3,831.23 L155.3,830.18 L156.3,829.14 L157.3,828.13 L158.3,827.14 L159.3,826.18 L160.3,825.24 L161.3,824.34 L162.3,823.46 L163.3,822.62 L164.3,821.82 L165.3,821.05 L166.3,820.32 L167.3,819.62 L168.3,818.96 L169.3,818.33 L170.3,817.74 L171.3,817.17 L172.3,816.63 L173.3,816.12 L174.3,815.63 L175.3,815.17 L176.3,814.72 L177.3,814.30 L178.3,813.90 L179.3,813.52 L180.3,813.16 L181.3,812.82 L182.3,812.51 L183.3,812.22 L184.3,811.95 L185.3,811.71 L186.3,811.49 L187.3,811.30 L188.3,811.13 L189.3,810.99 L190.3,810.87 L191.3,810.77 L192.3,810.69 L193.3,810.64 L194.3,810.60 L195.3,810.57 L196.3,810.57 L197.3,810.57 L198.3,810.58 L199.3,810.61 L200.3,810.63 L201.3,810.67 L202.3,810.71 L203.3,810.75 L204.3,810.79 L205.3,810.83 L206.3,810.86 L207.3,810.90 L208.3,810.93 L209.3,810.95 L210.3,810.97 L211.3,810.97 L212.3,810.97 L213.3,810.96 L214.3,810.94 L215.3,810.90 L216.3,810.85 L217.3,810.79 L218.3,810.72 L219.3,810.63 L220.3,810.54 L221.3,810.43 L222.3,810.31 L223.3,810.19 L224.3,810.06 L225.3,809.93 L226.3,809.80 L227.3,809.67 L228.3,809.55 L229.3,809.43 L230.3,809.32 L231.3,809.22 L232.3,809.14 L233.3,809.08 L234.3,809.03 L235.3,809.00 L236.3,809.00 L237.3,809.02 L238.3,809.06 L239.3,809.13 L240.3,809.23 L241.3,809.35 L242.3,809.50 L243.3,809.67 L244.3,809.87 L245.3,810.10 L246.3,810.35 L247.3,810.62 L248.3,810.92 L249.3,811.25 L250.3,811.60 L251.3,811.99 L252.3,812.40 L253.3,812.85 L254.3,813.33 L255.3,813.84 L256.3,814.40 L257.3,815.00 L258.3,815.64 L259.3,816.32 L260.3,817.05 L261.3,817.83 L262.3,818.65 L263.3,819.51 L264.3,820.42 L265.3,821.36 L266.3,822.34 L267.3,823.36 L268.3,824.40 L269.3,825.47 L270.3,826.55 L271.3,827.66 L272.3,828.78 L273.3,829.91 L274.3,831.05 L275.3,832.20 L276.3,833.35 L277.3,834.50 L278.3,835.65 L279.3,836.80 L280.3,837.95 L281.3,839.09 L282.3,840.24 L283.3,841.39 L284.3,842.54 L285.3,843.69 L286.3,844.84 L287.3,845.99 L288.3,847.14 L289.3,848.29 L290.3,849.44 L291.3,850.58 L292.3,851.72 L293.3,852.85 L294.3,853.96 L295.3,855.06 L296.3,856.13 L297.3,857.19 L298.3,858.22 L299.3,859.23 L300.3,860.21 L301.3,861.16 L302.3,862.08 L303.3,862.97 L304.3,863.83 L305.3,864.66 L306.3,865.46 L307.3,866.24 L308.3,866.99 L309.3,867.71 L310.3,868.41 L311.3,869.10 L312.3,869.76 L313.3,870.40 L314.3,871.03 L315.3,871.65 L316.3,872.25 L317.3,872.83 L318.3,873.41 L319.3,873.98 L320.3,874.53 L321.3,875.08 L322.3,875.62 L323.3,876.15 L324.3,876.68 L325.3,877.20 L326.3,877.71 L327.3,878.22 L328.3,878.72 L329.3,879.21 L330.3,879.71 L331.3,880.19 L332.3,880.68 L333.3,881.15 L334.3,881.63 L335.3,882.10 L336.3,882.56 L337.3,883.02 L338.3,883.48 L339.3,883.93 L340.3,884.38 L341.3,884.82 L342.3,885.26 L343.3,885.70 L344.3,886.13 L345.3,886.56 L346.3,886.99 L347.3,887.41 L348.3,887.84 L349.3,888.25 L350.3,888.67 L351.3,889.08 L352.3,889.49 L353.3,889.90 L354.3,890.30 L355.3,890.70 L356.3,891.10 L357.3,891.50 L358.3,891.89 L359.3,892.29 L360.3,892.68 L361.3,893.07 L362.3,893.46 L363.3,893.84 L364.3,894.23 L365.3,894.61 L366.3,895.00 L367.3,895.38 L368.3,895.76 L369.3,896.14 L370.3,896.52 L371.3,896.90 L372.3,897.27 L373.3,897.65 L374.3,898.02 L375.3,898.40 L376.3,898.77 L377.3,899.14 L378.3,899.51 L379.3,899.87 L380.3,900.24 L381.3,900.59 L382.3,900.95 L383.3,901.30 L384.3,901.65 L385.3,901.99 L386.3,902.32 L387.3,902.65 L388.3,902.97 L389.3,903.29 L390.3,903.59 L391.3,903.89 L392.3,904.18 L393.3,904.47 L394.3,904.75 L395.3,905.02 L396.3,905.28 L397.3,905.54 L398.3,905.79 L399.3,906.03 L400.3,906.27 L401.3,906.51 L402.3,906.74 L403.3,906.97 L404.3,907.19 L405.3,907.42 L406.3,907.64 L407.3,907.87 L408.3,908.09 L409.3,908.32 L410.3,908.55 L411.3,908.79 L412.3,909.02 L413.3,909.27 L414.3,909.51 L415.3,909.77 L416.3,910.03 L417.3,910.30 L418.3,910.58 L419.3,910.86 L420.3,911.16 L421.3,911.46 L422.3,911.77 L423.3,912.10 L424.3,912.43 L425.3,912.77 L426.3,913.11 L427.3,913.46 L428.3,913.82 L429.3,914.19 L430.3,914.55 L431.3,914.92 L432.3,915.29 L433.3,915.67 L434.3,916.04 L435.3,916.40 L436.3,916.77 L437.3,917.13 L438.3,917.48 L439.3,917.83 L440.3,918.17 L441.3,918.50 L442.3,918.83 L443.3,919.14 L444.3,919.44 L445.3,919.74 L446.3,920.02 L447.3,920.30 L448.3,920.56 L449.3,920.82 L450.3,921.07 L451.3,921.31 L452.3,921.54 L453.3,921.77 L454.3,921.99 L455.3,922.21 L456.3,922.42 L457.3,922.63 L458.3,922.83 L459.3,923.02 L460.3,923.21 L461.3,923.39 L462.3,923.56 L463.3,923.73 L464.3,923.89 L465.3,924.04 L466.3,924.18 L467.3,924.32 L468.3,924.44 L469.3,924.55 L470.3,924.66 L471.3,924.76 L472.3,924.84 L473.3,924.92 L474.3,924.99 L475.3,925.05 L476.3,925.11 L477.3,925.16 L478.3,925.20 L479.3,925.24 L480.3,925.27 L481.3,925.31 L482.3,925.33 L483.3,925.36 L484.3,925.38 L485.3,925.40 L486.3,925.42 L487.3,925.44 L488.3,925.46 L489.3,925.47 L490.3,925.49 L491.3,925.50 L492.3,925.52 L493.3,925.53 L494.3,925.54 L495.3,925.56 L496.3,925.57 L497.3,925.58 L498.3,925.59 L499.3,925.60 L500.3,925.61 L501.3,925.62 L502.3,925.63 L503.3,925.64 L504.3,925.65 L505.3,925.66 L506.3,925.67 L507.3,925.68 L508.3,925.69 L509.3,925.70 L510.3,925.71 L511.3,925.72 L512.3,925.73 L513.3,925.74 L514.3,925.75 L515.3,925.76 L516.3,925.77 L517.3,925.78 L518.3,925.79 L519.3,925.80 L520.3,925.82 L521.3,925.83 L522.3,925.84 L523.3,925.85 L524.3,925.87 L525.3,925.88 L526.3,925.90 L527.3,925.91 L528.3,925.93 L529.3,925.94 L530.3,925.96 L531.3,925.97 L532.3,925.99 L533.3,926.01 L534.3,926.03 L535.3,926.05 L536.3,926.06 L537.3,926.08 L538.3,926.10 L539.3,926.12 L540.3,926.14 L541.3,926.16 L542.3,926.18 L543.3,926.21 L544.3,926.23 L545.3,926.25 L546.3,926.27 L547.3,926.29 L548.3,926.31 L549.3,926.34 L550.3,926.36 L551.3,926.38 L552.3,926.41 L553.3,926.43 L554.3,926.45 L555.3,926.48 L556.3,926.50 L557.3,926.52 L558.3,926.55 L559.3,926.57 L560.3,926.59 L561.3,926.62 L562.3,926.64 L563.3,926.66 L564.3,926.69 L565.3,926.71 L566.3,926.73 L567.3,926.76 L568.3,926.78 L569.3,926.80 L570.3,926.83 L571.3,926.85 L572.3,926.87 L573.3,926.89 L574.3,926.92 L575.3,926.94 L576.3,926.96 L577.3,926.98 L578.3,927.00 L579.3,927.03 L580.3,927.05 L581.3,927.07 L582.3,927.09 L583.3,927.11 L584.3,927.13 L585.3,927.15 L586.3,927.16 L587.3,927.18 L588.3,927.20 L589.3,927.22 L590.3,927.24 L591.3,927.25 L592.3,927.27 L593.3,927.29 L594.3,927.30 L595.3,927.32 L596.3,927.33 L597.3,927.34 L598.3,927.36 L599.3,927.37 L600.3,927.38 L601.3,927.39 L602.3,927.40 L603.3,927.41 L604.3,927.42 L605.3,927.43 L606.3,927.44 L607.3,927.45 L608.3,927.46 L609.3,927.46 L610.3,927.47 L611.3,927.47 L612.3,927.47 L613.3,927.48 L614.3,927.48 L615.3,927.48 L616.3,927.48 L617.3,927.47 L618.3,927.47 L619.3,927.46 L620.3,927.46 L621.3,927.45 L622.3,927.44 L623.3,927.43 L624.3,927.41 L625.3,927.40 L626.3,927.38 L627.3,927.36 L628.3,927.34 L629.3,927.32 L630.3,927.30 L631.3,927.27 L632.3,927.24 L633.3,927.21 L634.3,927.18 L635.3,927.15 L636.3,927.12 L637.3,927.08 L638.3,927.05 L639.3,927.01 L640.3,926.97 L641.3,926.93 L642.3,926.89 L643.3,926.85 L644.3,926.80 L645.3,926.76 L646.3,926.71 L647.3,926.66 L648.3,926.61 L649.3,926.56 L650.3,926.51 L651.3,926.46 L652.3,926.40 L653.3,926.35 L654.3,926.29 L655.3,926.24 L656.3,926.18 L657.3,926.12 L658.3,926.06 L659.3,926.00 L660.3,925.94 L661.3,925.88 L662.3,925.82 L663.3,925.76 L664.3,925.69 L665.3,925.63 L666.3,925.57 L667.3,925.51 L668.3,925.44 L669.3,925.38 L670.3,925.32 L671.3,925.26 L672.3,925.21 L673.3,925.15 L674.3,925.10 L675.3,925.06 L676.3,925.02 L677.3,924.98 L677.7,924.94" fill="none" stroke="#1f77b4" stroke-width="2.4" stroke-linecap="butt"/>
<path d="M64.9,909.93 L65.9,909.86 L66.9,909.77 L67.9,909.66 L68.9,909.53 L69.9,909.38 L70.9,909.21 L71.9,909.02 L72.9,908.79 L73.9,908.54 L74.9,908.26 L75.9,907.94 L76.9,907.58 L77.9,907.19 L78.9,906.74 L79.9,906.24 L80.9,905.70 L81.9,905.09 L82.9,904.43 L83.9,903.70 L84.9,902.91 L85.9,902.07 L86.9,901.16 L87.9,900.20 L88.9,899.18 L89.9,898.12 L90.9,897.01 L91.9,895.86 L92.9,894.68 L93.9,893.47 L94.9,892.24 L95.9,890.99 L96.9,889.73 L97.9,888.46 L98.9,887.18 L99.9,885.90 L100.9,884.62 L101.9,883.34 L102.9,882.06 L103.9,880.78 L104.9,879.50 L105.9,878.21 L106.9,876.93 L107.9,875.64 L108.9,874.35 L109.9,873.05 L110.9,871.75 L111.9,870.45 L112.9,869.14 L113.9,867.83 L114.9,866.51 L115.9,865.19 L116.9,863.87 L117.9,862.54 L118.9,861.21 L119.9,859.88 L120.9,858.55 L121.9,857.22 L122.9,855.88 L123.9,854.54 L124.9,853.20 L125.9,851.86 L126.9,850.51 L127.9,849.17 L128.9,847.82 L129.9,846.47 L130.9,845.12 L131.9,843.78 L132.9,842.44 L133.9,841.10 L134.9,839.77 L135.9,838.44 L136.9,837.13 L137.9,835.83 L138.9,834.55 L139.9,833.28 L140.9,832.02 L141.9,830.78 L142.9,829.56 L143.9,828.35 L144.9,827.16 L145.9,825.99 L146.9,824.83 L147.9,823.68 L148.9,822.55 L149.9,821.43 L150.9,820.32 L151.9,819.22 L152.9,818.15 L153.9,817.09 L154.9,816.06 L155.9,815.05 L156.9,814.07 L157.9,813.13 L158.9,812.23 L159.9,811.38 L160.9,810.58 L161.9,809.84 L162.9,809.15 L163.9,808.53 L164.9,807.97 L165.9,807.48 L166.9,807.05 L167.9,806.69 L168.9,806.38 L169.9,806.13 L170.9,805.94 L171.9,805.79 L172.9,805.69 L173.9,805.63 L174.9,805.60 L175.9,805.61 L176.9,805.65 L177.9,805.72 L178.9,805.81 L179.9,805.93 L180.9,806.08 L181.9,806.24 L182.9,806.43 L183.9,806.65 L184.9,806.89 L185.9,807.14 L186.9,807.42 L187.9,807.71 L188.9,808.01 L189.9,808.32 L190.9,808.64 L191.9,808.97 L192.9,809.29 L193.9,809.62 L194.9,809.94 L195.9,810.26 L196.9,810.57 L197.9,810.88 L198.9,811.17 L199.9,811.46 L200.9,811.74 L201.9,812.01 L202.9,812.26 L203.9,812.51 L204.9,812.74 L205.9,812.95 L206.9,813.15 L207.9,813.33 L208.9,813.49 L209.9,813.64 L210.9,813.76 L211.9,813.85 L212.9,813.93 L213.9,813.98 L214.9,814.01 L215.9,814.01 L216.9,814.00 L217.9,813.96 L218.9,813.90 L219.9,813.83 L220.9,813.74 L221.9,813.64 L222.9,813.53 L223.9,813.41 L224.9,813.28 L225.9,813.16 L226.9,813.03 L227.9,812.91 L228.9,812.80 L229.9,812.70 L230.9,812.62 L231.9,812.55 L232.9,812.51 L233.9,812.50 L234.9,812.52 L235.9,812.57 L236.9,812.66 L237.9,812.79 L238.9,812.96 L239.9,813.17 L240.9,813.43 L241.9,813.74 L242.9,814.08 L243.9,814.48 L244.9,814.92 L245.9,815.39 L246.9,815.92 L247.9,816.48 L248.9,817.08 L249.9,817.72 L250.9,818.41 L251.9,819.13 L252.9,819.89 L253.9,820.69 L254.9,821.52 L255.9,822.39 L256.9,823.30 L257.9,824.23 L258.9,825.20 L259.9,826.18 L260.9,827.19 L261.9,828.21 L262.9,829.25 L263.9,830.29 L264.9,831.34 L265.9,832.38 L266.9,833.42 L267.9,834.46 L268.9,835.49 L269.9,836.51 L270.9,837.52 L271.9,838.52 L272.9,839.51 L273.9,840.48 L274.9,841.45 L275.9,842.41 L276.9,843.36 L277.9,844.30 L278.9,845.23 L279.9,846.16 L280.9,847.07 L281.9,847.98 L282.9,848.88 L283.9,849.77 L284.9,850.66 L285.9,851.53 L286.9,852.40 L287.9,853.25 L288.9,854.10 L289.9,854.93 L290.9,855.76 L291.9,856.57 L292.9,857.38 L293.9,858.17 L294.9,858.96 L295.9,859.73 L296.9,860.49 L297.9,861.25 L298.9,862.00 L299.9,862.73 L300.9,863.46 L301.9,864.18 L302.9,864.90 L303.9,865.60 L304.9,866.30 L305.9,867.00 L306.9,867.69 L307.9,868.37 L308.9,869.05 L309.9,869.72 L310.9,870.39 L311.9,871.06 L312.9,871.72 L313.9,872.38 L314.9,873.04 L315.9,873.69 L316.9,874.34 L317.9,874.99 L318.9,875.63 L319.9,876.28 L320.9,876.92 L321.9,877.56 L322.9,878.19 L323.9,878.82 L324.9,879.45 L325.9,880.08 L326.9,880.71 L327.9,881.33 L328.9,881.95 L329.9,882.56 L330.9,883.17 L331.9,883.78 L332.9,884.39 L333.9,884.99 L334.9,885.58 L335.9,886.18 L336.9,886.76 L337.9,887.35 L338.9,887.93 L339.9,888.50 L340.9,889.07 L341.9,889.63 L342.9,890.19 L343.9,890.75 L344.9,891.30 L345.9,891.84 L346.9,892.39 L347.9,892.92 L348.9,893.45 L349.9,893.98 L350.9,894.50 L351.9,895.01 L352.9,895.52 L353.9,896.03 L354.9,896.53 L355.9,897.03 L356.9,897.53 L357.9,898.01 L358.9,898.50 L359.9,898.98 L360.9,899.45 L361.9,899.92 L362.9,900.39 L363.9,900.85 L364.9,901.31 L365.9,901.76 L366.9,902.20 L367.9,902.64 L368.9,903.08 L369.9,903.51 L370.9,903.94 L371.9,904.36 L372.9,904.78 L373.9,905.20 L374.9,905.61 L375.9,906.01 L376.9,906.41 L377.9,906.81 L378.9,907.20 L379.9,907.58 L380.9,907.96 L381.9,908.33 L382.9,908.69 L383.9,909.04 L384.9,909.37 L385.9,909.70 L386.9,910.02 L387.9,910.32 L388.9,910.61 L389.9,910.88 L390.9,911.15 L391.9,911.40 L392.9,911.63 L393.9,911.85 L394.9,912.06 L395.9,912.26 L396.9,912.45 L397.9,912.63 L398.9,912.81 L399.9,912.97 L400.9,913.13 L401.9,913.28 L402.9,913.42 L403.9,913.56 L404.9,913.70 L405.9,913.83 L406.9,913.96 L407.9,914.08 L408.9,914.20 L409.9,914.32 L410.9,914.44 L411.9,914.55 L412.9,914.66 L413.9,914.77 L414.9,914.88 L415.9,914.98 L416.9,915.09 L417.9,915.19 L418.9,915.30 L419.9,915.40 L420.9,915.50 L421.9,915.61 L422.9,915.71 L423.9,915.82 L424.9,915.93 L425.9,916.04 L426.9,916.15 L427.9,916.26 L428.9,916.38 L429.9,916.49 L430.9,916.62 L431.9,916.74 L432.9,916.87 L433.9,917.00 L434.9,917.13 L435.9,917.27 L436.9,917.41 L437.9,917.56 L438.9,917.71 L439.9,917.86 L440.9,918.02 L441.9,918.18 L442.9,918.35 L443.9,918.51 L444.9,918.69 L445.9,918.86 L446.9,919.04 L447.9,919.22 L448.9,919.40 L449.9,919.58 L450.9,919.76 L451.9,919.94 L452.9,920.13 L453.9,920.31 L454.9,920.49 L455.9,920.67 L456.9,920.84 L457.9,921.02 L458.9,921.19 L459.9,921.35 L460.9,921.52 L461.9,921.68 L462.9,921.83 L463.9,921.98 L464.9,922.13 L465.9,922.27 L466.9,922.41 L467.9,922.54 L468.9,922.67 L469.9,922.79 L470.9,922.91 L471.9,923.02 L472.9,923.13 L473.9,923.24 L474.9,923.34 L475.9,923.44 L476.9,923.53 L477.9,923.63 L478.9,923.72 L479.9,923.80 L480.9,923.89 L481.9,923.96 L482.9,924.04 L483.9,924.11 L484.9,924.17 L485.9,924.23 L486.9,924.29 L487.9,924.34 L488.9,924.38 L489.9,924.42 L490.9,924.45 L491.9,924.48 L492.9,924.51 L493.9,924.52 L494.9,924.54 L495.9,924.55 L496.9,924.56 L497.9,924.56 L498.9,924.56 L499.9,924.56 L500.9,924.56 L501.9,924.55 L502.9,924.55 L503.9,924.54 L504.9,924.53 L505.9,924.51 L506.9,924.50 L507.9,924.48 L508.9,924.46 L509.9,924.44 L510.9,924.41 L511.9,924.38 L512.9,924.35 L513.9,924.32 L514.9,924.28 L515.9,924.25 L516.9,924.20 L517.9,924.16 L518.9,924.11 L519.9,924.07 L520.9,924.02 L521.9,923.97 L522.9,923.92 L523.9,923.87 L524.9,923.82 L525.9,923.78 L526.9,923.74 L527.9,923.70 L528.3,923.66" fill="none" stroke="#ff7f0e" stroke-width="2.4" stroke-linecap="butt"/>
</g>
<rect x="35" y="799" width="673" height="142" fill="none" stroke="#1a1a1a" stroke-width="2"/>
<line x1="52.86" y1="941" x2="52.86" y2="947.6" stroke="#1a1a1a" stroke-width="2"/>
<text x="52.86" y="969.40" font-size="20.3" text-anchor="middle" textLength="12.09" lengthAdjust="spacingAndGlyphs">0</text>
<line x1="191.22" y1="941" x2="191.22" y2="947.6" stroke="#1a1a1a" stroke-width="2"/>
<text x="191.22" y="969.40" font-size="20.3" text-anchor="middle" textLength="12.09" lengthAdjust="spacingAndGlyphs">1</text>
<line x1="329.58" y1="941" x2="329.58" y2="947.6" stroke="#1a1a1a" stroke-width="2"/>
<text x="329.58" y="969.40" font-size="20.3" text-anchor="middle" textLength="12.09" lengthAdjust="spacingAndGlyphs">2</text>
<line x1="467.94" y1="941" x2="467.94" y2="947.6" stroke="#1a1a1a" stroke-width="2"/>
<text x="467.94" y="969.40" font-size="20.3" text-anchor="middle" textLength="12.09" lengthAdjust="spacingAndGlyphs">3</text>
<line x1="606.30" y1="941" x2="606.30" y2="947.6" stroke="#1a1a1a" stroke-width="2"/>
<text x="606.30" y="969.40" font-size="20.3" text-anchor="middle" textLength="12.09" lengthAdjust="spacingAndGlyphs">4</text>
<clipPath id="cr3"><rect x="778" y="799" width="672" height="142"/></clipPath>
<g clip-path="url(#cr3)">
<line x1="851.26" y1="904.50" x2="851.26" y2="951" stroke="#000" stroke-opacity="0.37" stroke-width="2.8"/>
<line x1="868.18" y1="904.50" x2="868.18" y2="951" stroke="#000" stroke-opacity="0.37" stroke-width="2.8"/>
<line x1="940.28" y1="904.50" x2="940.28" y2="951" stroke="#000" stroke-opacity="0.37" stroke-width="2.8"/>
<line x1="985.37" y1="904.50" x2="985.37" y2="951" stroke="#000" stroke-opacity="0.37" stroke-width="2.8"/>
<line x1="987.00" y1="904.50" x2="987.00" y2="951" stroke="#000" stroke-opacity="0.37" stroke-width="2.8"/>
<line x1="994.21" y1="904.50" x2="994.21" y2="951" stroke="#000" stroke-opacity="0.37" stroke-width="2.8"/>
<line x1="1005.46" y1="904.50" x2="1005.46" y2="951" stroke="#000" stroke-opacity="0.37" stroke-width="2.8"/>
<line x1="1007.29" y1="904.50" x2="1007.29" y2="951" stroke="#000" stroke-opacity="0.37" stroke-width="2.8"/>
<line x1="1165.34" y1="904.50" x2="1165.34" y2="951" stroke="#000" stroke-opacity="0.37" stroke-width="2.8"/>
<line x1="1181.30" y1="904.50" x2="1181.30" y2="951" stroke="#000" stroke-opacity="0.37" stroke-width="2.8"/>
<line x1="1243.40" y1="904.50" x2="1243.40" y2="951" stroke="#000" stroke-opacity="0.37" stroke-width="2.8"/>
<line x1="1392.41" y1="904.50" x2="1392.41" y2="951" stroke="#000" stroke-opacity="0.37" stroke-width="2.8"/>
<polyline points="778.0,913.5 779.0,893.9 779.9,904.4 780.9,901.5 781.8,908.0 782.8,917.2 783.8,920.3 784.7,905.9 785.7,870.8 786.7,888.3 787.6,868.8 788.6,805.4 789.5,895.4 790.5,889.8 791.5,908.4 792.4,904.1 793.4,906.9 794.3,895.7 795.3,919.7 796.3,896.3 797.2,883.5 798.2,887.5 799.2,888.8 800.1,896.8 801.1,901.5 802.0,896.0 803.0,913.6 804.0,915.1 804.9,912.4 805.9,871.8 806.8,892.9 807.8,864.5 808.8,894.2 809.7,923.7 810.7,835.3 811.6,906.9 812.6,873.4 813.6,900.2 814.5,892.7 815.5,907.3 816.5,897.3 817.4,889.5 818.4,906.9 819.3,888.4 820.3,886.3 821.3,904.4 822.2,885.9 823.2,902.6 824.1,891.4 825.1,901.6 826.1,909.4 827.0,885.4 828.0,862.6 829.0,865.4 829.9,872.1 830.9,891.5 831.8,860.6 832.8,877.7 833.8,860.0 834.7,899.1 835.7,912.3 836.6,898.0 837.6,887.1 838.6,905.9 839.5,907.2 840.5,901.7 841.5,897.6 842.4,911.8 843.4,919.6 844.3,915.3 845.3,902.9 846.3,890.2 847.2,900.1 848.2,870.8 849.1,904.6 850.1,907.0 851.1,901.8 852.0,897.4 853.0,893.3 853.9,906.3 854.9,911.6 855.9,919.6 856.8,900.2 857.8,908.5 858.8,902.5 859.7,885.5 860.7,891.0 861.6,912.5 862.6,907.5 863.6,898.7 864.5,870.7 865.5,880.2 866.4,900.8 867.4,855.9 868.4,859.6 869.3,872.9 870.3,900.4 871.3,914.2 872.2,906.9 873.2,898.8 874.1,905.4 875.1,894.3 876.1,898.4 877.0,916.6 878.0,882.9 878.9,856.6 879.9,891.0 880.9,902.3 881.8,921.7 882.8,919.4 883.8,893.5 884.7,914.3 885.7,912.3 886.6,885.6 887.6,907.1 888.6,892.9 889.5,914.0 890.5,907.1 891.4,906.1 892.4,902.6 893.4,909.7 894.3,885.6 895.3,913.8 896.2,887.9 897.2,894.7 898.2,907.9 899.1,895.7 900.1,887.4 901.1,893.1 902.0,901.4 903.0,868.8 903.9,882.8 904.9,905.2 905.9,871.3 906.8,872.2 907.8,885.8 908.7,906.7 909.7,887.4 910.7,899.2 911.6,902.7 912.6,905.3 913.6,916.3 914.5,875.5 915.5,881.9 916.4,874.4 917.4,896.5 918.4,874.4 919.3,921.0 920.3,915.7 921.2,923.7 922.2,913.0 923.2,895.5 924.1,889.1 925.1,911.6 926.1,904.9 927.0,904.0 928.0,896.3 928.9,878.9 929.9,898.4 930.9,885.9 931.8,881.2 932.8,876.2 933.7,899.7 934.7,907.5 935.7,907.5 936.6,914.5 937.6,914.3 938.5,914.9 939.5,828.6 940.5,907.1 941.4,891.7 942.4,901.7 943.4,870.6 944.3,885.5 945.3,892.4 946.2,910.9 947.2,891.3 948.2,875.8 949.1,891.8 950.1,883.4 951.0,863.2 952.0,894.6 953.0,824.1 953.9,893.6 954.9,896.5 955.9,910.4 956.8,904.3 957.8,900.5 958.7,886.9 959.7,899.8 960.7,903.0 961.6,865.7 962.6,880.5 963.5,879.6 964.5,883.6 965.5,906.5 966.4,900.0 967.4,895.5 968.4,914.6 969.3,875.3 970.3,895.0 971.2,904.7 972.2,896.5 973.2,886.3 974.1,879.7 975.1,887.2 976.0,807.2 977.0,873.9 978.0,885.5 978.9,882.2 979.9,895.0 980.8,898.9 981.8,890.8 982.8,902.5 983.7,908.0 984.7,900.2 985.7,899.8 986.6,899.7 987.6,907.0 988.5,878.2 989.5,849.9 990.5,882.0 991.4,881.4 992.4,903.6 993.3,897.5 994.3,890.7 995.3,877.0 996.2,909.5 997.2,916.1 998.2,893.0 999.1,908.1 1000.1,913.8 1001.0,896.4 1002.0,899.2 1003.0,881.6 1003.9,915.7 1004.9,893.8 1005.8,882.6 1006.8,896.7 1007.8,905.1 1008.7,885.9 1009.7,907.0 1010.7,865.7 1011.6,869.5 1012.6,904.0 1013.5,900.4 1014.5,894.0 1015.5,880.4 1016.4,897.2 1017.4,891.6 1018.3,896.3 1019.3,901.0 1020.3,904.2 1021.2,890.9 1022.2,893.9 1023.2,888.3 1024.1,886.0 1025.1,890.3 1026.0,865.8 1027.0,865.7 1028.0,872.4 1028.9,900.6 1029.9,879.4 1030.8,885.0 1031.8,888.1 1032.8,902.9 1033.7,903.4 1034.7,873.7 1035.6,874.4 1036.6,886.2 1037.6,887.8 1038.5,898.4 1039.5,887.3 1040.5,898.7 1041.4,905.5 1042.4,879.3 1043.3,890.0 1044.3,878.0 1045.3,899.4 1046.2,902.1 1047.2,889.3 1048.1,890.2 1049.1,890.3 1050.1,891.9 1051.0,916.7 1052.0,900.1 1053.0,896.2 1053.9,915.4 1054.9,895.6 1055.8,880.8 1056.8,860.5 1057.8,880.0 1058.7,876.6 1059.7,910.9 1060.6,866.4 1061.6,884.2 1062.6,884.8 1063.5,892.0 1064.5,906.1 1065.5,917.2 1066.4,900.7 1067.4,914.5 1068.3,895.7 1069.3,904.5 1070.3,892.4 1071.2,895.8 1072.2,902.8 1073.1,907.2 1074.1,892.3 1075.1,881.7 1076.0,868.7 1077.0,856.6 1077.9,904.0 1078.9,899.9 1079.9,875.8 1080.8,888.7 1081.8,914.8 1082.8,910.4 1083.7,922.4 1084.7,895.5 1085.6,895.8 1086.6,886.6 1087.6,920.8 1088.5,912.8 1089.5,835.3 1090.4,907.5 1091.4,887.5 1092.4,907.2 1093.3,881.2 1094.3,892.2 1095.3,883.2 1096.2,897.5 1097.2,895.0 1098.1,877.3 1099.1,918.6 1100.1,898.5 1101.0,889.4 1102.0,879.8 1102.9,879.5 1103.9,897.9 1104.9,900.7 1105.8,913.3 1106.8,900.0 1107.8,889.3 1108.7,907.0 1109.7,914.3 1110.6,911.1 1111.6,907.1 1112.6,901.1 1113.5,882.3 1114.5,903.7 1115.4,902.4 1116.4,900.5 1117.4,890.5 1118.3,912.6 1119.3,898.1 1120.2,903.1 1121.2,918.7 1122.2,892.1 1123.1,905.5 1124.1,911.7 1125.1,910.9 1126.0,900.4 1127.0,899.8 1127.9,876.7 1128.9,878.4 1129.9,902.1 1130.8,901.0 1131.8,919.7 1132.7,919.1 1133.7,909.1 1134.7,898.2 1135.6,890.6 1136.6,906.7 1137.6,904.5 1138.5,903.3 1139.5,894.6 1140.4,889.0 1141.4,897.6 1142.4,881.4 1143.3,906.0 1144.3,900.0 1145.2,904.1 1146.2,905.7 1147.2,860.7 1148.1,885.7 1149.1,870.8 1150.1,888.1 1151.0,902.6 1152.0,882.5 1152.9,906.8 1153.9,907.1 1154.9,903.1 1155.8,914.8 1156.8,883.6 1157.7,896.9 1158.7,889.4 1159.7,906.5 1160.6,901.7 1161.6,855.5 1162.5,881.0 1163.5,895.9 1164.5,907.1 1165.4,888.6 1166.4,896.3 1167.4,912.8 1168.3,905.2 1169.3,899.1 1170.2,883.0 1171.2,879.0 1172.2,876.1 1173.1,865.8 1174.1,897.9 1175.0,889.6 1176.0,897.0 1177.0,907.5 1177.9,901.3 1178.9,914.9 1179.9,909.9 1180.8,917.6 1181.8,904.7 1182.7,896.5 1183.7,918.0 1184.7,905.1 1185.6,905.7 1186.6,889.8 1187.5,879.1 1188.5,899.3 1189.5,901.0 1190.4,907.0 1191.4,882.6 1192.4,875.1 1193.3,861.7 1194.3,885.3 1195.2,877.9 1196.2,885.8 1197.2,878.9 1198.1,894.1 1199.1,904.1 1200.0,876.9 1201.0,903.7 1202.0,890.6 1202.9,858.5 1203.9,894.5 1204.8,898.0 1205.8,889.7 1206.8,914.8 1207.7,899.1 1208.7,912.3 1209.7,920.3 1210.6,908.7 1211.6,913.1 1212.5,892.9 1213.5,883.7 1214.5,878.5 1215.4,901.0 1216.4,908.4 1217.3,899.4 1218.3,918.9 1219.3,902.8 1220.2,889.6 1221.2,872.8 1222.2,888.4 1223.1,906.8 1224.1,885.1 1225.0,907.1 1226.0,893.1 1227.0,896.9 1227.9,919.0 1228.9,909.3 1229.8,899.0 1230.8,889.2 1231.8,885.4 1232.7,912.7 1233.7,898.6 1234.7,905.8 1235.6,907.2 1236.6,888.5 1237.5,909.6 1238.5,886.2 1239.5,885.8 1240.4,913.6 1241.4,912.9 1242.3,914.6 1243.3,912.7 1244.3,900.1 1245.2,883.8 1246.2,838.2 1247.2,887.1 1248.1,880.8 1249.1,897.5 1250.0,898.9 1251.0,900.8 1252.0,884.5 1252.9,909.5 1253.9,908.7 1254.8,916.0 1255.8,901.8 1256.8,895.0 1257.7,887.0 1258.7,917.3 1259.6,914.7 1260.6,911.4 1261.6,899.8 1262.5,911.2 1263.5,895.3 1264.5,887.1 1265.4,891.4 1266.4,921.7 1267.3,921.7 1268.3,898.8 1269.3,900.3 1270.2,913.6 1271.2,919.6 1272.1,855.5 1273.1,902.8 1274.1,919.3 1275.0,912.0 1276.0,892.9 1277.0,880.0 1277.9,896.7 1278.9,914.1 1279.8,901.6 1280.8,914.5 1281.8,890.2 1282.7,887.2 1283.7,916.5 1284.6,910.5 1285.6,910.2 1286.6,922.0 1287.5,892.0 1288.5,897.9 1289.5,902.9 1290.4,894.3 1291.4,900.5 1292.3,908.6 1293.3,896.9 1294.3,906.0 1295.2,887.1 1296.2,908.4 1297.1,912.4 1298.1,884.1 1299.1,892.2 1300.0,902.6 1301.0,876.5 1301.9,890.1 1302.9,912.2 1303.9,912.4 1304.8,901.4 1305.8,852.1 1306.8,912.5 1307.7,906.0 1308.7,911.1 1309.6,905.9 1310.6,909.0 1311.6,897.9 1312.5,904.1 1313.5,887.5 1314.4,901.3 1315.4,890.5 1316.4,911.1 1317.3,919.7 1318.3,906.5 1319.3,913.0 1320.2,910.1 1321.2,913.5 1322.1,888.9 1323.1,890.9 1324.1,887.9 1325.0,907.9 1326.0,906.1 1326.9,909.5 1327.9,905.2 1328.9,858.4 1329.8,897.5 1330.8,908.4 1331.8,874.0 1332.7,870.4 1333.7,899.4 1334.6,908.6 1335.6,898.0 1336.6,899.5 1337.5,893.0 1338.5,898.3 1339.4,911.0 1340.4,909.6 1341.4,908.2 1342.3,903.3 1343.3,904.5 1344.2,922.9 1345.2,918.2 1346.2,888.5 1347.1,900.9 1348.1,870.4 1349.1,889.8 1350.0,911.8 1351.0,911.1 1351.9,895.9 1352.9,895.1 1353.9,883.4 1354.8,888.6 1355.8,880.5 1356.7,894.6 1357.7,913.9 1358.7,892.1 1359.6,879.2 1360.6,888.2 1361.6,913.1 1362.5,906.2 1363.5,886.9 1364.4,897.9 1365.4,903.9 1366.4,913.4 1367.3,892.6 1368.3,877.4 1369.2,897.2 1370.2,881.1 1371.2,887.7 1372.1,858.9 1373.1,878.4 1374.1,911.2 1375.0,914.1 1376.0,889.6 1376.9,853.9 1377.9,920.5 1378.9,888.9 1379.8,901.7 1380.8,913.3 1381.7,893.3 1382.7,912.5 1383.7,889.4 1384.6,857.8 1385.6,873.8 1386.5,893.2 1387.5,906.1 1388.5,910.4 1389.4,862.8 1390.4,878.5 1391.4,884.4 1392.3,896.5 1393.3,910.2 1394.2,894.1 1395.2,901.8 1396.2,893.1 1397.1,906.2 1398.1,907.2 1399.0,908.4 1400.0,919.4 1401.0,911.4 1401.9,891.9 1402.9,909.7 1403.9,907.5 1404.8,912.2 1405.8,884.0 1406.7,890.1 1407.7,919.8 1408.7,903.1 1409.6,876.1 1410.6,868.4 1411.5,859.6 1412.5,867.0 1413.5,869.4 1414.4,886.2 1415.4,895.0 1416.4,890.0 1417.3,866.1 1418.3,859.0 1419.2,881.1 1420.2,898.9 1421.2,872.5 1422.1,878.0 1423.1,899.7 1424.0,888.5 1425.0,889.7 1426.0,906.8 1426.9,909.9 1427.9,915.9 1428.8,889.8 1429.8,890.4 1430.8,880.7 1431.7,885.4 1432.7,891.3 1433.7,892.5 1434.6,897.1 1435.6,915.6 1436.5,907.9 1437.5,902.4 1438.5,907.2 1439.4,848.8 1440.4,902.5 1441.3,898.0 1442.3,898.4 1443.3,882.8 1444.2,868.7 1445.2,865.8 1446.2,885.1 1447.1,906.3 1448.1,896.7 1449.0,903.0 1450.0,908.5" fill="none" stroke="#1f77b4" stroke-opacity="0.35" stroke-width="2.4" stroke-linejoin="round"/>
<polyline points="778.0,893.7 779.0,891.1 779.9,896.0 780.9,868.5 781.8,882.8 782.8,853.9 783.8,887.5 784.7,882.5 785.7,896.3 786.7,886.9 787.6,903.1 788.6,915.5 789.5,912.6 790.5,891.7 791.5,905.6 792.4,921.2 793.4,918.6 794.3,901.3 795.3,889.6 796.3,890.8 797.2,890.9 798.2,884.7 799.2,870.7 800.1,875.6 801.1,902.6 802.0,877.3 803.0,873.6 804.0,903.0 804.9,917.2 805.9,914.6 806.8,880.7 807.8,877.9 808.8,917.5 809.7,908.3 810.7,895.9 811.6,903.7 812.6,889.0 813.6,917.8 814.5,906.2 815.5,900.0 816.5,891.6 817.4,903.4 818.4,887.5 819.3,908.9 820.3,896.6 821.3,904.0 822.2,894.1 823.2,869.7 824.1,896.2 825.1,907.5 826.1,902.5 827.0,914.2 828.0,912.0 829.0,890.5 829.9,853.3 830.9,892.0 831.8,887.4 832.8,925.1 833.8,926.6 834.7,913.5 835.7,891.2 836.6,895.1 837.6,898.6 838.6,911.1 839.5,903.6 840.5,904.3 841.5,885.6 842.4,870.2 843.4,880.9 844.3,919.6 845.3,908.6 846.3,890.1 847.2,897.2 848.2,872.8 849.1,898.9 850.1,917.4 851.1,893.7 852.0,904.8 853.0,913.1 853.9,908.4 854.9,915.1 855.9,909.8 856.8,912.0 857.8,909.4 858.8,888.0 859.7,907.3 860.7,896.0 861.6,887.1 862.6,898.2 863.6,913.6 864.5,896.5 865.5,881.8 866.4,897.6 867.4,904.5 868.4,905.1 869.3,898.3 870.3,894.9 871.3,899.8 872.2,886.4 873.2,884.1 874.1,895.4 875.1,876.1 876.1,874.3 877.0,860.3 878.0,887.0 878.9,867.5 879.9,886.3 880.9,897.3 881.8,897.2 882.8,917.9 883.8,896.3 884.7,886.5 885.7,870.1 886.6,904.5 887.6,881.2 888.6,891.9 889.5,898.6 890.5,888.6 891.4,895.6 892.4,911.3 893.4,910.5 894.3,920.8 895.3,916.6 896.2,909.5 897.2,908.0 898.2,907.2 899.1,922.6 900.1,910.4 901.1,893.3 902.0,901.1 903.0,910.5 903.9,890.1 904.9,907.2 905.9,889.9 906.8,908.7 907.8,914.7 908.7,915.3 909.7,891.4 910.7,875.6 911.6,908.0 912.6,892.7 913.6,881.0 914.5,913.4 915.5,910.8 916.4,913.6 917.4,884.8 918.4,904.1 919.3,922.2 920.3,921.5 921.2,902.6 922.2,913.2 923.2,891.1 924.1,889.5 925.1,880.8 926.1,847.7 927.0,892.4 928.0,904.5 928.9,904.5 929.9,906.7 930.9,893.6 931.8,901.4 932.8,871.7 933.7,905.4 934.7,901.5 935.7,892.4 936.6,901.4 937.6,867.6 938.5,882.7 939.5,836.4 940.5,876.0 941.4,884.7 942.4,906.9 943.4,915.5 944.3,918.2 945.3,909.7 946.2,904.8 947.2,883.6 948.2,839.8 949.1,917.5 950.1,896.2 951.0,877.1 952.0,885.5 953.0,892.5 953.9,866.9 954.9,887.2 955.9,895.9 956.8,882.5 957.8,872.9 958.7,896.9 959.7,876.9 960.7,894.1 961.6,884.3 962.6,885.6 963.5,911.6 964.5,897.0 965.5,903.8 966.4,907.1 967.4,909.4 968.4,903.4 969.3,911.2 970.3,912.6 971.2,861.1 972.2,890.4 973.2,896.3 974.1,909.6 975.1,879.9 976.0,886.4 977.0,900.1 978.0,912.0 978.9,909.2 979.9,883.4 980.8,900.8 981.8,910.0 982.8,913.1 983.7,894.3 984.7,879.4 985.7,884.3 986.6,881.1 987.6,906.7 988.5,897.3 989.5,918.5 990.5,903.9 991.4,922.7 992.4,926.9 993.3,919.2 994.3,912.5 995.3,899.4 996.2,912.0 997.2,884.8 998.2,915.0 999.1,901.4 1000.1,895.6 1001.0,903.2 1002.0,914.4 1003.0,900.9 1003.9,896.4 1004.9,910.0 1005.8,889.9 1006.8,856.7 1007.8,891.3 1008.7,873.1 1009.7,864.3 1010.7,879.7 1011.6,868.4 1012.6,867.0 1013.5,879.3 1014.5,872.0 1015.5,897.6 1016.4,912.3 1017.4,913.3 1018.3,909.5 1019.3,872.8 1020.3,917.3 1021.2,896.0 1022.2,908.3 1023.2,892.1 1024.1,874.6 1025.1,853.3 1026.0,890.5 1027.0,873.4 1028.0,890.7 1028.9,911.3 1029.9,906.3 1030.8,890.5 1031.8,897.0 1032.8,909.6 1033.7,884.2 1034.7,897.0 1035.6,912.8 1036.6,920.0 1037.6,916.6 1038.5,896.1 1039.5,897.2 1040.5,893.2 1041.4,903.2 1042.4,902.9 1043.3,880.2 1044.3,887.9 1045.3,856.6 1046.2,886.6 1047.2,907.8 1048.1,910.8 1049.1,918.9 1050.1,904.6 1051.0,888.2 1052.0,884.8 1053.0,882.5 1053.9,908.7 1054.9,906.5 1055.8,879.9 1056.8,881.1 1057.8,864.8 1058.7,872.8 1059.7,858.3 1060.6,888.8 1061.6,914.4 1062.6,920.5 1063.5,920.1 1064.5,912.5 1065.5,911.0 1066.4,895.5 1067.4,897.4 1068.3,888.8 1069.3,868.3 1070.3,882.2 1071.2,916.6 1072.2,900.7 1073.1,886.8 1074.1,872.2 1075.1,879.2 1076.0,882.1 1077.0,886.5 1077.9,876.1 1078.9,863.0 1079.9,908.8 1080.8,905.2 1081.8,893.0 1082.8,908.2 1083.7,891.0 1084.7,883.4 1085.6,881.1 1086.6,880.1 1087.6,888.8 1088.5,895.1 1089.5,894.5 1090.4,894.6 1091.4,891.2 1092.4,886.4 1093.3,900.6 1094.3,899.7 1095.3,897.6 1096.2,908.8 1097.2,901.8 1098.1,900.4 1099.1,911.4 1100.1,902.9 1101.0,900.2 1102.0,921.9 1102.9,914.4 1103.9,912.9 1104.9,919.7 1105.8,917.3 1106.8,894.4 1107.8,869.7 1108.7,887.7 1109.7,894.3 1110.6,848.8 1111.6,917.6 1112.6,848.1 1113.5,911.0 1114.5,895.4 1115.4,865.8 1116.4,890.7 1117.4,901.7 1118.3,884.2 1119.3,909.3 1120.2,868.7 1121.2,870.8 1122.2,880.0 1123.1,881.6 1124.1,881.7 1125.1,895.1 1126.0,893.9 1127.0,884.2 1127.9,882.2 1128.9,906.3 1129.9,908.2 1130.8,902.7 1131.8,910.6 1132.7,898.1 1133.7,912.4 1134.7,907.5 1135.6,898.2 1136.6,903.8 1137.6,895.4 1138.5,911.7 1139.5,901.9 1140.4,878.0 1141.4,875.5 1142.4,857.0 1143.3,902.6 1144.3,897.7 1145.2,896.8 1146.2,883.7 1147.2,878.1 1148.1,902.8 1149.1,895.0 1150.1,908.5 1151.0,910.0 1152.0,853.3 1152.9,905.8 1153.9,921.0 1154.9,896.5 1155.8,850.3 1156.8,905.2 1157.7,894.8 1158.7,894.4 1159.7,882.6 1160.6,899.0 1161.6,897.5 1162.5,902.2 1163.5,888.7 1164.5,911.0 1165.4,905.1 1166.4,888.0 1167.4,859.6 1168.3,862.4 1169.3,900.4 1170.2,907.9 1171.2,887.6 1172.2,903.2 1173.1,912.6 1174.1,897.0 1175.0,895.4 1176.0,900.4 1177.0,885.1 1177.9,913.3 1178.9,923.6 1179.9,896.0 1180.8,918.1 1181.8,914.7 1182.7,917.7 1183.7,911.5 1184.7,917.1 1185.6,909.6 1186.6,891.8 1187.5,890.9 1188.5,899.8 1189.5,911.1 1190.4,893.3 1191.4,923.3 1192.4,927.1 1193.3,918.8 1194.3,915.1 1195.2,891.2 1196.2,881.9 1197.2,914.4 1198.1,914.6 1199.1,923.3 1200.0,901.7 1201.0,912.8 1202.0,909.9 1202.9,906.9 1203.9,881.7 1204.8,881.4 1205.8,906.1 1206.8,899.5 1207.7,882.2 1208.7,910.5 1209.7,912.0 1210.6,874.7 1211.6,866.8 1212.5,878.0 1213.5,887.9 1214.5,889.9 1215.4,902.0 1216.4,919.2 1217.3,883.6 1218.3,890.4 1219.3,908.5 1220.2,889.9 1221.2,908.2 1222.2,879.4 1223.1,885.7 1224.1,849.4 1225.0,913.4 1226.0,903.5 1227.0,881.2 1227.9,881.3 1228.9,897.5 1229.8,895.9 1230.8,899.8 1231.8,894.0 1232.7,891.3 1233.7,903.2 1234.7,887.4 1235.6,883.1 1236.6,890.8 1237.5,894.9 1238.5,898.7 1239.5,902.9 1240.4,913.0 1241.4,914.4 1242.3,911.3 1243.3,878.7 1244.3,907.9 1245.2,911.7 1246.2,903.0 1247.2,889.7 1248.1,896.9 1249.1,908.1 1250.0,917.8 1251.0,912.5 1252.0,897.5 1252.9,894.4 1253.9,889.6 1254.8,887.8 1255.8,883.6 1256.8,892.2 1257.7,915.9 1258.7,889.9 1259.6,874.0 1260.6,882.0 1261.6,918.3 1262.5,920.1 1263.5,885.1 1264.5,866.7 1265.4,892.9 1266.4,892.8 1267.3,909.9 1268.3,892.6 1269.3,898.9 1270.2,910.4 1271.2,923.1 1272.1,901.0 1273.1,910.7 1274.1,902.8 1275.0,873.9 1276.0,884.7 1277.0,863.4 1277.9,857.0 1278.9,865.7 1279.8,868.6 1280.8,879.7 1281.8,890.7 1282.7,915.6 1283.7,887.5 1284.6,897.9 1285.6,902.7 1286.6,886.9 1287.5,912.8 1288.5,907.0 1289.5,891.2 1290.4,914.0 1291.4,905.2 1292.3,909.9 1293.3,911.3 1294.3,912.4 1295.2,923.4 1296.2,852.6 1297.1,902.9 1298.1,911.9 1299.1,914.7 1300.0,919.1 1301.0,912.0 1301.9,907.2 1302.9,885.8 1303.9,865.6 1304.8,884.6 1305.8,885.2 1306.8,911.6 1307.7,926.1 1308.7,915.4 1309.6,909.0 1310.6,907.8 1311.6,915.9 1312.5,917.8 1313.5,918.6 1314.4,904.1 1315.4,908.4 1316.4,899.8 1317.3,895.9 1318.3,877.7 1319.3,898.8 1320.2,917.0 1321.2,922.5 1322.1,915.1 1323.1,912.1 1324.1,895.7 1325.0,879.1 1326.0,907.0 1326.9,908.2 1327.9,892.0 1328.9,893.6 1329.8,865.7 1330.8,886.1 1331.8,881.5 1332.7,915.0 1333.7,916.4 1334.6,890.2 1335.6,869.3 1336.6,883.3 1337.5,913.2 1338.5,902.9 1339.4,891.2 1340.4,892.8 1341.4,899.4 1342.3,902.2 1343.3,906.8 1344.2,897.4 1345.2,903.7 1346.2,887.6 1347.1,887.2 1348.1,903.1 1349.1,907.7 1350.0,902.5 1351.0,858.9 1351.9,897.5 1352.9,888.3 1353.9,888.8 1354.8,900.0 1355.8,907.2 1356.7,891.6 1357.7,887.4 1358.7,895.1 1359.6,895.9 1360.6,917.1 1361.6,917.0 1362.5,914.6 1363.5,891.9 1364.4,900.9 1365.4,902.3 1366.4,925.6 1367.3,919.2 1368.3,911.3 1369.2,907.2 1370.2,904.3 1371.2,917.1 1372.1,909.9 1373.1,907.6 1374.1,863.9 1375.0,869.6 1376.0,894.3 1376.9,889.9 1377.9,895.3 1378.9,904.6 1379.8,903.2 1380.8,891.6 1381.7,890.2 1382.7,877.0 1383.7,911.3 1384.6,903.9 1385.6,884.4 1386.5,914.6 1387.5,918.3 1388.5,892.3 1389.4,901.7 1390.4,889.1 1391.4,899.9 1392.3,896.4 1393.3,898.6 1394.2,903.3 1395.2,900.8 1396.2,909.9 1397.1,911.6 1398.1,894.8 1399.0,901.7 1400.0,887.0 1401.0,909.7 1401.9,880.6 1402.9,916.7 1403.9,886.3 1404.8,895.6 1405.8,893.5 1406.7,900.2 1407.7,914.6 1408.7,911.3 1409.6,892.7 1410.6,897.8 1411.5,874.1 1412.5,843.6 1413.5,900.2 1414.4,882.0 1415.4,893.0 1416.4,893.2 1417.3,881.5 1418.3,872.2 1419.2,858.7 1420.2,871.7 1421.2,897.0 1422.1,836.0 1423.1,909.9 1424.0,917.1 1425.0,882.7 1426.0,892.9 1426.9,902.2 1427.9,911.6 1428.8,891.9 1429.8,842.0 1430.8,916.8 1431.7,891.0 1432.7,888.6 1433.7,865.8 1434.6,885.1 1435.6,868.1 1436.5,888.6 1437.5,895.2 1438.5,897.0 1439.4,920.6 1440.4,900.0 1441.3,891.3 1442.3,908.6 1443.3,903.8 1444.2,906.3 1445.2,919.5 1446.2,899.5 1447.1,906.4 1448.1,911.2 1449.0,913.6 1450.0,915.1" fill="none" stroke="#ff7f0e" stroke-opacity="0.35" stroke-width="2.4" stroke-linejoin="round"/>
</g>
<rect x="778" y="799" width="672" height="142" fill="none" stroke="#1a1a1a" stroke-width="2"/>
<line x1="778.00" y1="941" x2="778.00" y2="947.6" stroke="#1a1a1a" stroke-width="2"/>
<text x="778.00" y="969.40" font-size="20.3" text-anchor="middle" textLength="12.09" lengthAdjust="spacingAndGlyphs">0</text>
<line x1="874.14" y1="941" x2="874.14" y2="947.6" stroke="#1a1a1a" stroke-width="2"/>
<text x="874.14" y="969.40" font-size="20.3" text-anchor="middle" textLength="36.27" lengthAdjust="spacingAndGlyphs">100</text>
<line x1="970.27" y1="941" x2="970.27" y2="947.6" stroke="#1a1a1a" stroke-width="2"/>
<text x="970.27" y="969.40" font-size="20.3" text-anchor="middle" textLength="36.27" lengthAdjust="spacingAndGlyphs">200</text>
<line x1="1066.41" y1="941" x2="1066.41" y2="947.6" stroke="#1a1a1a" stroke-width="2"/>
<text x="1066.41" y="969.40" font-size="20.3" text-anchor="middle" textLength="36.27" lengthAdjust="spacingAndGlyphs">300</text>
<line x1="1162.55" y1="941" x2="1162.55" y2="947.6" stroke="#1a1a1a" stroke-width="2"/>
<text x="1162.55" y="969.40" font-size="20.3" text-anchor="middle" textLength="36.27" lengthAdjust="spacingAndGlyphs">400</text>
<line x1="1258.69" y1="941" x2="1258.69" y2="947.6" stroke="#1a1a1a" stroke-width="2"/>
<text x="1258.69" y="969.40" font-size="20.3" text-anchor="middle" textLength="36.27" lengthAdjust="spacingAndGlyphs">500</text>
<line x1="1354.82" y1="941" x2="1354.82" y2="947.6" stroke="#1a1a1a" stroke-width="2"/>
<text x="1354.82" y="969.40" font-size="20.3" text-anchor="middle" textLength="36.27" lengthAdjust="spacingAndGlyphs">600</text>
<line x1="771" y1="930.00" x2="778" y2="930.00" stroke="#1a1a1a" stroke-width="2"/>
<text x="763.80" y="938.30" font-size="20.3" text-anchor="end" textLength="12.09" lengthAdjust="spacingAndGlyphs">0</text>
<line x1="771" y1="874.44" x2="778" y2="874.44" stroke="#1a1a1a" stroke-width="2"/>
<text x="763.80" y="882.74" font-size="20.3" text-anchor="end" textLength="12.09" lengthAdjust="spacingAndGlyphs">2</text>
<line x1="771" y1="818.88" x2="778" y2="818.88" stroke="#1a1a1a" stroke-width="2"/>
<text x="763.80" y="827.18" font-size="20.3" text-anchor="end" textLength="12.09" lengthAdjust="spacingAndGlyphs">4</text>
<text x="371.50" y="1004.20" font-size="24.3" text-anchor="middle" textLength="62.49" lengthAdjust="spacingAndGlyphs">roi_m</text>
<text x="371.50" y="1031.00" font-size="24.3" text-anchor="middle" textLength="118.99" lengthAdjust="spacingAndGlyphs">Channel_4</text>
<text x="1114.00" y="1004.20" font-size="24.3" text-anchor="middle" textLength="62.49" lengthAdjust="spacingAndGlyphs">roi_m</text>
<text x="1114.00" y="1031.00" font-size="24.3" text-anchor="middle" textLength="118.99" lengthAdjust="spacingAndGlyphs">Channel_4</text>
<clipPath id="cl4"><rect x="35" y="1039" width="673" height="142"/></clipPath>
<g clip-path="url(#cl4)">
<line x1="135.40" y1="1144.50" x2="135.40" y2="1191" stroke="#000" stroke-opacity="0.37" stroke-width="2.8"/>
<line x1="150.20" y1="1144.50" x2="150.20" y2="1191" stroke="#000" stroke-opacity="0.37" stroke-width="2.8"/>
<line x1="191.50" y1="1144.50" x2="191.50" y2="1191" stroke="#000" stroke-opacity="0.37" stroke-width="2.8"/>
<line x1="235.30" y1="1144.50" x2="235.30" y2="1191" stroke="#000" stroke-opacity="0.37" stroke-width="2.8"/>
<line x1="259.10" y1="1144.50" x2="259.10" y2="1191" stroke="#000" stroke-opacity="0.37" stroke-width="2.8"/>
<line x1="275.30" y1="1144.50" x2="275.30" y2="1191" stroke="#000" stroke-opacity="0.37" stroke-width="2.8"/>
<line x1="306.30" y1="1144.50" x2="306.30" y2="1191" stroke="#000" stroke-opacity="0.37" stroke-width="2.8"/>
<line x1="337.50" y1="1144.50" x2="337.50" y2="1191" stroke="#000" stroke-opacity="0.37" stroke-width="2.8"/>
<line x1="347.20" y1="1144.50" x2="347.20" y2="1191" stroke="#000" stroke-opacity="0.37" stroke-width="2.8"/>
<line x1="352.30" y1="1144.50" x2="352.30" y2="1191" stroke="#000" stroke-opacity="0.37" stroke-width="2.8"/>
<line x1="437.40" y1="1144.50" x2="437.40" y2="1191" stroke="#000" stroke-opacity="0.37" stroke-width="2.8"/>
<line x1="440.70" y1="1144.50" x2="440.70" y2="1191" stroke="#000" stroke-opacity="0.37" stroke-width="2.8"/>
<line x1="568.30" y1="1144.50" x2="568.30" y2="1191" stroke="#000" stroke-opacity="0.37" stroke-width="2.8"/>
<path d="M64.9,1142.25 L65.9,1142.10 L66.9,1141.92 L67.9,1141.71 L68.9,1141.46 L69.9,1141.18 L70.9,1140.87 L71.9,1140.52 L72.9,1140.13 L73.9,1139.69 L74.9,1139.22 L75.9,1138.71 L76.9,1138.15 L77.9,1137.54 L78.9,1136.88 L79.9,1136.17 L80.9,1135.41 L81.9,1134.59 L82.9,1133.72 L83.9,1132.79 L84.9,1131.80 L85.9,1130.76 L86.9,1129.66 L87.9,1128.52 L88.9,1127.33 L89.9,1126.09 L90.9,1124.83 L91.9,1123.53 L92.9,1122.21 L93.9,1120.87 L94.9,1119.52 L95.9,1118.16 L96.9,1116.80 L97.9,1115.44 L98.9,1114.09 L99.9,1112.74 L100.9,1111.41 L101.9,1110.09 L102.9,1108.78 L103.9,1107.48 L104.9,1106.19 L105.9,1104.92 L106.9,1103.65 L107.9,1102.40 L108.9,1101.15 L109.9,1099.91 L110.9,1098.68 L111.9,1097.46 L112.9,1096.24 L113.9,1095.03 L114.9,1093.82 L115.9,1092.63 L116.9,1091.44 L117.9,1090.25 L118.9,1089.08 L119.9,1087.91 L120.9,1086.75 L121.9,1085.60 L122.9,1084.46 L123.9,1083.32 L124.9,1082.20 L125.9,1081.07 L126.9,1079.96 L127.9,1078.85 L128.9,1077.75 L129.9,1076.66 L130.9,1075.58 L131.9,1074.50 L132.9,1073.44 L133.9,1072.39 L134.9,1071.35 L135.9,1070.33 L136.9,1069.32 L137.9,1068.33 L138.9,1067.36 L139.9,1066.41 L140.9,1065.49 L141.9,1064.58 L142.9,1063.69 L143.9,1062.83 L144.9,1061.99 L145.9,1061.17 L146.9,1060.38 L147.9,1059.60 L148.9,1058.84 L149.9,1058.11 L150.9,1057.39 L151.9,1056.69 L152.9,1056.00 L153.9,1055.34 L154.9,1054.69 L155.9,1054.06 L156.9,1053.46 L157.9,1052.87 L158.9,1052.30 L159.9,1051.76 L160.9,1051.25 L161.9,1050.75 L162.9,1050.29 L163.9,1049.85 L164.9,1049.44 L165.9,1049.05 L166.9,1048.69 L167.9,1048.36 L168.9,1048.04 L169.9,1047.76 L170.9,1047.49 L171.9,1047.24 L172.9,1047.02 L173.9,1046.80 L174.9,1046.60 L175.9,1046.42 L176.9,1046.25 L177.9,1046.09 L178.9,1045.94 L179.9,1045.79 L180.9,1045.66 L181.9,1045.54 L182.9,1045.43 L183.9,1045.33 L184.9,1045.24 L185.9,1045.16 L186.9,1045.08 L187.9,1045.02 L188.9,1044.97 L189.9,1044.93 L190.9,1044.89 L191.9,1044.87 L192.9,1044.85 L193.9,1044.84 L194.9,1044.84 L195.9,1044.85 L196.9,1044.86 L197.9,1044.88 L198.9,1044.90 L199.9,1044.93 L200.9,1044.97 L201.9,1045.01 L202.9,1045.06 L203.9,1045.11 L204.9,1045.16 L205.9,1045.22 L206.9,1045.29 L207.9,1045.36 L208.9,1045.44 L209.9,1045.53 L210.9,1045.62 L211.9,1045.73 L212.9,1045.84 L213.9,1045.97 L214.9,1046.11 L215.9,1046.26 L216.9,1046.43 L217.9,1046.62 L218.9,1046.82 L219.9,1047.04 L220.9,1047.28 L221.9,1047.54 L222.9,1047.81 L223.9,1048.10 L224.9,1048.41 L225.9,1048.74 L226.9,1049.07 L227.9,1049.43 L228.9,1049.79 L229.9,1050.17 L230.9,1050.56 L231.9,1050.96 L232.9,1051.38 L233.9,1051.80 L234.9,1052.23 L235.9,1052.68 L236.9,1053.14 L237.9,1053.61 L238.9,1054.10 L239.9,1054.60 L240.9,1055.11 L241.9,1055.64 L242.9,1056.18 L243.9,1056.73 L244.9,1057.30 L245.9,1057.87 L246.9,1058.46 L247.9,1059.06 L248.9,1059.67 L249.9,1060.28 L250.9,1060.90 L251.9,1061.52 L252.9,1062.15 L253.9,1062.77 L254.9,1063.40 L255.9,1064.03 L256.9,1064.66 L257.9,1065.28 L258.9,1065.91 L259.9,1066.53 L260.9,1067.15 L261.9,1067.77 L262.9,1068.38 L263.9,1069.00 L264.9,1069.61 L265.9,1070.23 L266.9,1070.84 L267.9,1071.45 L268.9,1072.06 L269.9,1072.66 L270.9,1073.27 L271.9,1073.87 L272.9,1074.48 L273.9,1075.07 L274.9,1075.67 L275.9,1076.26 L276.9,1076.86 L277.9,1077.44 L278.9,1078.02 L279.9,1078.60 L280.9,1079.18 L281.9,1079.74 L282.9,1080.31 L283.9,1080.87 L284.9,1081.42 L285.9,1081.97 L286.9,1082.52 L287.9,1083.06 L288.9,1083.60 L289.9,1084.13 L290.9,1084.66 L291.9,1085.19 L292.9,1085.72 L293.9,1086.24 L294.9,1086.76 L295.9,1087.28 L296.9,1087.80 L297.9,1088.32 L298.9,1088.84 L299.9,1089.36 L300.9,1089.88 L301.9,1090.40 L302.9,1090.93 L303.9,1091.46 L304.9,1091.99 L305.9,1092.52 L306.9,1093.06 L307.9,1093.61 L308.9,1094.16 L309.9,1094.71 L310.9,1095.27 L311.9,1095.84 L312.9,1096.42 L313.9,1097.00 L314.9,1097.59 L315.9,1098.19 L316.9,1098.80 L317.9,1099.42 L318.9,1100.05 L319.9,1100.68 L320.9,1101.32 L321.9,1101.97 L322.9,1102.63 L323.9,1103.30 L324.9,1103.97 L325.9,1104.64 L326.9,1105.33 L327.9,1106.01 L328.9,1106.70 L329.9,1107.39 L330.9,1108.08 L331.9,1108.78 L332.9,1109.47 L333.9,1110.16 L334.9,1110.85 L335.9,1111.54 L336.9,1112.22 L337.9,1112.90 L338.9,1113.57 L339.9,1114.23 L340.9,1114.89 L341.9,1115.54 L342.9,1116.18 L343.9,1116.82 L344.9,1117.44 L345.9,1118.06 L346.9,1118.66 L347.9,1119.26 L348.9,1119.85 L349.9,1120.43 L350.9,1121.00 L351.9,1121.56 L352.9,1122.11 L353.9,1122.66 L354.9,1123.20 L355.9,1123.72 L356.9,1124.25 L357.9,1124.76 L358.9,1125.26 L359.9,1125.76 L360.9,1126.24 L361.9,1126.72 L362.9,1127.19 L363.9,1127.64 L364.9,1128.09 L365.9,1128.53 L366.9,1128.95 L367.9,1129.37 L368.9,1129.77 L369.9,1130.16 L370.9,1130.55 L371.9,1130.92 L372.9,1131.29 L373.9,1131.64 L374.9,1131.99 L375.9,1132.33 L376.9,1132.66 L377.9,1132.99 L378.9,1133.30 L379.9,1133.62 L380.9,1133.92 L381.9,1134.22 L382.9,1134.52 L383.9,1134.81 L384.9,1135.09 L385.9,1135.38 L386.9,1135.66 L387.9,1135.93 L388.9,1136.20 L389.9,1136.47 L390.9,1136.74 L391.9,1137.00 L392.9,1137.26 L393.9,1137.52 L394.9,1137.78 L395.9,1138.04 L396.9,1138.29 L397.9,1138.54 L398.9,1138.79 L399.9,1139.03 L400.9,1139.28 L401.9,1139.52 L402.9,1139.76 L403.9,1139.99 L404.9,1140.23 L405.9,1140.46 L406.9,1140.70 L407.9,1140.93 L408.9,1141.16 L409.9,1141.38 L410.9,1141.61 L411.9,1141.83 L412.9,1142.06 L413.9,1142.28 L414.9,1142.50 L415.9,1142.72 L416.9,1142.94 L417.9,1143.16 L418.9,1143.37 L419.9,1143.59 L420.9,1143.80 L421.9,1144.02 L422.9,1144.23 L423.9,1144.45 L424.9,1144.66 L425.9,1144.87 L426.9,1145.08 L427.9,1145.30 L428.9,1145.51 L429.9,1145.72 L430.9,1145.93 L431.9,1146.14 L432.9,1146.36 L433.9,1146.57 L434.9,1146.78 L435.9,1146.99 L436.9,1147.21 L437.9,1147.42 L438.9,1147.64 L439.9,1147.85 L440.9,1148.07 L441.9,1148.29 L442.9,1148.51 L443.9,1148.73 L444.9,1148.94 L445.9,1149.16 L446.9,1149.38 L447.9,1149.61 L448.9,1149.83 L449.9,1150.05 L450.9,1150.27 L451.9,1150.49 L452.9,1150.71 L453.9,1150.93 L454.9,1151.14 L455.9,1151.36 L456.9,1151.58 L457.9,1151.79 L458.9,1152.01 L459.9,1152.22 L460.9,1152.43 L461.9,1152.64 L462.9,1152.84 L463.9,1153.05 L464.9,1153.25 L465.9,1153.45 L466.9,1153.65 L467.9,1153.84 L468.9,1154.03 L469.9,1154.22 L470.9,1154.40 L471.9,1154.58 L472.9,1154.76 L473.9,1154.93 L474.9,1155.10 L475.9,1155.27 L476.9,1155.43 L477.9,1155.58 L478.9,1155.74 L479.9,1155.89 L480.9,1156.03 L481.9,1156.18 L482.9,1156.31 L483.9,1156.45 L484.9,1156.58 L485.9,1156.71 L486.9,1156.83 L487.9,1156.96 L488.9,1157.08 L489.9,1157.19 L490.9,1157.31 L491.9,1157.42 L492.9,1157.53 L493.9,1157.64 L494.9,1157.74 L495.9,1157.85 L496.9,1157.95 L497.9,1158.05 L498.9,1158.15 L499.9,1158.25 L500.9,1158.35 L501.9,1158.44 L502.9,1158.54 L503.9,1158.63 L504.9,1158.73 L505.9,1158.82 L506.9,1158.91 L507.9,1159.00 L508.9,1159.09 L509.9,1159.19 L510.9,1159.28 L511.9,1159.37 L512.9,1159.46 L513.9,1159.55 L514.9,1159.64 L515.9,1159.73 L516.9,1159.83 L517.9,1159.92 L518.9,1160.01 L519.9,1160.11 L520.9,1160.21 L521.9,1160.30 L522.9,1160.40 L523.9,1160.50 L524.9,1160.61 L525.9,1160.71 L526.9,1160.82 L527.9,1160.93 L528.9,1161.04 L529.9,1161.15 L530.9,1161.27 L531.9,1161.39 L532.9,1161.51 L533.9,1161.64 L534.9,1161.76 L535.9,1161.89 L536.9,1162.02 L537.9,1162.15 L538.9,1162.28 L539.9,1162.41 L540.9,1162.55 L541.9,1162.68 L542.9,1162.81 L543.9,1162.94 L544.9,1163.07 L545.9,1163.19 L546.9,1163.31 L547.9,1163.44 L548.9,1163.55 L549.9,1163.67 L550.9,1163.77 L551.9,1163.88 L552.9,1163.98 L553.9,1164.07 L554.9,1164.16 L555.9,1164.24 L556.9,1164.32 L557.9,1164.39 L558.9,1164.45 L559.9,1164.51 L560.9,1164.56 L561.9,1164.60 L562.9,1164.64 L563.9,1164.67 L564.9,1164.70 L565.9,1164.72 L566.9,1164.74 L567.9,1164.75 L568.9,1164.77 L569.9,1164.77 L570.9,1164.78 L571.9,1164.78 L572.9,1164.78 L573.9,1164.78 L574.9,1164.78 L575.9,1164.78 L576.9,1164.78 L577.9,1164.78 L578.9,1164.77 L579.9,1164.77 L580.9,1164.76 L581.9,1164.76 L582.9,1164.75 L583.9,1164.74 L584.9,1164.74 L585.9,1164.73 L586.9,1164.72 L587.9,1164.71 L588.9,1164.70 L589.9,1164.68 L590.9,1164.67 L591.9,1164.66 L592.9,1164.64 L593.9,1164.62 L594.9,1164.61 L595.9,1164.59 L596.9,1164.57 L597.9,1164.55 L598.9,1164.53 L599.9,1164.50 L600.9,1164.48 L601.9,1164.45 L602.9,1164.43 L603.9,1164.40 L604.9,1164.37 L605.9,1164.35 L606.9,1164.32 L607.9,1164.29 L608.9,1164.27 L609.9,1164.24 L610.9,1164.22 L611.9,1164.20 L612.5,1164.18" fill="none" stroke="#1f77b4" stroke-width="2.4" stroke-linecap="butt"/>
<path d="M64.9,1141.03 L65.9,1140.98 L66.9,1140.92 L67.9,1140.85 L68.9,1140.76 L69.9,1140.67 L70.9,1140.56 L71.9,1140.44 L72.9,1140.31 L73.9,1140.16 L74.9,1140.00 L75.9,1139.82 L76.9,1139.64 L77.9,1139.44 L78.9,1139.23 L79.9,1139.01 L80.9,1138.78 L81.9,1138.54 L82.9,1138.28 L83.9,1138.02 L84.9,1137.74 L85.9,1137.46 L86.9,1137.16 L87.9,1136.85 L88.9,1136.52 L89.9,1136.18 L90.9,1135.82 L91.9,1135.44 L92.9,1135.04 L93.9,1134.62 L94.9,1134.18 L95.9,1133.72 L96.9,1133.23 L97.9,1132.73 L98.9,1132.20 L99.9,1131.64 L100.9,1131.07 L101.9,1130.47 L102.9,1129.86 L103.9,1129.23 L104.9,1128.58 L105.9,1127.92 L106.9,1127.24 L107.9,1126.55 L108.9,1125.84 L109.9,1125.13 L110.9,1124.40 L111.9,1123.66 L112.9,1122.90 L113.9,1122.13 L114.9,1121.35 L115.9,1120.56 L116.9,1119.75 L117.9,1118.93 L118.9,1118.09 L119.9,1117.24 L120.9,1116.38 L121.9,1115.51 L122.9,1114.62 L123.9,1113.72 L124.9,1112.82 L125.9,1111.91 L126.9,1110.99 L127.9,1110.06 L128.9,1109.13 L129.9,1108.20 L130.9,1107.27 L131.9,1106.34 L132.9,1105.40 L133.9,1104.47 L134.9,1103.53 L135.9,1102.60 L136.9,1101.66 L137.9,1100.73 L138.9,1099.79 L139.9,1098.86 L140.9,1097.93 L141.9,1097.00 L142.9,1096.07 L143.9,1095.14 L144.9,1094.21 L145.9,1093.29 L146.9,1092.38 L147.9,1091.46 L148.9,1090.56 L149.9,1089.67 L150.9,1088.78 L151.9,1087.90 L152.9,1087.04 L153.9,1086.18 L154.9,1085.34 L155.9,1084.51 L156.9,1083.69 L157.9,1082.88 L158.9,1082.08 L159.9,1081.29 L160.9,1080.52 L161.9,1079.75 L162.9,1079.00 L163.9,1078.25 L164.9,1077.52 L165.9,1076.80 L166.9,1076.09 L167.9,1075.40 L168.9,1074.72 L169.9,1074.05 L170.9,1073.40 L171.9,1072.77 L172.9,1072.16 L173.9,1071.57 L174.9,1071.00 L175.9,1070.44 L176.9,1069.91 L177.9,1069.40 L178.9,1068.91 L179.9,1068.44 L180.9,1068.00 L181.9,1067.56 L182.9,1067.15 L183.9,1066.75 L184.9,1066.37 L185.9,1066.01 L186.9,1065.65 L187.9,1065.32 L188.9,1064.99 L189.9,1064.68 L190.9,1064.38 L191.9,1064.09 L192.9,1063.81 L193.9,1063.55 L194.9,1063.30 L195.9,1063.07 L196.9,1062.84 L197.9,1062.63 L198.9,1062.43 L199.9,1062.25 L200.9,1062.07 L201.9,1061.91 L202.9,1061.76 L203.9,1061.62 L204.9,1061.48 L205.9,1061.36 L206.9,1061.24 L207.9,1061.13 L208.9,1061.03 L209.9,1060.93 L210.9,1060.84 L211.9,1060.75 L212.9,1060.67 L213.9,1060.59 L214.9,1060.51 L215.9,1060.44 L216.9,1060.37 L217.9,1060.30 L218.9,1060.23 L219.9,1060.17 L220.9,1060.11 L221.9,1060.05 L222.9,1059.99 L223.9,1059.93 L224.9,1059.88 L225.9,1059.83 L226.9,1059.77 L227.9,1059.72 L228.9,1059.67 L229.9,1059.63 L230.9,1059.58 L231.9,1059.53 L232.9,1059.49 L233.9,1059.44 L234.9,1059.40 L235.9,1059.36 L236.9,1059.31 L237.9,1059.27 L238.9,1059.23 L239.9,1059.19 L240.9,1059.14 L241.9,1059.10 L242.9,1059.06 L243.9,1059.03 L244.9,1058.99 L245.9,1058.95 L246.9,1058.92 L247.9,1058.89 L248.9,1058.86 L249.9,1058.83 L250.9,1058.80 L251.9,1058.79 L252.9,1058.77 L253.9,1058.76 L254.9,1058.76 L255.9,1058.77 L256.9,1058.79 L257.9,1058.82 L258.9,1058.86 L259.9,1058.92 L260.9,1058.99 L261.9,1059.08 L262.9,1059.19 L263.9,1059.32 L264.9,1059.46 L265.9,1059.63 L266.9,1059.81 L267.9,1060.01 L268.9,1060.23 L269.9,1060.47 L270.9,1060.72 L271.9,1060.99 L272.9,1061.28 L273.9,1061.58 L274.9,1061.89 L275.9,1062.22 L276.9,1062.56 L277.9,1062.91 L278.9,1063.27 L279.9,1063.65 L280.9,1064.05 L281.9,1064.46 L282.9,1064.88 L283.9,1065.33 L284.9,1065.79 L285.9,1066.27 L286.9,1066.77 L287.9,1067.28 L288.9,1067.82 L289.9,1068.37 L290.9,1068.94 L291.9,1069.52 L292.9,1070.13 L293.9,1070.74 L294.9,1071.37 L295.9,1072.00 L296.9,1072.65 L297.9,1073.31 L298.9,1073.97 L299.9,1074.64 L300.9,1075.32 L301.9,1076.00 L302.9,1076.69 L303.9,1077.38 L304.9,1078.08 L305.9,1078.79 L306.9,1079.50 L307.9,1080.22 L308.9,1080.95 L309.9,1081.68 L310.9,1082.42 L311.9,1083.17 L312.9,1083.93 L313.9,1084.69 L314.9,1085.46 L315.9,1086.23 L316.9,1087.01 L317.9,1087.79 L318.9,1088.56 L319.9,1089.34 L320.9,1090.12 L321.9,1090.90 L322.9,1091.67 L323.9,1092.43 L324.9,1093.19 L325.9,1093.94 L326.9,1094.68 L327.9,1095.41 L328.9,1096.13 L329.9,1096.83 L330.9,1097.53 L331.9,1098.21 L332.9,1098.87 L333.9,1099.52 L334.9,1100.15 L335.9,1100.77 L336.9,1101.38 L337.9,1101.97 L338.9,1102.55 L339.9,1103.11 L340.9,1103.67 L341.9,1104.21 L342.9,1104.74 L343.9,1105.26 L344.9,1105.78 L345.9,1106.28 L346.9,1106.78 L347.9,1107.27 L348.9,1107.75 L349.9,1108.23 L350.9,1108.70 L351.9,1109.16 L352.9,1109.62 L353.9,1110.07 L354.9,1110.51 L355.9,1110.95 L356.9,1111.38 L357.9,1111.80 L358.9,1112.22 L359.9,1112.63 L360.9,1113.03 L361.9,1113.43 L362.9,1113.82 L363.9,1114.20 L364.9,1114.58 L365.9,1114.94 L366.9,1115.30 L367.9,1115.66 L368.9,1116.00 L369.9,1116.34 L370.9,1116.67 L371.9,1116.99 L372.9,1117.31 L373.9,1117.62 L374.9,1117.91 L375.9,1118.20 L376.9,1118.49 L377.9,1118.76 L378.9,1119.03 L379.9,1119.29 L380.9,1119.54 L381.9,1119.79 L382.9,1120.03 L383.9,1120.27 L384.9,1120.50 L385.9,1120.73 L386.9,1120.95 L387.9,1121.17 L388.9,1121.39 L389.9,1121.61 L390.9,1121.83 L391.9,1122.05 L392.9,1122.27 L393.9,1122.50 L394.9,1122.73 L395.9,1122.96 L396.9,1123.19 L397.9,1123.44 L398.9,1123.68 L399.9,1123.94 L400.9,1124.20 L401.9,1124.47 L402.9,1124.74 L403.9,1125.03 L404.9,1125.32 L405.9,1125.62 L406.9,1125.93 L407.9,1126.25 L408.9,1126.58 L409.9,1126.91 L410.9,1127.25 L411.9,1127.60 L412.9,1127.96 L413.9,1128.32 L414.9,1128.68 L415.9,1129.06 L416.9,1129.43 L417.9,1129.81 L418.9,1130.19 L419.9,1130.58 L420.9,1130.96 L421.9,1131.35 L422.9,1131.74 L423.9,1132.13 L424.9,1132.52 L425.9,1132.90 L426.9,1133.29 L427.9,1133.67 L428.9,1134.05 L429.9,1134.43 L430.9,1134.80 L431.9,1135.17 L432.9,1135.53 L433.9,1135.89 L434.9,1136.25 L435.9,1136.61 L436.9,1136.95 L437.9,1137.30 L438.9,1137.64 L439.9,1137.98 L440.9,1138.32 L441.9,1138.65 L442.9,1138.98 L443.9,1139.31 L444.9,1139.63 L445.9,1139.95 L446.9,1140.28 L447.9,1140.60 L448.9,1140.91 L449.9,1141.23 L450.9,1141.54 L451.9,1141.85 L452.9,1142.16 L453.9,1142.47 L454.9,1142.77 L455.9,1143.07 L456.9,1143.37 L457.9,1143.66 L458.9,1143.96 L459.9,1144.25 L460.9,1144.53 L461.9,1144.81 L462.9,1145.09 L463.9,1145.37 L464.9,1145.64 L465.9,1145.91 L466.9,1146.18 L467.9,1146.45 L468.9,1146.71 L469.9,1146.97 L470.9,1147.23 L471.9,1147.49 L472.9,1147.75 L473.9,1148.01 L474.9,1148.26 L475.9,1148.52 L476.9,1148.78 L477.9,1149.04 L478.9,1149.29 L479.9,1149.55 L480.9,1149.81 L481.9,1150.07 L482.9,1150.32 L483.9,1150.58 L484.9,1150.83 L485.9,1151.08 L486.9,1151.34 L487.9,1151.58 L488.9,1151.83 L489.9,1152.07 L490.9,1152.31 L491.9,1152.55 L492.9,1152.78 L493.9,1153.01 L494.9,1153.23 L495.9,1153.45 L496.9,1153.66 L497.9,1153.86 L498.9,1154.06 L499.9,1154.25 L500.9,1154.44 L501.9,1154.61 L502.9,1154.78 L503.9,1154.94 L504.9,1155.09 L505.9,1155.24 L506.9,1155.37 L507.9,1155.50 L508.9,1155.61 L509.9,1155.72 L510.9,1155.81 L511.9,1155.90 L512.9,1155.98 L513.9,1156.05 L514.9,1156.12 L515.9,1156.17 L516.9,1156.22 L517.9,1156.26 L518.9,1156.30 L519.9,1156.34 L520.9,1156.37 L521.9,1156.39 L522.9,1156.42 L523.9,1156.44 L524.9,1156.46 L525.9,1156.47 L526.9,1156.49 L527.9,1156.50 L528.9,1156.52 L529.9,1156.53 L530.9,1156.54 L531.9,1156.55 L532.9,1156.56 L533.9,1156.57 L534.9,1156.58 L535.9,1156.59 L536.9,1156.60 L537.9,1156.61 L538.9,1156.62 L539.9,1156.63 L540.9,1156.64 L541.9,1156.64 L542.9,1156.65 L543.9,1156.66 L544.9,1156.67 L545.9,1156.68 L546.9,1156.69 L547.9,1156.70 L548.9,1156.70 L549.9,1156.71 L550.9,1156.73 L551.9,1156.74 L552.9,1156.75 L553.9,1156.76 L554.9,1156.77 L555.9,1156.79 L556.9,1156.80 L557.9,1156.82 L558.9,1156.84 L559.9,1156.86 L560.9,1156.89 L561.9,1156.91 L562.9,1156.94 L563.9,1156.98 L564.9,1157.02 L565.9,1157.06 L566.9,1157.11 L567.9,1157.17 L568.9,1157.24 L569.9,1157.31 L570.9,1157.39 L571.9,1157.49 L572.9,1157.59 L573.9,1157.69 L574.9,1157.81 L575.9,1157.94 L576.9,1158.07 L577.9,1158.21 L578.9,1158.36 L579.9,1158.51 L580.9,1158.66 L581.9,1158.82 L582.9,1158.98 L583.9,1159.14 L584.9,1159.30 L585.9,1159.46 L586.9,1159.62 L587.9,1159.77 L588.9,1159.93 L589.9,1160.08 L590.9,1160.22 L591.9,1160.36 L592.9,1160.50 L593.9,1160.63 L594.9,1160.76 L595.9,1160.88 L596.9,1161.00 L597.9,1161.12 L598.9,1161.24 L599.9,1161.35 L600.9,1161.46 L601.9,1161.57 L602.9,1161.68 L603.9,1161.79 L604.9,1161.89 L605.9,1162.00 L606.9,1162.10 L607.9,1162.20 L608.9,1162.29 L609.9,1162.39 L610.9,1162.48 L611.9,1162.57 L612.9,1162.66 L613.9,1162.74 L614.9,1162.82 L615.9,1162.89 L616.9,1162.96 L617.9,1163.03 L618.9,1163.09 L619.9,1163.15 L620.9,1163.20 L621.9,1163.24 L622.9,1163.29 L623.9,1163.32 L624.9,1163.35 L625.9,1163.38 L626.9,1163.40 L627.9,1163.42 L628.9,1163.43 L629.9,1163.45 L630.9,1163.45 L631.9,1163.46 L632.9,1163.46 L633.9,1163.46 L634.9,1163.45 L635.9,1163.45 L636.9,1163.44 L637.9,1163.43 L638.9,1163.42 L639.9,1163.40 L640.9,1163.39 L641.9,1163.37 L642.9,1163.35 L643.9,1163.33 L644.9,1163.31 L645.9,1163.29 L646.9,1163.26 L647.9,1163.23 L648.9,1163.20 L649.9,1163.17 L650.9,1163.14 L651.9,1163.10 L652.9,1163.06 L653.9,1163.02 L654.9,1162.98 L655.9,1162.93 L656.9,1162.88 L657.9,1162.83 L658.9,1162.77 L659.9,1162.72 L660.9,1162.65 L661.9,1162.59 L662.9,1162.53 L663.9,1162.46 L664.9,1162.38 L665.9,1162.31 L666.9,1162.23 L667.9,1162.16 L668.9,1162.08 L669.9,1162.00 L670.9,1161.92 L671.9,1161.84 L672.9,1161.77 L673.9,1161.69 L674.9,1161.62 L675.9,1161.56 L676.9,1161.50 L677.7,1161.45" fill="none" stroke="#ff7f0e" stroke-width="2.4" stroke-linecap="butt"/>
</g>
<rect x="35" y="1039" width="673" height="142" fill="none" stroke="#1a1a1a" stroke-width="2"/>
<line x1="38.49" y1="1181" x2="38.49" y2="1187.6" stroke="#1a1a1a" stroke-width="2"/>
<text x="38.49" y="1209.40" font-size="20.3" text-anchor="middle" textLength="30.22" lengthAdjust="spacingAndGlyphs">0.0</text>
<line x1="170.71" y1="1181" x2="170.71" y2="1187.6" stroke="#1a1a1a" stroke-width="2"/>
<text x="170.71" y="1209.40" font-size="20.3" text-anchor="middle" textLength="30.22" lengthAdjust="spacingAndGlyphs">0.5</text>
<line x1="302.92" y1="1181" x2="302.92" y2="1187.6" stroke="#1a1a1a" stroke-width="2"/>
<text x="302.92" y="1209.40" font-size="20.3" text-anchor="middle" textLength="30.22" lengthAdjust="spacingAndGlyphs">1.0</text>
<line x1="435.13" y1="1181" x2="435.13" y2="1187.6" stroke="#1a1a1a" stroke-width="2"/>
<text x="435.13" y="1209.40" font-size="20.3" text-anchor="middle" textLength="30.22" lengthAdjust="spacingAndGlyphs">1.5</text>
<line x1="567.35" y1="1181" x2="567.35" y2="1187.6" stroke="#1a1a1a" stroke-width="2"/>
<text x="567.35" y="1209.40" font-size="20.3" text-anchor="middle" textLength="30.22" lengthAdjust="spacingAndGlyphs">2.0</text>
<line x1="699.57" y1="1181" x2="699.57" y2="1187.6" stroke="#1a1a1a" stroke-width="2"/>
<text x="699.57" y="1209.40" font-size="20.3" text-anchor="middle" textLength="30.22" lengthAdjust="spacingAndGlyphs">2.5</text>
<clipPath id="cr4"><rect x="778" y="1039" width="672" height="142"/></clipPath>
<g clip-path="url(#cr4)">
<line x1="851.26" y1="1144.50" x2="851.26" y2="1191" stroke="#000" stroke-opacity="0.37" stroke-width="2.8"/>
<line x1="868.18" y1="1144.50" x2="868.18" y2="1191" stroke="#000" stroke-opacity="0.37" stroke-width="2.8"/>
<line x1="940.28" y1="1144.50" x2="940.28" y2="1191" stroke="#000" stroke-opacity="0.37" stroke-width="2.8"/>
<line x1="985.37" y1="1144.50" x2="985.37" y2="1191" stroke="#000" stroke-opacity="0.37" stroke-width="2.8"/>
<line x1="987.00" y1="1144.50" x2="987.00" y2="1191" stroke="#000" stroke-opacity="0.37" stroke-width="2.8"/>
<line x1="994.21" y1="1144.50" x2="994.21" y2="1191" stroke="#000" stroke-opacity="0.37" stroke-width="2.8"/>
<line x1="1005.46" y1="1144.50" x2="1005.46" y2="1191" stroke="#000" stroke-opacity="0.37" stroke-width="2.8"/>
<line x1="1007.29" y1="1144.50" x2="1007.29" y2="1191" stroke="#000" stroke-opacity="0.37" stroke-width="2.8"/>
<line x1="1165.34" y1="1144.50" x2="1165.34" y2="1191" stroke="#000" stroke-opacity="0.37" stroke-width="2.8"/>
<line x1="1181.30" y1="1144.50" x2="1181.30" y2="1191" stroke="#000" stroke-opacity="0.37" stroke-width="2.8"/>
<line x1="1243.40" y1="1144.50" x2="1243.40" y2="1191" stroke="#000" stroke-opacity="0.37" stroke-width="2.8"/>
<line x1="1392.41" y1="1144.50" x2="1392.41" y2="1191" stroke="#000" stroke-opacity="0.37" stroke-width="2.8"/>
<polyline points="778.0,1149.0 779.0,1109.7 779.9,1115.5 780.9,1117.1 781.8,1166.7 782.8,1079.8 783.8,1092.9 784.7,1136.1 785.7,1125.0 786.7,1143.1 787.6,1108.0 788.6,1127.3 789.5,1104.4 790.5,1111.7 791.5,1112.4 792.4,1084.3 793.4,1126.1 794.3,1142.3 795.3,1140.4 796.3,1141.7 797.2,1157.9 798.2,1126.0 799.2,1137.1 800.1,1131.8 801.1,1146.8 802.0,1149.6 803.0,1141.2 804.0,1150.5 804.9,1134.6 805.9,1120.6 806.8,1139.3 807.8,1138.1 808.8,1107.5 809.7,1126.4 810.7,1139.6 811.6,1146.6 812.6,1126.8 813.6,1101.6 814.5,1129.4 815.5,1135.7 816.5,1125.8 817.4,1143.4 818.4,1140.3 819.3,1127.4 820.3,1138.0 821.3,1133.3 822.2,1140.1 823.2,1130.5 824.1,1143.4 825.1,1120.9 826.1,1140.7 827.0,1161.8 828.0,1150.2 829.0,1139.4 829.9,1100.0 830.9,1142.1 831.8,1139.3 832.8,1149.3 833.8,1140.4 834.7,1165.6 835.7,1136.0 836.6,1136.7 837.6,1155.4 838.6,1159.0 839.5,1141.6 840.5,1123.8 841.5,1123.5 842.4,1141.0 843.4,1165.4 844.3,1156.2 845.3,1146.1 846.3,1137.1 847.2,1150.4 848.2,1149.0 849.1,1136.3 850.1,1137.3 851.1,1141.7 852.0,1129.7 853.0,1110.2 853.9,1111.2 854.9,1088.9 855.9,1137.5 856.8,1146.7 857.8,1143.3 858.8,1116.8 859.7,1115.9 860.7,1145.8 861.6,1165.8 862.6,1129.3 863.6,1129.6 864.5,1117.4 865.5,1124.7 866.4,1108.9 867.4,1110.7 868.4,1108.1 869.3,1130.4 870.3,1117.9 871.3,1137.8 872.2,1110.5 873.2,1139.8 874.1,1123.7 875.1,1136.3 876.1,1146.5 877.0,1124.3 878.0,1108.4 878.9,1115.7 879.9,1120.1 880.9,1141.1 881.8,1123.3 882.8,1124.2 883.8,1101.1 884.7,1106.2 885.7,1142.9 886.6,1134.9 887.6,1135.9 888.6,1091.2 889.5,1139.6 890.5,1138.4 891.4,1124.7 892.4,1120.3 893.4,1136.5 894.3,1139.5 895.3,1151.5 896.2,1138.8 897.2,1154.7 898.2,1151.9 899.1,1138.9 900.1,1136.1 901.1,1102.8 902.0,1148.5 903.0,1151.3 903.9,1151.5 904.9,1128.6 905.9,1117.3 906.8,1144.2 907.8,1129.1 908.7,1148.6 909.7,1126.3 910.7,1123.2 911.6,1124.0 912.6,1116.2 913.6,1086.5 914.5,1101.3 915.5,1136.9 916.4,1117.1 917.4,1121.8 918.4,1086.5 919.3,1097.6 920.3,1106.3 921.2,1112.0 922.2,1109.6 923.2,1131.4 924.1,1122.3 925.1,1121.2 926.1,1157.8 927.0,1162.0 928.0,1117.7 928.9,1110.0 929.9,1145.1 930.9,1122.2 931.8,1128.5 932.8,1145.9 933.7,1130.1 934.7,1127.6 935.7,1131.7 936.6,1153.4 937.6,1145.8 938.5,1138.2 939.5,1137.3 940.5,1133.3 941.4,1146.3 942.4,1112.8 943.4,1141.6 944.3,1118.2 945.3,1155.2 946.2,1123.5 947.2,1137.5 948.2,1140.4 949.1,1163.4 950.1,1139.1 951.0,1151.5 952.0,1129.6 953.0,1126.1 953.9,1119.9 954.9,1116.7 955.9,1144.2 956.8,1134.1 957.8,1132.4 958.7,1134.6 959.7,1130.3 960.7,1122.2 961.6,1143.6 962.6,1156.4 963.5,1140.1 964.5,1108.0 965.5,1132.7 966.4,1121.6 967.4,1140.5 968.4,1117.4 969.3,1131.6 970.3,1126.3 971.2,1142.0 972.2,1123.9 973.2,1115.7 974.1,1114.5 975.1,1123.8 976.0,1153.2 977.0,1138.2 978.0,1145.9 978.9,1150.7 979.9,1149.7 980.8,1145.7 981.8,1118.5 982.8,1123.7 983.7,1085.3 984.7,1116.1 985.7,1127.6 986.6,1113.8 987.6,1134.5 988.5,1125.6 989.5,1135.4 990.5,1124.0 991.4,1109.6 992.4,1132.3 993.3,1121.7 994.3,1136.2 995.3,1136.0 996.2,1135.1 997.2,1058.5 998.2,1087.7 999.1,1092.4 1000.1,1158.5 1001.0,1119.9 1002.0,1132.3 1003.0,1086.0 1003.9,1116.4 1004.9,1134.1 1005.8,1132.1 1006.8,1087.4 1007.8,1104.9 1008.7,1095.2 1009.7,1085.9 1010.7,1087.0 1011.6,1065.2 1012.6,1094.6 1013.5,1145.6 1014.5,1114.4 1015.5,1137.9 1016.4,1131.5 1017.4,1110.5 1018.3,1123.8 1019.3,1116.7 1020.3,1126.0 1021.2,1107.7 1022.2,1103.0 1023.2,1149.5 1024.1,1138.2 1025.1,1139.3 1026.0,1116.1 1027.0,1115.0 1028.0,1125.7 1028.9,1117.3 1029.9,1122.2 1030.8,1126.2 1031.8,1146.4 1032.8,1124.5 1033.7,1140.6 1034.7,1150.1 1035.6,1122.3 1036.6,1131.6 1037.6,1105.5 1038.5,1146.1 1039.5,1131.9 1040.5,1132.2 1041.4,1141.0 1042.4,1136.0 1043.3,1137.1 1044.3,1148.3 1045.3,1144.3 1046.2,1151.1 1047.2,1148.4 1048.1,1135.7 1049.1,1127.0 1050.1,1156.2 1051.0,1153.2 1052.0,1167.1 1053.0,1146.2 1053.9,1119.9 1054.9,1135.5 1055.8,1149.6 1056.8,1157.0 1057.8,1148.8 1058.7,1153.6 1059.7,1118.6 1060.6,1128.0 1061.6,1141.0 1062.6,1131.4 1063.5,1121.3 1064.5,1123.4 1065.5,1121.4 1066.4,1139.3 1067.4,1121.5 1068.3,1137.2 1069.3,1129.3 1070.3,1158.5 1071.2,1146.2 1072.2,1146.9 1073.1,1147.8 1074.1,1132.0 1075.1,1140.0 1076.0,1131.4 1077.0,1141.5 1077.9,1130.1 1078.9,1144.8 1079.9,1126.2 1080.8,1138.2 1081.8,1141.9 1082.8,1131.5 1083.7,1113.5 1084.7,1142.9 1085.6,1160.5 1086.6,1152.9 1087.6,1148.9 1088.5,1150.9 1089.5,1147.8 1090.4,1137.5 1091.4,1121.0 1092.4,1156.4 1093.3,1140.3 1094.3,1148.1 1095.3,1125.6 1096.2,1151.2 1097.2,1148.7 1098.1,1135.3 1099.1,1123.8 1100.1,1138.1 1101.0,1160.5 1102.0,1135.9 1102.9,1135.5 1103.9,1145.7 1104.9,1136.8 1105.8,1134.8 1106.8,1146.3 1107.8,1129.2 1108.7,1130.9 1109.7,1108.8 1110.6,1128.3 1111.6,1149.6 1112.6,1133.9 1113.5,1133.2 1114.5,1113.9 1115.4,1144.3 1116.4,1098.9 1117.4,1114.3 1118.3,1122.4 1119.3,1110.8 1120.2,1109.7 1121.2,1132.0 1122.2,1134.5 1123.1,1150.0 1124.1,1136.4 1125.1,1138.4 1126.0,1145.2 1127.0,1151.8 1127.9,1138.0 1128.9,1139.0 1129.9,1145.5 1130.8,1140.6 1131.8,1133.2 1132.7,1155.0 1133.7,1157.6 1134.7,1152.6 1135.6,1130.8 1136.6,1157.8 1137.6,1134.1 1138.5,1131.9 1139.5,1142.4 1140.4,1145.5 1141.4,1146.2 1142.4,1129.9 1143.3,1136.9 1144.3,1130.0 1145.2,1150.3 1146.2,1131.8 1147.2,1134.3 1148.1,1130.1 1149.1,1155.8 1150.1,1109.7 1151.0,1134.9 1152.0,1161.8 1152.9,1130.9 1153.9,1130.8 1154.9,1143.9 1155.8,1154.2 1156.8,1118.1 1157.7,1121.9 1158.7,1138.0 1159.7,1156.1 1160.6,1134.8 1161.6,1101.1 1162.5,1126.8 1163.5,1131.1 1164.5,1147.9 1165.4,1139.6 1166.4,1152.7 1167.4,1149.9 1168.3,1141.4 1169.3,1138.1 1170.2,1130.4 1171.2,1121.7 1172.2,1150.7 1173.1,1145.2 1174.1,1148.9 1175.0,1131.7 1176.0,1130.9 1177.0,1138.5 1177.9,1105.2 1178.9,1124.5 1179.9,1131.9 1180.8,1093.6 1181.8,1105.0 1182.7,1109.3 1183.7,1112.0 1184.7,1070.1 1185.6,1119.6 1186.6,1104.9 1187.5,1119.4 1188.5,1097.3 1189.5,1086.9 1190.4,1120.7 1191.4,1147.6 1192.4,1125.6 1193.3,1112.9 1194.3,1135.5 1195.2,1135.0 1196.2,1133.0 1197.2,1123.4 1198.1,1130.1 1199.1,1115.3 1200.0,1125.3 1201.0,1117.0 1202.0,1133.0 1202.9,1137.9 1203.9,1123.1 1204.8,1129.7 1205.8,1148.8 1206.8,1130.1 1207.7,1138.7 1208.7,1119.1 1209.7,1124.8 1210.6,1146.6 1211.6,1145.7 1212.5,1149.6 1213.5,1137.7 1214.5,1158.2 1215.4,1167.6 1216.4,1147.5 1217.3,1144.8 1218.3,1128.1 1219.3,1130.3 1220.2,1115.2 1221.2,1117.4 1222.2,1107.9 1223.1,1122.1 1224.1,1152.9 1225.0,1145.4 1226.0,1166.9 1227.0,1128.6 1227.9,1104.7 1228.9,1120.6 1229.8,1144.6 1230.8,1098.9 1231.8,1114.8 1232.7,1129.5 1233.7,1124.1 1234.7,1130.0 1235.6,1137.9 1236.6,1135.6 1237.5,1127.8 1238.5,1141.8 1239.5,1158.8 1240.4,1142.7 1241.4,1124.8 1242.3,1146.5 1243.3,1135.2 1244.3,1132.6 1245.2,1130.6 1246.2,1134.3 1247.2,1129.7 1248.1,1148.0 1249.1,1155.9 1250.0,1154.7 1251.0,1163.9 1252.0,1145.3 1252.9,1137.8 1253.9,1153.7 1254.8,1115.7 1255.8,1133.9 1256.8,1143.9 1257.7,1123.7 1258.7,1113.7 1259.6,1154.7 1260.6,1164.3 1261.6,1126.2 1262.5,1129.7 1263.5,1143.7 1264.5,1161.0 1265.4,1124.4 1266.4,1108.7 1267.3,1118.2 1268.3,1111.1 1269.3,1156.0 1270.2,1134.7 1271.2,1140.1 1272.1,1128.6 1273.1,1138.0 1274.1,1136.6 1275.0,1141.1 1276.0,1096.6 1277.0,1136.4 1277.9,1136.9 1278.9,1135.1 1279.8,1136.4 1280.8,1121.0 1281.8,1120.6 1282.7,1121.6 1283.7,1127.6 1284.6,1146.4 1285.6,1148.2 1286.6,1132.9 1287.5,1131.4 1288.5,1123.2 1289.5,1126.6 1290.4,1123.2 1291.4,1122.9 1292.3,1127.5 1293.3,1135.5 1294.3,1136.3 1295.2,1149.3 1296.2,1159.0 1297.1,1126.3 1298.1,1154.7 1299.1,1149.9 1300.0,1149.4 1301.0,1145.7 1301.9,1141.1 1302.9,1163.0 1303.9,1122.8 1304.8,1102.6 1305.8,1134.7 1306.8,1155.4 1307.7,1132.6 1308.7,1132.0 1309.6,1128.8 1310.6,1151.0 1311.6,1151.7 1312.5,1141.0 1313.5,1167.7 1314.4,1161.4 1315.4,1132.1 1316.4,1135.4 1317.3,1135.6 1318.3,1157.5 1319.3,1162.4 1320.2,1150.1 1321.2,1133.2 1322.1,1150.2 1323.1,1143.0 1324.1,1159.1 1325.0,1162.8 1326.0,1159.4 1326.9,1151.8 1327.9,1140.5 1328.9,1150.0 1329.8,1165.8 1330.8,1161.8 1331.8,1151.7 1332.7,1135.7 1333.7,1137.1 1334.6,1152.3 1335.6,1126.6 1336.6,1145.5 1337.5,1136.3 1338.5,1130.9 1339.4,1125.4 1340.4,1080.9 1341.4,1119.7 1342.3,1106.8 1343.3,1114.6 1344.2,1105.0 1345.2,1100.6 1346.2,1146.2 1347.1,1124.1 1348.1,1139.3 1349.1,1143.6 1350.0,1134.0 1351.0,1129.4 1351.9,1138.3 1352.9,1145.9 1353.9,1117.8 1354.8,1142.3 1355.8,1095.6 1356.7,1086.5 1357.7,1146.2 1358.7,1144.2 1359.6,1115.1 1360.6,1146.3 1361.6,1134.0 1362.5,1088.8 1363.5,1129.9 1364.4,1149.4 1365.4,1136.6 1366.4,1100.6 1367.3,1118.5 1368.3,1124.1 1369.2,1125.4 1370.2,1149.6 1371.2,1140.7 1372.1,1119.1 1373.1,1125.8 1374.1,1095.9 1375.0,1121.3 1376.0,1138.1 1376.9,1146.9 1377.9,1087.0 1378.9,1090.5 1379.8,1084.3 1380.8,1103.1 1381.7,1090.9 1382.7,1112.9 1383.7,1113.7 1384.6,1146.5 1385.6,1163.6 1386.5,1135.5 1387.5,1147.4 1388.5,1123.1 1389.4,1143.2 1390.4,1118.8 1391.4,1138.5 1392.3,1139.9 1393.3,1137.3 1394.2,1138.9 1395.2,1139.8 1396.2,1132.9 1397.1,1137.7 1398.1,1142.6 1399.0,1152.1 1400.0,1148.9 1401.0,1159.1 1401.9,1140.7 1402.9,1154.5 1403.9,1157.1 1404.8,1151.0 1405.8,1146.5 1406.7,1133.4 1407.7,1140.3 1408.7,1145.5 1409.6,1149.4 1410.6,1148.1 1411.5,1152.3 1412.5,1129.6 1413.5,1140.8 1414.4,1161.0 1415.4,1152.6 1416.4,1142.1 1417.3,1131.5 1418.3,1138.2 1419.2,1124.4 1420.2,1156.2 1421.2,1124.3 1422.1,1140.8 1423.1,1137.9 1424.0,1131.3 1425.0,1166.5 1426.0,1128.4 1426.9,1146.2 1427.9,1128.6 1428.8,1129.4 1429.8,1126.1 1430.8,1114.6 1431.7,1129.6 1432.7,1117.3 1433.7,1115.6 1434.6,1135.0 1435.6,1113.3 1436.5,1116.1 1437.5,1136.7 1438.5,1113.0 1439.4,1100.4 1440.4,1088.9 1441.3,1136.4 1442.3,1093.9 1443.3,1105.3 1444.2,1132.5 1445.2,1132.0 1446.2,1111.0 1447.1,1116.6 1448.1,1094.9 1449.0,1123.8 1450.0,1108.3" fill="none" stroke="#1f77b4" stroke-opacity="0.35" stroke-width="2.4" stroke-linejoin="round"/>
<polyline points="778.0,1137.2 779.0,1149.9 779.9,1124.6 780.9,1109.0 781.8,1116.4 782.8,1120.6 783.8,1116.9 784.7,1111.3 785.7,1132.6 786.7,1129.8 787.6,1107.5 788.6,1121.9 789.5,1119.3 790.5,1140.3 791.5,1140.9 792.4,1132.5 793.4,1123.6 794.3,1114.3 795.3,1119.8 796.3,1140.2 797.2,1080.3 798.2,1118.6 799.2,1122.8 800.1,1139.7 801.1,1110.5 802.0,1118.4 803.0,1116.9 804.0,1118.8 804.9,1134.3 805.9,1157.6 806.8,1154.3 807.8,1116.6 808.8,1121.3 809.7,1131.5 810.7,1121.7 811.6,1131.2 812.6,1123.5 813.6,1129.8 814.5,1144.3 815.5,1133.4 816.5,1126.6 817.4,1136.8 818.4,1152.4 819.3,1136.3 820.3,1128.6 821.3,1139.9 822.2,1133.8 823.2,1135.1 824.1,1147.2 825.1,1164.9 826.1,1134.4 827.0,1133.2 828.0,1115.2 829.0,1104.5 829.9,1126.3 830.9,1167.2 831.8,1119.0 832.8,1133.1 833.8,1123.2 834.7,1113.1 835.7,1131.7 836.6,1092.1 837.6,1077.2 838.6,1084.9 839.5,1121.8 840.5,1108.2 841.5,1108.2 842.4,1097.0 843.4,1046.1 844.3,1073.7 845.3,1110.4 846.3,1112.9 847.2,1082.2 848.2,1093.0 849.1,1090.8 850.1,1134.3 851.1,1132.3 852.0,1115.3 853.0,1125.1 853.9,1114.6 854.9,1103.9 855.9,1105.7 856.8,1103.5 857.8,1128.5 858.8,1121.6 859.7,1123.1 860.7,1134.4 861.6,1097.2 862.6,1116.8 863.6,1091.2 864.5,1105.1 865.5,1086.2 866.4,1097.4 867.4,1146.2 868.4,1126.4 869.3,1112.2 870.3,1094.4 871.3,1118.7 872.2,1136.3 873.2,1121.6 874.1,1133.4 875.1,1100.8 876.1,1090.9 877.0,1148.6 878.0,1134.0 878.9,1131.4 879.9,1093.3 880.9,1094.0 881.8,1120.9 882.8,1136.2 883.8,1118.9 884.7,1112.9 885.7,1105.3 886.6,1125.4 887.6,1095.9 888.6,1115.5 889.5,1166.2 890.5,1165.6 891.4,1116.7 892.4,1110.5 893.4,1145.6 894.3,1096.8 895.3,1133.9 896.2,1165.6 897.2,1124.1 898.2,1124.8 899.1,1097.6 900.1,1129.1 901.1,1098.9 902.0,1111.2 903.0,1125.4 903.9,1128.6 904.9,1099.3 905.9,1102.0 906.8,1105.2 907.8,1150.7 908.7,1141.3 909.7,1107.2 910.7,1143.0 911.6,1126.1 912.6,1117.1 913.6,1132.8 914.5,1085.2 915.5,1135.9 916.4,1149.7 917.4,1144.8 918.4,1142.0 919.3,1134.0 920.3,1156.7 921.2,1128.7 922.2,1141.7 923.2,1118.6 924.1,1118.6 925.1,1124.3 926.1,1162.8 927.0,1119.4 928.0,1121.2 928.9,1110.6 929.9,1115.7 930.9,1116.0 931.8,1144.3 932.8,1156.6 933.7,1142.6 934.7,1145.9 935.7,1128.7 936.6,1105.1 937.6,1131.1 938.5,1132.8 939.5,1139.9 940.5,1092.7 941.4,1137.9 942.4,1115.7 943.4,1146.8 944.3,1122.7 945.3,1106.3 946.2,1112.1 947.2,1109.3 948.2,1105.9 949.1,1108.9 950.1,1120.1 951.0,1142.7 952.0,1126.7 953.0,1112.8 953.9,1106.2 954.9,1116.8 955.9,1135.5 956.8,1120.9 957.8,1140.1 958.7,1128.6 959.7,1123.7 960.7,1120.9 961.6,1107.2 962.6,1129.5 963.5,1105.5 964.5,1129.8 965.5,1125.3 966.4,1108.5 967.4,1115.9 968.4,1116.5 969.3,1088.8 970.3,1092.4 971.2,1135.4 972.2,1129.4 973.2,1137.3 974.1,1128.2 975.1,1122.4 976.0,1139.2 977.0,1134.4 978.0,1133.9 978.9,1135.0 979.9,1122.3 980.8,1127.2 981.8,1141.9 982.8,1123.1 983.7,1122.9 984.7,1116.5 985.7,1106.5 986.6,1102.2 987.6,1128.9 988.5,1120.0 989.5,1122.9 990.5,1138.6 991.4,1150.7 992.4,1142.5 993.3,1133.3 994.3,1105.0 995.3,1117.6 996.2,1108.3 997.2,1126.5 998.2,1118.7 999.1,1115.3 1000.1,1101.7 1001.0,1135.8 1002.0,1119.5 1003.0,1082.5 1003.9,1092.3 1004.9,1102.2 1005.8,1154.2 1006.8,1154.3 1007.8,1139.6 1008.7,1142.0 1009.7,1129.8 1010.7,1136.9 1011.6,1132.9 1012.6,1128.2 1013.5,1134.2 1014.5,1128.5 1015.5,1113.1 1016.4,1102.0 1017.4,1135.7 1018.3,1137.4 1019.3,1113.5 1020.3,1123.4 1021.2,1112.8 1022.2,1129.5 1023.2,1065.2 1024.1,1115.1 1025.1,1128.5 1026.0,1124.0 1027.0,1133.1 1028.0,1116.3 1028.9,1119.8 1029.9,1135.7 1030.8,1122.3 1031.8,1103.3 1032.8,1126.3 1033.7,1136.9 1034.7,1049.5 1035.6,1134.8 1036.6,1127.0 1037.6,1117.7 1038.5,1095.6 1039.5,1116.8 1040.5,1105.5 1041.4,1073.0 1042.4,1086.0 1043.3,1106.4 1044.3,1132.6 1045.3,1131.0 1046.2,1117.1 1047.2,1135.2 1048.1,1117.8 1049.1,1113.6 1050.1,1131.6 1051.0,1129.6 1052.0,1141.7 1053.0,1128.6 1053.9,1098.3 1054.9,1118.2 1055.8,1129.1 1056.8,1144.1 1057.8,1098.1 1058.7,1122.7 1059.7,1113.5 1060.6,1120.1 1061.6,1069.7 1062.6,1094.3 1063.5,1100.7 1064.5,1109.7 1065.5,1081.6 1066.4,1082.2 1067.4,1095.8 1068.3,1140.3 1069.3,1115.6 1070.3,1093.6 1071.2,1109.0 1072.2,1078.0 1073.1,1129.8 1074.1,1108.4 1075.1,1158.5 1076.0,1146.0 1077.0,1088.6 1077.9,1072.8 1078.9,1101.2 1079.9,1101.7 1080.8,1115.6 1081.8,1085.5 1082.8,1084.0 1083.7,1124.3 1084.7,1138.0 1085.6,1133.7 1086.6,1134.2 1087.6,1112.7 1088.5,1133.9 1089.5,1144.0 1090.4,1128.9 1091.4,1112.6 1092.4,1103.9 1093.3,1147.6 1094.3,1128.0 1095.3,1134.3 1096.2,1142.3 1097.2,1117.1 1098.1,1118.5 1099.1,1125.0 1100.1,1116.4 1101.0,1124.2 1102.0,1132.4 1102.9,1118.4 1103.9,1125.1 1104.9,1111.7 1105.8,1122.4 1106.8,1141.1 1107.8,1126.8 1108.7,1101.4 1109.7,1116.9 1110.6,1125.4 1111.6,1149.8 1112.6,1135.8 1113.5,1133.6 1114.5,1126.9 1115.4,1121.6 1116.4,1133.8 1117.4,1136.3 1118.3,1147.3 1119.3,1111.4 1120.2,1139.1 1121.2,1141.9 1122.2,1143.3 1123.1,1117.5 1124.1,1134.0 1125.1,1159.6 1126.0,1123.1 1127.0,1119.9 1127.9,1104.6 1128.9,1118.2 1129.9,1120.3 1130.8,1154.7 1131.8,1115.5 1132.7,1122.5 1133.7,1092.9 1134.7,1125.3 1135.6,1137.2 1136.6,1138.5 1137.6,1120.7 1138.5,1125.0 1139.5,1141.6 1140.4,1083.2 1141.4,1114.9 1142.4,1094.3 1143.3,1127.9 1144.3,1111.2 1145.2,1104.3 1146.2,1107.2 1147.2,1075.0 1148.1,1047.2 1149.1,1117.9 1150.1,1141.9 1151.0,1135.3 1152.0,1128.4 1152.9,1122.9 1153.9,1091.2 1154.9,1083.3 1155.8,1116.1 1156.8,1103.1 1157.7,1097.0 1158.7,1061.8 1159.7,1100.9 1160.6,1135.4 1161.6,1145.5 1162.5,1119.5 1163.5,1100.3 1164.5,1110.2 1165.4,1111.9 1166.4,1105.6 1167.4,1108.5 1168.3,1112.2 1169.3,1111.5 1170.2,1116.4 1171.2,1134.5 1172.2,1139.2 1173.1,1138.1 1174.1,1130.6 1175.0,1143.2 1176.0,1112.6 1177.0,1114.7 1177.9,1117.4 1178.9,1130.3 1179.9,1125.6 1180.8,1094.9 1181.8,1105.7 1182.7,1118.3 1183.7,1098.7 1184.7,1130.0 1185.6,1108.0 1186.6,1110.2 1187.5,1122.2 1188.5,1140.2 1189.5,1139.9 1190.4,1124.2 1191.4,1135.5 1192.4,1142.0 1193.3,1139.5 1194.3,1128.0 1195.2,1097.5 1196.2,1096.6 1197.2,1084.3 1198.1,1125.7 1199.1,1131.7 1200.0,1084.3 1201.0,1124.5 1202.0,1105.4 1202.9,1117.4 1203.9,1110.3 1204.8,1138.6 1205.8,1120.0 1206.8,1096.8 1207.7,1101.6 1208.7,1122.4 1209.7,1117.4 1210.6,1124.4 1211.6,1133.3 1212.5,1112.6 1213.5,1144.0 1214.5,1139.7 1215.4,1117.0 1216.4,1131.2 1217.3,1118.6 1218.3,1110.3 1219.3,1138.7 1220.2,1144.5 1221.2,1167.5 1222.2,1086.5 1223.1,1110.9 1224.1,1132.3 1225.0,1128.5 1226.0,1132.9 1227.0,1076.8 1227.9,1100.1 1228.9,1087.7 1229.8,1092.1 1230.8,1107.7 1231.8,1098.7 1232.7,1103.8 1233.7,1160.8 1234.7,1049.9 1235.6,1102.4 1236.6,1084.8 1237.5,1093.0 1238.5,1085.9 1239.5,1046.8 1240.4,1112.6 1241.4,1144.1 1242.3,1078.9 1243.3,1096.1 1244.3,1114.9 1245.2,1095.7 1246.2,1099.9 1247.2,1098.5 1248.1,1081.8 1249.1,1087.9 1250.0,1075.7 1251.0,1094.8 1252.0,1061.2 1252.9,1074.1 1253.9,1081.2 1254.8,1101.9 1255.8,1080.1 1256.8,1114.5 1257.7,1129.0 1258.7,1101.6 1259.6,1092.6 1260.6,1092.4 1261.6,1107.6 1262.5,1131.8 1263.5,1122.9 1264.5,1160.8 1265.4,1122.2 1266.4,1132.6 1267.3,1166.6 1268.3,1135.7 1269.3,1127.5 1270.2,1142.7 1271.2,1127.3 1272.1,1132.2 1273.1,1122.3 1274.1,1143.4 1275.0,1129.8 1276.0,1115.8 1277.0,1167.5 1277.9,1113.9 1278.9,1101.3 1279.8,1101.1 1280.8,1080.9 1281.8,1084.2 1282.7,1094.3 1283.7,1084.7 1284.6,1112.3 1285.6,1100.0 1286.6,1086.3 1287.5,1106.2 1288.5,1122.8 1289.5,1122.8 1290.4,1092.5 1291.4,1081.5 1292.3,1110.2 1293.3,1131.4 1294.3,1079.4 1295.2,1085.8 1296.2,1085.3 1297.1,1049.9 1298.1,1098.2 1299.1,1084.6 1300.0,1079.2 1301.0,1087.0 1301.9,1085.4 1302.9,1072.9 1303.9,1080.7 1304.8,1122.5 1305.8,1077.7 1306.8,1127.1 1307.7,1118.1 1308.7,1088.7 1309.6,1067.4 1310.6,1076.8 1311.6,1096.8 1312.5,1130.6 1313.5,1117.3 1314.4,1135.4 1315.4,1115.2 1316.4,1147.6 1317.3,1107.7 1318.3,1112.5 1319.3,1119.5 1320.2,1122.8 1321.2,1098.4 1322.1,1124.0 1323.1,1133.7 1324.1,1144.2 1325.0,1123.3 1326.0,1113.0 1326.9,1138.8 1327.9,1106.3 1328.9,1128.7 1329.8,1138.5 1330.8,1134.4 1331.8,1135.6 1332.7,1080.9 1333.7,1098.2 1334.6,1077.9 1335.6,1105.0 1336.6,1135.1 1337.5,1122.4 1338.5,1107.2 1339.4,1130.9 1340.4,1126.6 1341.4,1114.5 1342.3,1108.7 1343.3,1139.6 1344.2,1126.7 1345.2,1113.0 1346.2,1114.6 1347.1,1102.0 1348.1,1114.1 1349.1,1111.6 1350.0,1100.2 1351.0,1101.0 1351.9,1091.4 1352.9,1069.7 1353.9,1108.1 1354.8,1128.3 1355.8,1090.1 1356.7,1118.8 1357.7,1107.9 1358.7,1105.6 1359.6,1130.5 1360.6,1152.1 1361.6,1128.0 1362.5,1124.5 1363.5,1144.6 1364.4,1131.5 1365.4,1120.8 1366.4,1114.0 1367.3,1120.8 1368.3,1137.1 1369.2,1126.2 1370.2,1138.0 1371.2,1140.8 1372.1,1123.8 1373.1,1116.9 1374.1,1119.6 1375.0,1136.3 1376.0,1130.3 1376.9,1134.0 1377.9,1134.3 1378.9,1129.2 1379.8,1128.9 1380.8,1142.6 1381.7,1152.9 1382.7,1125.0 1383.7,1119.2 1384.6,1117.9 1385.6,1126.7 1386.5,1119.4 1387.5,1142.9 1388.5,1131.2 1389.4,1135.9 1390.4,1126.6 1391.4,1120.9 1392.3,1140.1 1393.3,1136.7 1394.2,1163.1 1395.2,1141.7 1396.2,1122.1 1397.1,1117.5 1398.1,1122.4 1399.0,1099.9 1400.0,1113.0 1401.0,1104.2 1401.9,1116.0 1402.9,1151.0 1403.9,1089.9 1404.8,1129.1 1405.8,1128.1 1406.7,1111.2 1407.7,1110.7 1408.7,1111.4 1409.6,1150.7 1410.6,1125.7 1411.5,1120.1 1412.5,1114.2 1413.5,1121.3 1414.4,1116.7 1415.4,1116.1 1416.4,1107.5 1417.3,1149.5 1418.3,1141.3 1419.2,1147.6 1420.2,1136.2 1421.2,1131.8 1422.1,1131.2 1423.1,1132.7 1424.0,1161.5 1425.0,1138.6 1426.0,1136.6 1426.9,1122.9 1427.9,1141.3 1428.8,1103.8 1429.8,1121.1 1430.8,1129.1 1431.7,1107.3 1432.7,1112.6 1433.7,1111.7 1434.6,1096.8 1435.6,1079.8 1436.5,1134.6 1437.5,1155.0 1438.5,1107.5 1439.4,1139.4 1440.4,1126.6 1441.3,1112.5 1442.3,1135.4 1443.3,1122.6 1444.2,1120.9 1445.2,1141.8 1446.2,1145.7 1447.1,1162.9 1448.1,1156.9 1449.0,1146.7 1450.0,1121.7" fill="none" stroke="#ff7f0e" stroke-opacity="0.35" stroke-width="2.4" stroke-linejoin="round"/>
</g>
<rect x="778" y="1039" width="672" height="142" fill="none" stroke="#1a1a1a" stroke-width="2"/>
<line x1="778.00" y1="1181" x2="778.00" y2="1187.6" stroke="#1a1a1a" stroke-width="2"/>
<text x="778.00" y="1209.40" font-size="20.3" text-anchor="middle" textLength="12.09" lengthAdjust="spacingAndGlyphs">0</text>
<line x1="874.14" y1="1181" x2="874.14" y2="1187.6" stroke="#1a1a1a" stroke-width="2"/>
<text x="874.14" y="1209.40" font-size="20.3" text-anchor="middle" textLength="36.27" lengthAdjust="spacingAndGlyphs">100</text>
<line x1="970.27" y1="1181" x2="970.27" y2="1187.6" stroke="#1a1a1a" stroke-width="2"/>
<text x="970.27" y="1209.40" font-size="20.3" text-anchor="middle" textLength="36.27" lengthAdjust="spacingAndGlyphs">200</text>
<line x1="1066.41" y1="1181" x2="1066.41" y2="1187.6" stroke="#1a1a1a" stroke-width="2"/>
<text x="1066.41" y="1209.40" font-size="20.3" text-anchor="middle" textLength="36.27" lengthAdjust="spacingAndGlyphs">300</text>
<line x1="1162.55" y1="1181" x2="1162.55" y2="1187.6" stroke="#1a1a1a" stroke-width="2"/>
<text x="1162.55" y="1209.40" font-size="20.3" text-anchor="middle" textLength="36.27" lengthAdjust="spacingAndGlyphs">400</text>
<line x1="1258.69" y1="1181" x2="1258.69" y2="1187.6" stroke="#1a1a1a" stroke-width="2"/>
<text x="1258.69" y="1209.40" font-size="20.3" text-anchor="middle" textLength="36.27" lengthAdjust="spacingAndGlyphs">500</text>
<line x1="1354.82" y1="1181" x2="1354.82" y2="1187.6" stroke="#1a1a1a" stroke-width="2"/>
<text x="1354.82" y="1209.40" font-size="20.3" text-anchor="middle" textLength="36.27" lengthAdjust="spacingAndGlyphs">600</text>
<line x1="771" y1="1173.00" x2="778" y2="1173.00" stroke="#1a1a1a" stroke-width="2"/>
<text x="763.80" y="1181.30" font-size="20.3" text-anchor="end" textLength="12.09" lengthAdjust="spacingAndGlyphs">0</text>
<line x1="771" y1="1119.95" x2="778" y2="1119.95" stroke="#1a1a1a" stroke-width="2"/>
<text x="763.80" y="1128.25" font-size="20.3" text-anchor="end" textLength="12.09" lengthAdjust="spacingAndGlyphs">1</text>
<line x1="771" y1="1066.90" x2="778" y2="1066.90" stroke="#1a1a1a" stroke-width="2"/>
<text x="763.80" y="1075.20" font-size="20.3" text-anchor="end" textLength="12.09" lengthAdjust="spacingAndGlyphs">2</text>
<text x="371.50" y="1244.20" font-size="24.3" text-anchor="middle" textLength="62.49" lengthAdjust="spacingAndGlyphs">roi_m</text>
<text x="371.50" y="1271.00" font-size="24.3" text-anchor="middle" textLength="118.99" lengthAdjust="spacingAndGlyphs">Channel_5</text>
<text x="1114.00" y="1244.20" font-size="24.3" text-anchor="middle" textLength="62.49" lengthAdjust="spacingAndGlyphs">roi_m</text>
<text x="1114.00" y="1271.00" font-size="24.3" text-anchor="middle" textLength="118.99" lengthAdjust="spacingAndGlyphs">Channel_5</text>
<clipPath id="cl5"><rect x="35" y="1279" width="673" height="142"/></clipPath>
<g clip-path="url(#cl5)">
<line x1="119.40" y1="1384.50" x2="119.40" y2="1431" stroke="#000" stroke-opacity="0.37" stroke-width="2.8"/>
<line x1="125.30" y1="1384.50" x2="125.30" y2="1431" stroke="#000" stroke-opacity="0.37" stroke-width="2.8"/>
<line x1="136.50" y1="1384.50" x2="136.50" y2="1431" stroke="#000" stroke-opacity="0.37" stroke-width="2.8"/>
<line x1="150.20" y1="1384.50" x2="150.20" y2="1431" stroke="#000" stroke-opacity="0.37" stroke-width="2.8"/>
<line x1="155.60" y1="1384.50" x2="155.60" y2="1431" stroke="#000" stroke-opacity="0.37" stroke-width="2.8"/>
<line x1="165.20" y1="1384.50" x2="165.20" y2="1431" stroke="#000" stroke-opacity="0.37" stroke-width="2.8"/>
<line x1="166.00" y1="1384.50" x2="166.00" y2="1431" stroke="#000" stroke-opacity="0.37" stroke-width="2.8"/>
<line x1="186.60" y1="1384.50" x2="186.60" y2="1431" stroke="#000" stroke-opacity="0.37" stroke-width="2.8"/>
<line x1="200.50" y1="1384.50" x2="200.50" y2="1431" stroke="#000" stroke-opacity="0.37" stroke-width="2.8"/>
<line x1="229.30" y1="1384.50" x2="229.30" y2="1431" stroke="#000" stroke-opacity="0.37" stroke-width="2.8"/>
<line x1="233.30" y1="1384.50" x2="233.30" y2="1431" stroke="#000" stroke-opacity="0.37" stroke-width="2.8"/>
<line x1="247.90" y1="1384.50" x2="247.90" y2="1431" stroke="#000" stroke-opacity="0.37" stroke-width="2.8"/>
<line x1="248.70" y1="1384.50" x2="248.70" y2="1431" stroke="#000" stroke-opacity="0.37" stroke-width="2.8"/>
<path d="M70.5,1360.59 L71.5,1360.47 L72.5,1360.32 L73.5,1360.14 L74.5,1359.92 L75.5,1359.67 L76.5,1359.37 L77.5,1359.02 L78.5,1358.61 L79.5,1358.15 L80.5,1357.63 L81.5,1357.04 L82.5,1356.39 L83.5,1355.66 L84.5,1354.87 L85.5,1354.01 L86.5,1353.08 L87.5,1352.09 L88.5,1351.04 L89.5,1349.94 L90.5,1348.79 L91.5,1347.60 L92.5,1346.38 L93.5,1345.13 L94.5,1343.86 L95.5,1342.57 L96.5,1341.28 L97.5,1339.99 L98.5,1338.70 L99.5,1337.42 L100.5,1336.15 L101.5,1334.89 L102.5,1333.64 L103.5,1332.40 L104.5,1331.17 L105.5,1329.96 L106.5,1328.76 L107.5,1327.56 L108.5,1326.38 L109.5,1325.20 L110.5,1324.02 L111.5,1322.85 L112.5,1321.69 L113.5,1320.53 L114.5,1319.37 L115.5,1318.21 L116.5,1317.05 L117.5,1315.90 L118.5,1314.74 L119.5,1313.59 L120.5,1312.43 L121.5,1311.28 L122.5,1310.12 L123.5,1308.97 L124.5,1307.81 L125.5,1306.65 L126.5,1305.49 L127.5,1304.33 L128.5,1303.17 L129.5,1302.03 L130.5,1300.89 L131.5,1299.77 L132.5,1298.67 L133.5,1297.59 L134.5,1296.54 L135.5,1295.53 L136.5,1294.55 L137.5,1293.62 L138.5,1292.73 L139.5,1291.90 L140.5,1291.11 L141.5,1290.38 L142.5,1289.70 L143.5,1289.08 L144.5,1288.51 L145.5,1287.99 L146.5,1287.52 L147.5,1287.11 L148.5,1286.75 L149.5,1286.44 L150.5,1286.18 L151.5,1285.97 L152.5,1285.81 L153.5,1285.70 L154.5,1285.64 L155.5,1285.62 L156.5,1285.64 L157.5,1285.71 L158.5,1285.81 L159.5,1285.94 L160.5,1286.11 L161.5,1286.31 L162.5,1286.53 L163.5,1286.78 L164.5,1287.05 L165.5,1287.33 L166.5,1287.63 L167.5,1287.95 L168.5,1288.27 L169.5,1288.62 L170.5,1288.97 L171.5,1289.34 L172.5,1289.72 L173.5,1290.11 L174.5,1290.51 L175.5,1290.92 L176.5,1291.34 L177.5,1291.77 L178.5,1292.21 L179.5,1292.66 L180.5,1293.11 L181.5,1293.57 L182.5,1294.04 L183.5,1294.50 L184.5,1294.97 L185.5,1295.44 L186.5,1295.91 L187.5,1296.37 L188.5,1296.84 L189.5,1297.30 L190.5,1297.76 L191.5,1298.22 L192.5,1298.67 L193.5,1299.12 L194.5,1299.57 L195.5,1300.01 L196.5,1300.45 L197.5,1300.89 L198.5,1301.33 L199.5,1301.76 L200.5,1302.18 L201.5,1302.61 L202.5,1303.02 L203.5,1303.43 L204.5,1303.83 L205.5,1304.23 L206.5,1304.61 L207.5,1304.98 L208.5,1305.35 L209.5,1305.70 L210.5,1306.04 L211.5,1306.36 L212.5,1306.67 L213.5,1306.97 L214.5,1307.25 L215.5,1307.52 L216.5,1307.78 L217.5,1308.02 L218.5,1308.25 L219.5,1308.47 L220.5,1308.69 L221.5,1308.89 L222.5,1309.09 L223.5,1309.29 L224.5,1309.48 L225.5,1309.68 L226.5,1309.87 L227.5,1310.07 L228.5,1310.28 L229.5,1310.50 L230.5,1310.73 L231.5,1310.98 L232.5,1311.24 L233.5,1311.53 L234.5,1311.84 L235.5,1312.17 L236.5,1312.54 L237.5,1312.93 L238.5,1313.36 L239.5,1313.82 L240.5,1314.31 L241.5,1314.85 L242.5,1315.41 L243.5,1316.02 L244.5,1316.66 L245.5,1317.34 L246.5,1318.06 L247.5,1318.81 L248.5,1319.59 L249.5,1320.41 L250.5,1321.27 L251.5,1322.16 L252.5,1323.08 L253.5,1324.03 L254.5,1325.01 L255.5,1326.02 L256.5,1327.05 L257.5,1328.10 L258.5,1329.18 L259.5,1330.28 L260.5,1331.40 L261.5,1332.53 L262.5,1333.68 L263.5,1334.84 L264.5,1336.02 L265.5,1337.21 L266.5,1338.42 L267.5,1339.64 L268.5,1340.87 L269.5,1342.11 L270.5,1343.36 L271.5,1344.63 L272.5,1345.89 L273.5,1347.16 L274.5,1348.43 L275.5,1349.70 L276.5,1350.95 L277.5,1352.19 L278.5,1353.41 L279.5,1354.61 L280.5,1355.77 L281.5,1356.90 L282.5,1358.00 L283.5,1359.05 L284.5,1360.07 L285.5,1361.03 L286.5,1361.95 L287.5,1362.82 L288.5,1363.65 L289.5,1364.43 L290.5,1365.18 L291.5,1365.88 L292.5,1366.54 L293.5,1367.17 L294.5,1367.77 L295.5,1368.34 L296.5,1368.89 L297.5,1369.41 L298.5,1369.92 L299.5,1370.40 L300.5,1370.87 L301.5,1371.33 L302.5,1371.78 L303.5,1372.21 L304.5,1372.64 L305.5,1373.06 L306.5,1373.48 L307.5,1373.89 L308.5,1374.30 L309.5,1374.70 L310.5,1375.11 L311.5,1375.51 L312.5,1375.91 L313.5,1376.31 L314.5,1376.71 L315.5,1377.12 L316.5,1377.52 L317.5,1377.93 L318.5,1378.33 L319.5,1378.75 L320.5,1379.16 L321.5,1379.58 L322.5,1380.01 L323.5,1380.45 L324.5,1380.90 L325.5,1381.36 L326.5,1381.83 L327.5,1382.31 L328.5,1382.80 L329.5,1383.31 L330.5,1383.83 L331.5,1384.36 L332.5,1384.91 L333.5,1385.46 L334.5,1386.02 L335.5,1386.58 L336.5,1387.15 L337.5,1387.71 L338.5,1388.27 L339.5,1388.83 L340.5,1389.38 L341.5,1389.92 L342.5,1390.45 L343.5,1390.96 L344.5,1391.45 L345.5,1391.93 L346.5,1392.39 L347.5,1392.84 L348.5,1393.26 L349.5,1393.66 L350.5,1394.05 L351.5,1394.42 L352.5,1394.77 L353.5,1395.11 L354.5,1395.43 L355.5,1395.74 L356.5,1396.03 L357.5,1396.32 L358.5,1396.59 L359.5,1396.85 L360.5,1397.11 L361.5,1397.35 L362.5,1397.58 L363.5,1397.81 L364.5,1398.03 L365.5,1398.24 L366.5,1398.44 L367.5,1398.63 L368.5,1398.82 L369.5,1399.00 L370.5,1399.17 L371.5,1399.33 L372.5,1399.50 L373.5,1399.65 L374.5,1399.80 L375.5,1399.95 L376.5,1400.09 L377.5,1400.22 L378.5,1400.36 L379.5,1400.49 L380.5,1400.61 L381.5,1400.73 L382.5,1400.85 L383.5,1400.97 L384.5,1401.09 L385.5,1401.20 L386.5,1401.31 L387.5,1401.42 L388.5,1401.52 L389.5,1401.63 L390.5,1401.73 L391.5,1401.83 L392.5,1401.93 L393.5,1402.03 L394.5,1402.13 L395.5,1402.23 L396.5,1402.32 L397.5,1402.42 L398.5,1402.52 L399.5,1402.61 L400.5,1402.71 L401.5,1402.80 L402.5,1402.90 L403.5,1403.00 L404.5,1403.10 L405.5,1403.20 L406.5,1403.30 L407.5,1403.40 L408.5,1403.50 L409.5,1403.60 L410.5,1403.70 L411.5,1403.80 L412.5,1403.91 L413.5,1404.01 L414.5,1404.11 L415.5,1404.21 L416.5,1404.31 L417.5,1404.41 L418.5,1404.50 L419.5,1404.60 L420.5,1404.69 L421.5,1404.78 L422.5,1404.87 L423.5,1404.95 L424.5,1405.03 L425.5,1405.10 L426.5,1405.17 L427.5,1405.24 L428.5,1405.30 L429.5,1405.36 L430.5,1405.41 L431.5,1405.45 L432.5,1405.50 L433.5,1405.53 L434.5,1405.56 L435.5,1405.59 L436.5,1405.61 L437.5,1405.63 L438.5,1405.65 L439.5,1405.66 L440.5,1405.67 L441.5,1405.68 L442.5,1405.69 L443.5,1405.69 L444.5,1405.69 L445.5,1405.70 L446.5,1405.70 L447.5,1405.70 L448.5,1405.70 L449.5,1405.70 L450.5,1405.70 L451.5,1405.70 L452.5,1405.70 L453.5,1405.70 L454.5,1405.70 L455.5,1405.70 L456.5,1405.70 L457.5,1405.70 L458.5,1405.70 L459.5,1405.70 L460.5,1405.70 L461.5,1405.70 L462.5,1405.70 L463.5,1405.70 L464.5,1405.70 L465.5,1405.70 L466.5,1405.70 L467.5,1405.70 L468.5,1405.70 L469.5,1405.70 L470.5,1405.70 L471.5,1405.70 L472.5,1405.70 L473.3,1405.70" fill="none" stroke="#1f77b4" stroke-width="2.4" stroke-linecap="butt"/>
<path d="M64.9,1367.23 L65.9,1367.16 L66.9,1367.07 L67.9,1366.97 L68.9,1366.85 L69.9,1366.72 L70.9,1366.57 L71.9,1366.40 L72.9,1366.21 L73.9,1366.01 L74.9,1365.78 L75.9,1365.54 L76.9,1365.27 L77.9,1364.98 L78.9,1364.67 L79.9,1364.34 L80.9,1363.98 L81.9,1363.60 L82.9,1363.19 L83.9,1362.76 L84.9,1362.29 L85.9,1361.81 L86.9,1361.29 L87.9,1360.76 L88.9,1360.20 L89.9,1359.62 L90.9,1359.02 L91.9,1358.40 L92.9,1357.77 L93.9,1357.12 L94.9,1356.47 L95.9,1355.81 L96.9,1355.13 L97.9,1354.46 L98.9,1353.77 L99.9,1353.09 L100.9,1352.40 L101.9,1351.70 L102.9,1351.01 L103.9,1350.31 L104.9,1349.60 L105.9,1348.90 L106.9,1348.19 L107.9,1347.47 L108.9,1346.76 L109.9,1346.04 L110.9,1345.32 L111.9,1344.60 L112.9,1343.88 L113.9,1343.16 L114.9,1342.45 L115.9,1341.74 L116.9,1341.04 L117.9,1340.35 L118.9,1339.66 L119.9,1338.99 L120.9,1338.32 L121.9,1337.67 L122.9,1337.03 L123.9,1336.40 L124.9,1335.79 L125.9,1335.19 L126.9,1334.59 L127.9,1334.01 L128.9,1333.45 L129.9,1332.89 L130.9,1332.34 L131.9,1331.80 L132.9,1331.27 L133.9,1330.75 L134.9,1330.24 L135.9,1329.73 L136.9,1329.24 L137.9,1328.75 L138.9,1328.27 L139.9,1327.79 L140.9,1327.33 L141.9,1326.87 L142.9,1326.42 L143.9,1325.97 L144.9,1325.53 L145.9,1325.10 L146.9,1324.68 L147.9,1324.26 L148.9,1323.84 L149.9,1323.44 L150.9,1323.03 L151.9,1322.64 L152.9,1322.25 L153.9,1321.87 L154.9,1321.49 L155.9,1321.11 L156.9,1320.75 L157.9,1320.39 L158.9,1320.03 L159.9,1319.68 L160.9,1319.34 L161.9,1319.00 L162.9,1318.67 L163.9,1318.34 L164.9,1318.02 L165.9,1317.70 L166.9,1317.39 L167.9,1317.08 L168.9,1316.77 L169.9,1316.47 L170.9,1316.17 L171.9,1315.88 L172.9,1315.58 L173.9,1315.29 L174.9,1315.00 L175.9,1314.71 L176.9,1314.43 L177.9,1314.15 L178.9,1313.87 L179.9,1313.60 L180.9,1313.33 L181.9,1313.08 L182.9,1312.83 L183.9,1312.59 L184.9,1312.36 L185.9,1312.15 L186.9,1311.95 L187.9,1311.76 L188.9,1311.59 L189.9,1311.44 L190.9,1311.30 L191.9,1311.19 L192.9,1311.09 L193.9,1311.02 L194.9,1310.96 L195.9,1310.92 L196.9,1310.91 L197.9,1310.92 L198.9,1310.94 L199.9,1310.99 L200.9,1311.05 L201.9,1311.13 L202.9,1311.23 L203.9,1311.35 L204.9,1311.48 L205.9,1311.62 L206.9,1311.78 L207.9,1311.95 L208.9,1312.14 L209.9,1312.34 L210.9,1312.54 L211.9,1312.76 L212.9,1313.00 L213.9,1313.24 L214.9,1313.50 L215.9,1313.78 L216.9,1314.06 L217.9,1314.37 L218.9,1314.68 L219.9,1315.01 L220.9,1315.36 L221.9,1315.72 L222.9,1316.09 L223.9,1316.48 L224.9,1316.87 L225.9,1317.28 L226.9,1317.70 L227.9,1318.12 L228.9,1318.55 L229.9,1318.98 L230.9,1319.42 L231.9,1319.86 L232.9,1320.31 L233.9,1320.75 L234.9,1321.20 L235.9,1321.64 L236.9,1322.09 L237.9,1322.53 L238.9,1322.98 L239.9,1323.42 L240.9,1323.87 L241.9,1324.32 L242.9,1324.76 L243.9,1325.21 L244.9,1325.66 L245.9,1326.11 L246.9,1326.56 L247.9,1327.01 L248.9,1327.46 L249.9,1327.91 L250.9,1328.36 L251.9,1328.82 L252.9,1329.27 L253.9,1329.72 L254.9,1330.17 L255.9,1330.61 L256.9,1331.06 L257.9,1331.50 L258.9,1331.95 L259.9,1332.39 L260.9,1332.83 L261.9,1333.26 L262.9,1333.70 L263.9,1334.13 L264.9,1334.56 L265.9,1334.99 L266.9,1335.42 L267.9,1335.84 L268.9,1336.27 L269.9,1336.69 L270.9,1337.12 L271.9,1337.54 L272.9,1337.96 L273.9,1338.38 L274.9,1338.81 L275.9,1339.23 L276.9,1339.66 L277.9,1340.08 L278.9,1340.51 L279.9,1340.94 L280.9,1341.37 L281.9,1341.81 L282.9,1342.24 L283.9,1342.68 L284.9,1343.12 L285.9,1343.57 L286.9,1344.02 L287.9,1344.47 L288.9,1344.93 L289.9,1345.39 L290.9,1345.86 L291.9,1346.33 L292.9,1346.80 L293.9,1347.28 L294.9,1347.76 L295.9,1348.25 L296.9,1348.74 L297.9,1349.24 L298.9,1349.74 L299.9,1350.25 L300.9,1350.76 L301.9,1351.27 L302.9,1351.79 L303.9,1352.31 L304.9,1352.84 L305.9,1353.37 L306.9,1353.90 L307.9,1354.43 L308.9,1354.97 L309.9,1355.51 L310.9,1356.05 L311.9,1356.59 L312.9,1357.13 L313.9,1357.68 L314.9,1358.22 L315.9,1358.77 L316.9,1359.32 L317.9,1359.87 L318.9,1360.42 L319.9,1360.97 L320.9,1361.52 L321.9,1362.07 L322.9,1362.63 L323.9,1363.18 L324.9,1363.74 L325.9,1364.30 L326.9,1364.86 L327.9,1365.42 L328.9,1365.98 L329.9,1366.55 L330.9,1367.12 L331.9,1367.69 L332.9,1368.26 L333.9,1368.83 L334.9,1369.40 L335.9,1369.97 L336.9,1370.53 L337.9,1371.09 L338.9,1371.65 L339.9,1372.20 L340.9,1372.75 L341.9,1373.28 L342.9,1373.81 L343.9,1374.32 L344.9,1374.83 L345.9,1375.32 L346.9,1375.80 L347.9,1376.27 L348.9,1376.73 L349.9,1377.17 L350.9,1377.61 L351.9,1378.03 L352.9,1378.44 L353.9,1378.84 L354.9,1379.23 L355.9,1379.61 L356.9,1379.99 L357.9,1380.35 L358.9,1380.71 L359.9,1381.06 L360.9,1381.41 L361.9,1381.75 L362.9,1382.08 L363.9,1382.41 L364.9,1382.74 L365.9,1383.06 L366.9,1383.38 L367.9,1383.69 L368.9,1384.00 L369.9,1384.31 L370.9,1384.61 L371.9,1384.92 L372.9,1385.21 L373.9,1385.51 L374.9,1385.80 L375.9,1386.09 L376.9,1386.37 L377.9,1386.66 L378.9,1386.94 L379.9,1387.22 L380.9,1387.50 L381.9,1387.78 L382.9,1388.06 L383.9,1388.33 L384.9,1388.61 L385.9,1388.89 L386.9,1389.18 L387.9,1389.46 L388.9,1389.75 L389.9,1390.04 L390.9,1390.33 L391.9,1390.63 L392.9,1390.93 L393.9,1391.24 L394.9,1391.55 L395.9,1391.86 L396.9,1392.18 L397.9,1392.50 L398.9,1392.82 L399.9,1393.15 L400.9,1393.47 L401.9,1393.78 L402.9,1394.10 L403.9,1394.41 L404.9,1394.71 L405.9,1395.01 L406.9,1395.30 L407.9,1395.57 L408.9,1395.84 L409.9,1396.09 L410.9,1396.33 L411.9,1396.55 L412.9,1396.77 L413.9,1396.97 L414.9,1397.15 L415.9,1397.33 L416.9,1397.50 L417.9,1397.65 L418.9,1397.79 L419.9,1397.93 L420.9,1398.06 L421.9,1398.18 L422.9,1398.30 L423.9,1398.41 L424.9,1398.52 L425.9,1398.62 L426.9,1398.72 L427.9,1398.81 L428.9,1398.90 L429.9,1398.99 L430.9,1399.08 L431.9,1399.16 L432.9,1399.24 L433.9,1399.32 L434.9,1399.40 L435.9,1399.47 L436.9,1399.55 L437.9,1399.62 L438.9,1399.69 L439.9,1399.76 L440.9,1399.83 L441.9,1399.90 L442.9,1399.97 L443.9,1400.04 L444.9,1400.11 L445.9,1400.18 L446.9,1400.25 L447.9,1400.32 L448.9,1400.39 L449.9,1400.46 L450.9,1400.53 L451.9,1400.61 L452.9,1400.68 L453.9,1400.76 L454.9,1400.84 L455.9,1400.92 L456.9,1401.00 L457.9,1401.08 L458.9,1401.17 L459.9,1401.26 L460.9,1401.35 L461.9,1401.44 L462.9,1401.54 L463.9,1401.64 L464.9,1401.74 L465.9,1401.84 L466.9,1401.94 L467.9,1402.05 L468.9,1402.16 L469.9,1402.27 L470.9,1402.38 L471.9,1402.49 L472.9,1402.60 L473.9,1402.72 L474.9,1402.83 L475.9,1402.95 L476.9,1403.06 L477.9,1403.17 L478.9,1403.28 L479.9,1403.40 L480.9,1403.51 L481.9,1403.61 L482.9,1403.72 L483.9,1403.83 L484.9,1403.93 L485.9,1404.03 L486.9,1404.12 L487.9,1404.22 L488.9,1404.31 L489.9,1404.39 L490.9,1404.48 L491.9,1404.56 L492.9,1404.63 L493.9,1404.70 L494.9,1404.76 L495.9,1404.82 L496.9,1404.88 L497.9,1404.93 L498.9,1404.97 L499.9,1405.01 L500.9,1405.04 L501.9,1405.07 L502.9,1405.10 L503.9,1405.12 L504.9,1405.13 L505.9,1405.15 L506.9,1405.15 L507.9,1405.16 L508.9,1405.17 L509.9,1405.17 L510.9,1405.17 L511.9,1405.17 L512.9,1405.16 L513.9,1405.16 L514.9,1405.15 L515.9,1405.15 L516.9,1405.14 L517.9,1405.14 L518.9,1405.13 L519.9,1405.12 L520.9,1405.11 L521.9,1405.11 L522.9,1405.10 L523.9,1405.09 L524.9,1405.08 L525.9,1405.07 L526.9,1405.06 L527.9,1405.05 L528.9,1405.04 L529.9,1405.03 L530.9,1405.02 L531.9,1405.01 L532.9,1405.00 L533.9,1404.99 L534.9,1404.98 L535.9,1404.97 L536.9,1404.96 L537.9,1404.95 L538.9,1404.94 L539.9,1404.93 L540.9,1404.92 L541.9,1404.91 L542.9,1404.90 L543.9,1404.89 L544.9,1404.88 L545.9,1404.88 L546.9,1404.87 L547.9,1404.86 L548.9,1404.85 L549.9,1404.85 L550.9,1404.84 L551.9,1404.84 L552.9,1404.83 L553.9,1404.83 L554.9,1404.82 L555.9,1404.82 L556.9,1404.82 L557.9,1404.82 L558.9,1404.82 L559.9,1404.82 L560.9,1404.82 L561.9,1404.82 L562.9,1404.83 L563.9,1404.83 L564.9,1404.84 L565.9,1404.84 L566.9,1404.85 L567.9,1404.86 L568.9,1404.87 L569.9,1404.88 L570.9,1404.90 L571.9,1404.91 L572.9,1404.92 L573.9,1404.94 L574.9,1404.96 L575.9,1404.98 L576.9,1404.99 L577.9,1405.01 L578.9,1405.03 L579.9,1405.06 L580.9,1405.08 L581.9,1405.10 L582.9,1405.12 L583.9,1405.15 L584.9,1405.17 L585.9,1405.20 L586.9,1405.22 L587.9,1405.25 L588.9,1405.27 L589.9,1405.30 L590.9,1405.32 L591.9,1405.35 L592.9,1405.37 L593.9,1405.40 L594.9,1405.43 L595.9,1405.45 L596.9,1405.48 L597.9,1405.50 L598.9,1405.53 L599.9,1405.55 L600.9,1405.58 L601.9,1405.60 L602.9,1405.62 L603.9,1405.65 L604.9,1405.67 L605.9,1405.69 L606.9,1405.71 L607.9,1405.73 L608.9,1405.75 L609.9,1405.77 L610.9,1405.79 L611.9,1405.81 L612.9,1405.83 L613.9,1405.84 L614.9,1405.86 L615.9,1405.87 L616.9,1405.89 L617.9,1405.90 L618.9,1405.92 L619.9,1405.93 L620.9,1405.94 L621.9,1405.95 L622.9,1405.97 L623.9,1405.98 L624.9,1405.99 L625.9,1406.00 L626.9,1406.01 L627.9,1406.02 L628.9,1406.03 L629.9,1406.04 L630.9,1406.06 L631.9,1406.07 L632.9,1406.08 L633.9,1406.09 L634.9,1406.10 L635.9,1406.11 L636.9,1406.12 L637.9,1406.13 L638.9,1406.14 L639.9,1406.15 L640.9,1406.16 L641.9,1406.17 L642.9,1406.18 L643.9,1406.19 L644.9,1406.20 L645.9,1406.21 L646.9,1406.21 L647.9,1406.22 L648.9,1406.23 L649.9,1406.24 L650.9,1406.25 L651.9,1406.26 L652.9,1406.26 L653.9,1406.27 L654.9,1406.28 L655.9,1406.29 L656.9,1406.29 L657.9,1406.30 L658.9,1406.31 L659.9,1406.31 L660.9,1406.32 L661.9,1406.33 L662.9,1406.33 L663.9,1406.34 L664.9,1406.34 L665.9,1406.35 L666.9,1406.36 L667.9,1406.36 L668.9,1406.36 L669.9,1406.37 L670.9,1406.37 L671.9,1406.38 L672.9,1406.38 L673.9,1406.38 L674.9,1406.39 L675.9,1406.39 L676.9,1406.39 L677.7,1406.39" fill="none" stroke="#ff7f0e" stroke-width="2.4" stroke-linecap="butt"/>
</g>
<rect x="35" y="1279" width="673" height="142" fill="none" stroke="#1a1a1a" stroke-width="2"/>
<line x1="48.11" y1="1421" x2="48.11" y2="1427.6" stroke="#1a1a1a" stroke-width="2"/>
<text x="48.11" y="1449.40" font-size="20.3" text-anchor="middle" textLength="12.09" lengthAdjust="spacingAndGlyphs">0</text>
<line x1="156.88" y1="1421" x2="156.88" y2="1427.6" stroke="#1a1a1a" stroke-width="2"/>
<text x="156.88" y="1449.40" font-size="20.3" text-anchor="middle" textLength="12.09" lengthAdjust="spacingAndGlyphs">1</text>
<line x1="265.65" y1="1421" x2="265.65" y2="1427.6" stroke="#1a1a1a" stroke-width="2"/>
<text x="265.65" y="1449.40" font-size="20.3" text-anchor="middle" textLength="12.09" lengthAdjust="spacingAndGlyphs">2</text>
<line x1="374.42" y1="1421" x2="374.42" y2="1427.6" stroke="#1a1a1a" stroke-width="2"/>
<text x="374.42" y="1449.40" font-size="20.3" text-anchor="middle" textLength="12.09" lengthAdjust="spacingAndGlyphs">3</text>
<line x1="483.19" y1="1421" x2="483.19" y2="1427.6" stroke="#1a1a1a" stroke-width="2"/>
<text x="483.19" y="1449.40" font-size="20.3" text-anchor="middle" textLength="12.09" lengthAdjust="spacingAndGlyphs">4</text>
<line x1="591.96" y1="1421" x2="591.96" y2="1427.6" stroke="#1a1a1a" stroke-width="2"/>
<text x="591.96" y="1449.40" font-size="20.3" text-anchor="middle" textLength="12.09" lengthAdjust="spacingAndGlyphs">5</text>
<line x1="700.73" y1="1421" x2="700.73" y2="1427.6" stroke="#1a1a1a" stroke-width="2"/>
<text x="700.73" y="1449.40" font-size="20.3" text-anchor="middle" textLength="12.09" lengthAdjust="spacingAndGlyphs">6</text>
<clipPath id="cr5"><rect x="778" y="1279" width="672" height="142"/></clipPath>
<g clip-path="url(#cr5)">
<line x1="851.26" y1="1384.50" x2="851.26" y2="1431" stroke="#000" stroke-opacity="0.37" stroke-width="2.8"/>
<line x1="868.18" y1="1384.50" x2="868.18" y2="1431" stroke="#000" stroke-opacity="0.37" stroke-width="2.8"/>
<line x1="940.28" y1="1384.50" x2="940.28" y2="1431" stroke="#000" stroke-opacity="0.37" stroke-width="2.8"/>
<line x1="985.37" y1="1384.50" x2="985.37" y2="1431" stroke="#000" stroke-opacity="0.37" stroke-width="2.8"/>
<line x1="987.00" y1="1384.50" x2="987.00" y2="1431" stroke="#000" stroke-opacity="0.37" stroke-width="2.8"/>
<line x1="994.21" y1="1384.50" x2="994.21" y2="1431" stroke="#000" stroke-opacity="0.37" stroke-width="2.8"/>
<line x1="1005.46" y1="1384.50" x2="1005.46" y2="1431" stroke="#000" stroke-opacity="0.37" stroke-width="2.8"/>
<line x1="1007.29" y1="1384.50" x2="1007.29" y2="1431" stroke="#000" stroke-opacity="0.37" stroke-width="2.8"/>
<line x1="1165.34" y1="1384.50" x2="1165.34" y2="1431" stroke="#000" stroke-opacity="0.37" stroke-width="2.8"/>
<line x1="1181.30" y1="1384.50" x2="1181.30" y2="1431" stroke="#000" stroke-opacity="0.37" stroke-width="2.8"/>
<line x1="1243.40" y1="1384.50" x2="1243.40" y2="1431" stroke="#000" stroke-opacity="0.37" stroke-width="2.8"/>
<line x1="1392.41" y1="1384.50" x2="1392.41" y2="1431" stroke="#000" stroke-opacity="0.37" stroke-width="2.8"/>
<polyline points="778.0,1375.5 779.0,1369.7 779.9,1394.1 780.9,1377.2 781.8,1382.7 782.8,1395.3 783.8,1405.8 784.7,1377.7 785.7,1374.6 786.7,1377.0 787.6,1379.1 788.6,1376.0 789.5,1377.2 790.5,1386.1 791.5,1360.0 792.4,1351.4 793.4,1383.9 794.3,1343.4 795.3,1356.9 796.3,1355.6 797.2,1368.0 798.2,1361.7 799.2,1346.9 800.1,1340.7 801.1,1369.1 802.0,1352.2 803.0,1363.6 804.0,1385.5 804.9,1360.5 805.9,1390.7 806.8,1398.8 807.8,1371.8 808.8,1367.9 809.7,1404.7 810.7,1388.7 811.6,1388.4 812.6,1384.8 813.6,1399.5 814.5,1390.8 815.5,1373.8 816.5,1381.1 817.4,1405.9 818.4,1391.9 819.3,1373.1 820.3,1377.8 821.3,1396.3 822.2,1404.9 823.2,1393.7 824.1,1380.0 825.1,1384.9 826.1,1362.5 827.0,1371.0 828.0,1366.5 829.0,1373.3 829.9,1374.2 830.9,1365.1 831.8,1370.4 832.8,1341.1 833.8,1345.6 834.7,1362.0 835.7,1374.7 836.6,1356.6 837.6,1368.2 838.6,1331.0 839.5,1349.8 840.5,1376.4 841.5,1374.9 842.4,1393.9 843.4,1381.7 844.3,1397.3 845.3,1379.9 846.3,1389.1 847.2,1383.8 848.2,1399.0 849.1,1371.5 850.1,1377.7 851.1,1370.7 852.0,1368.4 853.0,1370.9 853.9,1399.3 854.9,1382.8 855.9,1391.4 856.8,1369.1 857.8,1381.4 858.8,1399.3 859.7,1403.2 860.7,1397.0 861.6,1377.5 862.6,1382.2 863.6,1379.6 864.5,1373.7 865.5,1377.1 866.4,1368.7 867.4,1345.0 868.4,1350.3 869.3,1400.5 870.3,1395.6 871.3,1371.8 872.2,1372.0 873.2,1379.1 874.1,1362.9 875.1,1403.8 876.1,1405.4 877.0,1391.9 878.0,1387.8 878.9,1382.5 879.9,1388.6 880.9,1377.9 881.8,1390.2 882.8,1403.4 883.8,1389.1 884.7,1393.8 885.7,1393.8 886.6,1391.4 887.6,1384.9 888.6,1398.0 889.5,1400.2 890.5,1396.4 891.4,1389.0 892.4,1382.2 893.4,1377.5 894.3,1375.0 895.3,1375.5 896.2,1370.4 897.2,1375.8 898.2,1379.1 899.1,1366.3 900.1,1371.7 901.1,1377.3 902.0,1382.8 903.0,1368.9 903.9,1384.2 904.9,1377.0 905.9,1365.1 906.8,1383.2 907.8,1360.9 908.7,1389.7 909.7,1373.5 910.7,1377.0 911.6,1367.8 912.6,1368.9 913.6,1380.9 914.5,1399.2 915.5,1400.5 916.4,1383.3 917.4,1398.8 918.4,1353.0 919.3,1385.8 920.3,1384.0 921.2,1360.7 922.2,1358.8 923.2,1353.5 924.1,1375.4 925.1,1362.6 926.1,1368.1 927.0,1362.8 928.0,1361.6 928.9,1375.5 929.9,1376.4 930.9,1366.9 931.8,1382.3 932.8,1388.7 933.7,1382.4 934.7,1396.5 935.7,1385.8 936.6,1391.3 937.6,1396.4 938.5,1387.5 939.5,1396.0 940.5,1405.6 941.4,1401.7 942.4,1402.4 943.4,1387.5 944.3,1373.3 945.3,1376.1 946.2,1386.0 947.2,1396.0 948.2,1406.1 949.1,1388.1 950.1,1391.9 951.0,1386.6 952.0,1391.6 953.0,1405.7 953.9,1393.6 954.9,1384.1 955.9,1368.2 956.8,1365.1 957.8,1372.1 958.7,1375.2 959.7,1367.1 960.7,1379.9 961.6,1398.8 962.6,1381.9 963.5,1362.4 964.5,1385.1 965.5,1404.2 966.4,1388.2 967.4,1381.7 968.4,1393.7 969.3,1374.8 970.3,1365.8 971.2,1380.9 972.2,1354.0 973.2,1356.2 974.1,1376.2 975.1,1373.6 976.0,1367.6 977.0,1373.8 978.0,1384.5 978.9,1347.4 979.9,1355.1 980.8,1372.7 981.8,1358.7 982.8,1364.0 983.7,1344.4 984.7,1354.6 985.7,1366.1 986.6,1356.7 987.6,1368.3 988.5,1384.8 989.5,1377.8 990.5,1375.2 991.4,1377.3 992.4,1387.8 993.3,1374.7 994.3,1367.6 995.3,1369.8 996.2,1398.3 997.2,1406.3 998.2,1378.2 999.1,1389.1 1000.1,1372.9 1001.0,1374.3 1002.0,1381.7 1003.0,1381.3 1003.9,1380.0 1004.9,1380.5 1005.8,1388.1 1006.8,1372.0 1007.8,1385.4 1008.7,1377.8 1009.7,1374.5 1010.7,1391.0 1011.6,1386.9 1012.6,1398.7 1013.5,1382.7 1014.5,1382.8 1015.5,1380.2 1016.4,1388.2 1017.4,1388.9 1018.3,1386.9 1019.3,1396.8 1020.3,1385.9 1021.2,1391.2 1022.2,1399.7 1023.2,1392.1 1024.1,1389.1 1025.1,1397.0 1026.0,1397.7 1027.0,1395.7 1028.0,1372.2 1028.9,1380.1 1029.9,1375.4 1030.8,1371.2 1031.8,1368.7 1032.8,1371.5 1033.7,1358.5 1034.7,1356.6 1035.6,1377.1 1036.6,1363.1 1037.6,1375.5 1038.5,1371.7 1039.5,1346.8 1040.5,1340.5 1041.4,1349.1 1042.4,1367.1 1043.3,1369.4 1044.3,1370.3 1045.3,1385.0 1046.2,1365.4 1047.2,1373.9 1048.1,1362.8 1049.1,1382.2 1050.1,1404.5 1051.0,1382.0 1052.0,1392.4 1053.0,1396.9 1053.9,1385.4 1054.9,1384.8 1055.8,1392.3 1056.8,1376.4 1057.8,1382.2 1058.7,1390.3 1059.7,1389.2 1060.6,1374.8 1061.6,1361.0 1062.6,1386.1 1063.5,1395.7 1064.5,1382.9 1065.5,1364.1 1066.4,1378.4 1067.4,1375.5 1068.3,1372.1 1069.3,1376.2 1070.3,1401.2 1071.2,1377.3 1072.2,1368.8 1073.1,1344.6 1074.1,1346.5 1075.1,1380.2 1076.0,1364.3 1077.0,1373.4 1077.9,1326.5 1078.9,1343.6 1079.9,1343.8 1080.8,1373.7 1081.8,1382.4 1082.8,1382.7 1083.7,1351.1 1084.7,1340.0 1085.6,1365.9 1086.6,1383.1 1087.6,1378.7 1088.5,1387.3 1089.5,1373.5 1090.4,1381.3 1091.4,1359.8 1092.4,1373.0 1093.3,1390.3 1094.3,1377.8 1095.3,1360.5 1096.2,1382.9 1097.2,1362.8 1098.1,1378.0 1099.1,1386.4 1100.1,1406.2 1101.0,1372.2 1102.0,1369.3 1102.9,1375.2 1103.9,1398.2 1104.9,1378.5 1105.8,1386.1 1106.8,1386.0 1107.8,1380.1 1108.7,1389.3 1109.7,1376.4 1110.6,1392.4 1111.6,1386.7 1112.6,1367.0 1113.5,1383.2 1114.5,1393.7 1115.4,1378.6 1116.4,1386.7 1117.4,1394.2 1118.3,1395.6 1119.3,1387.7 1120.2,1386.1 1121.2,1381.6 1122.2,1399.7 1123.1,1396.0 1124.1,1400.8 1125.1,1385.4 1126.0,1395.7 1127.0,1387.4 1127.9,1377.1 1128.9,1378.7 1129.9,1388.6 1130.8,1379.1 1131.8,1369.4 1132.7,1377.0 1133.7,1383.1 1134.7,1372.6 1135.6,1383.5 1136.6,1390.6 1137.6,1380.1 1138.5,1401.7 1139.5,1397.6 1140.4,1366.5 1141.4,1370.6 1142.4,1370.6 1143.3,1389.7 1144.3,1396.4 1145.2,1379.6 1146.2,1385.8 1147.2,1376.2 1148.1,1363.5 1149.1,1362.0 1150.1,1352.9 1151.0,1380.4 1152.0,1356.3 1152.9,1384.8 1153.9,1379.8 1154.9,1381.8 1155.8,1376.4 1156.8,1376.2 1157.7,1388.4 1158.7,1371.3 1159.7,1374.8 1160.6,1368.1 1161.6,1363.7 1162.5,1359.7 1163.5,1390.4 1164.5,1388.2 1165.4,1386.0 1166.4,1390.0 1167.4,1387.7 1168.3,1376.5 1169.3,1393.2 1170.2,1386.9 1171.2,1403.1 1172.2,1380.7 1173.1,1392.9 1174.1,1369.5 1175.0,1380.7 1176.0,1372.7 1177.0,1379.0 1177.9,1377.1 1178.9,1368.0 1179.9,1380.9 1180.8,1376.7 1181.8,1381.5 1182.7,1376.1 1183.7,1392.0 1184.7,1379.5 1185.6,1388.3 1186.6,1387.1 1187.5,1334.4 1188.5,1386.3 1189.5,1370.4 1190.4,1369.2 1191.4,1377.2 1192.4,1372.3 1193.3,1366.5 1194.3,1357.8 1195.2,1360.2 1196.2,1367.0 1197.2,1387.7 1198.1,1389.8 1199.1,1371.6 1200.0,1396.6 1201.0,1393.4 1202.0,1373.1 1202.9,1389.2 1203.9,1378.3 1204.8,1383.6 1205.8,1394.6 1206.8,1405.9 1207.7,1400.8 1208.7,1402.1 1209.7,1388.8 1210.6,1384.8 1211.6,1389.3 1212.5,1393.3 1213.5,1380.8 1214.5,1384.5 1215.4,1373.7 1216.4,1372.1 1217.3,1385.4 1218.3,1368.7 1219.3,1384.0 1220.2,1386.5 1221.2,1385.5 1222.2,1394.0 1223.1,1384.1 1224.1,1384.1 1225.0,1396.8 1226.0,1372.4 1227.0,1380.3 1227.9,1381.1 1228.9,1399.9 1229.8,1399.9 1230.8,1399.6 1231.8,1395.5 1232.7,1382.1 1233.7,1373.5 1234.7,1397.9 1235.6,1395.4 1236.6,1388.6 1237.5,1392.3 1238.5,1388.5 1239.5,1387.5 1240.4,1371.9 1241.4,1379.1 1242.3,1382.3 1243.3,1375.8 1244.3,1387.8 1245.2,1396.4 1246.2,1396.3 1247.2,1394.7 1248.1,1405.5 1249.1,1372.3 1250.0,1376.9 1251.0,1388.0 1252.0,1392.6 1252.9,1374.0 1253.9,1387.3 1254.8,1372.8 1255.8,1373.3 1256.8,1375.1 1257.7,1371.9 1258.7,1388.7 1259.6,1393.1 1260.6,1393.3 1261.6,1386.1 1262.5,1372.8 1263.5,1374.7 1264.5,1375.9 1265.4,1393.5 1266.4,1373.2 1267.3,1375.4 1268.3,1381.4 1269.3,1378.8 1270.2,1389.3 1271.2,1391.8 1272.1,1388.1 1273.1,1378.5 1274.1,1406.0 1275.0,1386.7 1276.0,1390.1 1277.0,1382.3 1277.9,1395.9 1278.9,1385.7 1279.8,1399.9 1280.8,1369.1 1281.8,1371.5 1282.7,1386.9 1283.7,1376.4 1284.6,1374.9 1285.6,1381.5 1286.6,1387.0 1287.5,1392.4 1288.5,1367.7 1289.5,1368.6 1290.4,1367.3 1291.4,1381.4 1292.3,1374.4 1293.3,1365.0 1294.3,1369.5 1295.2,1369.6 1296.2,1371.9 1297.1,1349.9 1298.1,1342.2 1299.1,1360.4 1300.0,1368.3 1301.0,1371.7 1301.9,1381.3 1302.9,1379.3 1303.9,1370.4 1304.8,1393.2 1305.8,1375.5 1306.8,1375.9 1307.7,1387.7 1308.7,1379.9 1309.6,1370.6 1310.6,1369.4 1311.6,1384.7 1312.5,1381.0 1313.5,1385.0 1314.4,1377.6 1315.4,1375.2 1316.4,1389.6 1317.3,1387.6 1318.3,1364.5 1319.3,1372.1 1320.2,1380.8 1321.2,1383.8 1322.1,1389.9 1323.1,1375.2 1324.1,1367.0 1325.0,1374.4 1326.0,1381.5 1326.9,1371.7 1327.9,1371.2 1328.9,1365.2 1329.8,1364.5 1330.8,1397.8 1331.8,1394.1 1332.7,1393.9 1333.7,1393.8 1334.6,1389.7 1335.6,1363.9 1336.6,1380.1 1337.5,1383.2 1338.5,1379.4 1339.4,1367.5 1340.4,1376.6 1341.4,1396.4 1342.3,1386.2 1343.3,1382.6 1344.2,1386.1 1345.2,1383.8 1346.2,1362.4 1347.1,1370.2 1348.1,1362.8 1349.1,1357.0 1350.0,1368.2 1351.0,1358.8 1351.9,1363.9 1352.9,1375.4 1353.9,1364.3 1354.8,1383.6 1355.8,1340.7 1356.7,1343.6 1357.7,1361.9 1358.7,1362.6 1359.6,1345.2 1360.6,1387.9 1361.6,1356.8 1362.5,1362.9 1363.5,1367.4 1364.4,1384.3 1365.4,1386.8 1366.4,1377.1 1367.3,1382.9 1368.3,1393.1 1369.2,1384.9 1370.2,1386.9 1371.2,1390.7 1372.1,1370.4 1373.1,1365.2 1374.1,1387.5 1375.0,1397.9 1376.0,1402.7 1376.9,1397.8 1377.9,1404.9 1378.9,1393.9 1379.8,1380.9 1380.8,1383.8 1381.7,1389.7 1382.7,1381.1 1383.7,1380.5 1384.6,1385.4 1385.6,1365.8 1386.5,1359.5 1387.5,1375.9 1388.5,1383.7 1389.4,1378.3 1390.4,1377.5 1391.4,1372.6 1392.3,1380.6 1393.3,1375.9 1394.2,1392.2 1395.2,1372.9 1396.2,1356.7 1397.1,1390.5 1398.1,1361.6 1399.0,1365.2 1400.0,1390.6 1401.0,1377.6 1401.9,1371.5 1402.9,1363.5 1403.9,1362.6 1404.8,1384.5 1405.8,1367.2 1406.7,1378.8 1407.7,1382.1 1408.7,1385.7 1409.6,1383.4 1410.6,1393.3 1411.5,1402.2 1412.5,1368.3 1413.5,1377.7 1414.4,1388.7 1415.4,1372.3 1416.4,1372.7 1417.3,1384.9 1418.3,1374.0 1419.2,1406.3 1420.2,1388.1 1421.2,1370.9 1422.1,1378.5 1423.1,1383.7 1424.0,1391.8 1425.0,1387.7 1426.0,1376.9 1426.9,1397.6 1427.9,1404.0 1428.8,1372.7 1429.8,1366.5 1430.8,1368.2 1431.7,1369.9 1432.7,1365.9 1433.7,1349.7 1434.6,1380.6 1435.6,1377.6 1436.5,1382.6 1437.5,1365.9 1438.5,1378.4 1439.4,1390.4 1440.4,1388.0 1441.3,1379.2 1442.3,1387.5 1443.3,1392.8 1444.2,1386.2 1445.2,1393.9 1446.2,1406.3 1447.1,1387.4 1448.1,1386.0 1449.0,1406.3 1450.0,1398.2" fill="none" stroke="#1f77b4" stroke-opacity="0.35" stroke-width="2.4" stroke-linejoin="round"/>
<polyline points="778.0,1376.6 779.0,1394.7 779.9,1382.6 780.9,1374.4 781.8,1366.4 782.8,1375.7 783.8,1370.7 784.7,1363.9 785.7,1379.6 786.7,1386.4 787.6,1380.2 788.6,1377.0 789.5,1374.2 790.5,1383.0 791.5,1385.8 792.4,1389.5 793.4,1387.2 794.3,1392.6 795.3,1403.9 796.3,1393.4 797.2,1377.0 798.2,1392.5 799.2,1371.9 800.1,1392.5 801.1,1375.3 802.0,1406.5 803.0,1381.1 804.0,1370.4 804.9,1372.6 805.9,1391.1 806.8,1379.4 807.8,1400.9 808.8,1374.7 809.7,1386.8 810.7,1400.4 811.6,1390.3 812.6,1403.2 813.6,1391.0 814.5,1386.4 815.5,1380.2 816.5,1368.1 817.4,1394.4 818.4,1382.4 819.3,1397.2 820.3,1362.8 821.3,1372.7 822.2,1343.0 823.2,1342.4 824.1,1382.2 825.1,1378.7 826.1,1373.7 827.0,1390.7 828.0,1359.0 829.0,1367.8 829.9,1403.9 830.9,1392.9 831.8,1387.5 832.8,1385.3 833.8,1355.2 834.7,1374.5 835.7,1388.4 836.6,1376.2 837.6,1401.5 838.6,1385.4 839.5,1384.9 840.5,1373.2 841.5,1401.4 842.4,1381.5 843.4,1360.6 844.3,1355.3 845.3,1359.4 846.3,1389.1 847.2,1384.5 848.2,1392.6 849.1,1381.5 850.1,1394.0 851.1,1358.2 852.0,1381.4 853.0,1370.4 853.9,1359.6 854.9,1385.1 855.9,1383.8 856.8,1375.4 857.8,1386.3 858.8,1399.0 859.7,1375.4 860.7,1373.2 861.6,1375.0 862.6,1337.7 863.6,1356.0 864.5,1349.1 865.5,1372.9 866.4,1358.7 867.4,1298.5 868.4,1337.9 869.3,1344.6 870.3,1380.2 871.3,1364.2 872.2,1393.2 873.2,1380.2 874.1,1392.3 875.1,1387.7 876.1,1370.5 877.0,1378.0 878.0,1354.1 878.9,1381.3 879.9,1388.9 880.9,1386.5 881.8,1375.8 882.8,1371.2 883.8,1361.6 884.7,1388.9 885.7,1391.5 886.6,1394.5 887.6,1369.2 888.6,1379.0 889.5,1384.8 890.5,1379.8 891.4,1404.5 892.4,1391.0 893.4,1374.2 894.3,1378.9 895.3,1391.7 896.2,1388.4 897.2,1371.5 898.2,1383.5 899.1,1364.0 900.1,1382.7 901.1,1384.2 902.0,1378.4 903.0,1371.3 903.9,1383.9 904.9,1388.2 905.9,1385.7 906.8,1364.7 907.8,1366.4 908.7,1380.2 909.7,1394.3 910.7,1380.5 911.6,1393.4 912.6,1375.4 913.6,1359.4 914.5,1354.6 915.5,1371.0 916.4,1382.6 917.4,1371.0 918.4,1366.0 919.3,1372.2 920.3,1377.3 921.2,1385.8 922.2,1369.1 923.2,1380.6 924.1,1382.8 925.1,1373.4 926.1,1373.1 927.0,1356.9 928.0,1351.1 928.9,1360.0 929.9,1390.0 930.9,1355.7 931.8,1347.4 932.8,1346.5 933.7,1384.2 934.7,1362.6 935.7,1345.0 936.6,1370.5 937.6,1331.0 938.5,1346.1 939.5,1366.7 940.5,1350.3 941.4,1352.8 942.4,1353.8 943.4,1380.5 944.3,1370.6 945.3,1359.9 946.2,1380.0 947.2,1393.6 948.2,1378.8 949.1,1368.0 950.1,1389.6 951.0,1379.7 952.0,1386.3 953.0,1385.1 953.9,1400.8 954.9,1402.9 955.9,1395.7 956.8,1378.2 957.8,1390.0 958.7,1387.4 959.7,1382.5 960.7,1378.6 961.6,1371.3 962.6,1363.4 963.5,1378.8 964.5,1392.6 965.5,1384.1 966.4,1375.5 967.4,1401.7 968.4,1367.7 969.3,1379.7 970.3,1379.9 971.2,1346.7 972.2,1386.2 973.2,1376.0 974.1,1371.0 975.1,1373.6 976.0,1391.0 977.0,1395.6 978.0,1378.2 978.9,1388.1 979.9,1395.4 980.8,1405.5 981.8,1399.3 982.8,1384.6 983.7,1361.5 984.7,1355.5 985.7,1367.2 986.6,1358.8 987.6,1366.3 988.5,1388.5 989.5,1390.6 990.5,1344.3 991.4,1383.4 992.4,1380.2 993.3,1389.1 994.3,1361.7 995.3,1357.6 996.2,1379.1 997.2,1391.9 998.2,1374.7 999.1,1398.2 1000.1,1402.2 1001.0,1385.4 1002.0,1350.5 1003.0,1366.6 1003.9,1399.8 1004.9,1364.8 1005.8,1387.9 1006.8,1381.5 1007.8,1388.3 1008.7,1373.9 1009.7,1373.9 1010.7,1385.3 1011.6,1381.7 1012.6,1383.5 1013.5,1372.8 1014.5,1375.3 1015.5,1364.0 1016.4,1376.1 1017.4,1348.5 1018.3,1371.1 1019.3,1392.9 1020.3,1395.2 1021.2,1332.1 1022.2,1375.6 1023.2,1374.9 1024.1,1353.5 1025.1,1379.2 1026.0,1390.9 1027.0,1377.4 1028.0,1380.0 1028.9,1379.1 1029.9,1382.1 1030.8,1355.8 1031.8,1366.8 1032.8,1383.3 1033.7,1378.3 1034.7,1372.2 1035.6,1364.5 1036.6,1350.0 1037.6,1286.1 1038.5,1347.2 1039.5,1353.7 1040.5,1361.7 1041.4,1363.0 1042.4,1333.8 1043.3,1357.9 1044.3,1348.4 1045.3,1354.6 1046.2,1339.0 1047.2,1357.3 1048.1,1390.6 1049.1,1378.0 1050.1,1374.8 1051.0,1353.4 1052.0,1364.3 1053.0,1381.5 1053.9,1369.7 1054.9,1391.4 1055.8,1391.7 1056.8,1362.4 1057.8,1345.3 1058.7,1356.1 1059.7,1326.5 1060.6,1336.7 1061.6,1335.0 1062.6,1350.4 1063.5,1361.0 1064.5,1371.6 1065.5,1325.4 1066.4,1369.7 1067.4,1373.8 1068.3,1376.3 1069.3,1366.1 1070.3,1368.4 1071.2,1385.1 1072.2,1391.1 1073.1,1384.8 1074.1,1374.9 1075.1,1371.4 1076.0,1407.4 1077.0,1375.6 1077.9,1369.0 1078.9,1358.2 1079.9,1353.6 1080.8,1360.4 1081.8,1370.2 1082.8,1370.1 1083.7,1370.3 1084.7,1366.9 1085.6,1375.8 1086.6,1381.0 1087.6,1380.6 1088.5,1386.9 1089.5,1385.9 1090.4,1391.8 1091.4,1396.6 1092.4,1397.5 1093.3,1399.5 1094.3,1404.2 1095.3,1392.5 1096.2,1389.3 1097.2,1398.1 1098.1,1404.1 1099.1,1393.1 1100.1,1391.0 1101.0,1387.7 1102.0,1375.1 1102.9,1381.5 1103.9,1387.2 1104.9,1396.8 1105.8,1364.3 1106.8,1388.2 1107.8,1360.5 1108.7,1353.7 1109.7,1380.6 1110.6,1374.5 1111.6,1386.9 1112.6,1392.5 1113.5,1381.9 1114.5,1387.8 1115.4,1395.6 1116.4,1375.2 1117.4,1381.8 1118.3,1366.7 1119.3,1381.1 1120.2,1378.8 1121.2,1393.3 1122.2,1385.2 1123.1,1377.1 1124.1,1363.8 1125.1,1372.3 1126.0,1379.6 1127.0,1382.6 1127.9,1400.6 1128.9,1376.0 1129.9,1375.2 1130.8,1369.0 1131.8,1396.7 1132.7,1374.2 1133.7,1368.8 1134.7,1375.8 1135.6,1388.7 1136.6,1363.5 1137.6,1363.0 1138.5,1382.1 1139.5,1396.2 1140.4,1383.5 1141.4,1385.1 1142.4,1377.3 1143.3,1393.7 1144.3,1383.1 1145.2,1378.3 1146.2,1374.2 1147.2,1397.9 1148.1,1378.9 1149.1,1367.6 1150.1,1368.2 1151.0,1375.4 1152.0,1372.5 1152.9,1373.2 1153.9,1355.3 1154.9,1375.6 1155.8,1379.1 1156.8,1380.3 1157.7,1377.2 1158.7,1397.5 1159.7,1390.4 1160.6,1388.1 1161.6,1363.4 1162.5,1378.0 1163.5,1355.9 1164.5,1349.8 1165.4,1373.0 1166.4,1376.4 1167.4,1343.3 1168.3,1401.2 1169.3,1394.6 1170.2,1398.1 1171.2,1404.2 1172.2,1400.3 1173.1,1388.5 1174.1,1353.8 1175.0,1360.8 1176.0,1375.5 1177.0,1373.6 1177.9,1386.0 1178.9,1362.0 1179.9,1372.0 1180.8,1345.4 1181.8,1364.0 1182.7,1381.2 1183.7,1333.9 1184.7,1354.7 1185.6,1351.6 1186.6,1346.8 1187.5,1344.3 1188.5,1361.4 1189.5,1350.3 1190.4,1355.1 1191.4,1357.9 1192.4,1370.6 1193.3,1367.8 1194.3,1389.4 1195.2,1378.3 1196.2,1360.0 1197.2,1364.4 1198.1,1377.5 1199.1,1377.7 1200.0,1335.9 1201.0,1340.1 1202.0,1342.4 1202.9,1361.9 1203.9,1333.9 1204.8,1364.1 1205.8,1366.4 1206.8,1367.1 1207.7,1387.3 1208.7,1325.0 1209.7,1378.1 1210.6,1340.3 1211.6,1347.5 1212.5,1355.7 1213.5,1374.7 1214.5,1364.6 1215.4,1390.5 1216.4,1368.2 1217.3,1374.8 1218.3,1354.9 1219.3,1369.2 1220.2,1357.9 1221.2,1367.1 1222.2,1367.0 1223.1,1373.3 1224.1,1373.8 1225.0,1375.5 1226.0,1381.5 1227.0,1353.1 1227.9,1339.1 1228.9,1360.7 1229.8,1340.5 1230.8,1371.9 1231.8,1385.7 1232.7,1360.1 1233.7,1344.0 1234.7,1308.1 1235.6,1338.2 1236.6,1362.5 1237.5,1393.4 1238.5,1344.0 1239.5,1363.6 1240.4,1356.9 1241.4,1363.6 1242.3,1373.4 1243.3,1375.1 1244.3,1384.6 1245.2,1365.9 1246.2,1379.2 1247.2,1374.0 1248.1,1363.8 1249.1,1377.6 1250.0,1366.0 1251.0,1362.6 1252.0,1384.8 1252.9,1385.7 1253.9,1383.3 1254.8,1363.6 1255.8,1378.9 1256.8,1370.6 1257.7,1394.9 1258.7,1389.1 1259.6,1360.9 1260.6,1361.9 1261.6,1354.0 1262.5,1373.1 1263.5,1369.9 1264.5,1390.5 1265.4,1386.6 1266.4,1387.5 1267.3,1346.6 1268.3,1368.6 1269.3,1369.2 1270.2,1374.2 1271.2,1387.8 1272.1,1379.0 1273.1,1380.8 1274.1,1379.0 1275.0,1386.3 1276.0,1384.9 1277.0,1379.0 1277.9,1367.2 1278.9,1356.1 1279.8,1385.9 1280.8,1365.5 1281.8,1371.2 1282.7,1376.6 1283.7,1375.0 1284.6,1369.7 1285.6,1369.5 1286.6,1382.0 1287.5,1354.5 1288.5,1361.2 1289.5,1377.1 1290.4,1364.0 1291.4,1344.8 1292.3,1367.9 1293.3,1356.0 1294.3,1363.3 1295.2,1362.1 1296.2,1362.0 1297.1,1368.0 1298.1,1368.2 1299.1,1343.4 1300.0,1341.4 1301.0,1361.7 1301.9,1341.6 1302.9,1335.1 1303.9,1335.5 1304.8,1357.9 1305.8,1364.4 1306.8,1334.2 1307.7,1354.8 1308.7,1355.2 1309.6,1393.7 1310.6,1371.5 1311.6,1354.7 1312.5,1378.5 1313.5,1360.4 1314.4,1373.4 1315.4,1364.6 1316.4,1387.5 1317.3,1368.2 1318.3,1323.6 1319.3,1386.3 1320.2,1380.1 1321.2,1361.6 1322.1,1363.9 1323.1,1362.0 1324.1,1362.7 1325.0,1367.9 1326.0,1366.4 1326.9,1381.3 1327.9,1365.9 1328.9,1380.6 1329.8,1349.4 1330.8,1346.2 1331.8,1379.9 1332.7,1380.5 1333.7,1371.5 1334.6,1358.3 1335.6,1379.4 1336.6,1370.0 1337.5,1367.7 1338.5,1371.0 1339.4,1361.6 1340.4,1359.7 1341.4,1392.9 1342.3,1378.5 1343.3,1368.2 1344.2,1374.0 1345.2,1385.1 1346.2,1382.2 1347.1,1356.9 1348.1,1373.2 1349.1,1376.1 1350.0,1387.5 1351.0,1382.0 1351.9,1391.7 1352.9,1364.0 1353.9,1361.1 1354.8,1345.8 1355.8,1362.5 1356.7,1362.1 1357.7,1328.8 1358.7,1362.5 1359.6,1366.1 1360.6,1349.7 1361.6,1344.1 1362.5,1357.6 1363.5,1357.2 1364.4,1363.4 1365.4,1375.1 1366.4,1353.7 1367.3,1363.0 1368.3,1378.5 1369.2,1383.2 1370.2,1384.8 1371.2,1390.7 1372.1,1366.6 1373.1,1356.6 1374.1,1356.1 1375.0,1372.0 1376.0,1364.8 1376.9,1366.5 1377.9,1397.8 1378.9,1382.8 1379.8,1400.5 1380.8,1396.6 1381.7,1385.4 1382.7,1367.1 1383.7,1355.3 1384.6,1380.9 1385.6,1388.7 1386.5,1374.8 1387.5,1377.4 1388.5,1389.8 1389.4,1377.3 1390.4,1376.2 1391.4,1385.1 1392.3,1381.1 1393.3,1387.2 1394.2,1380.7 1395.2,1382.5 1396.2,1380.6 1397.1,1377.8 1398.1,1383.9 1399.0,1373.1 1400.0,1369.0 1401.0,1370.7 1401.9,1374.9 1402.9,1389.5 1403.9,1369.6 1404.8,1376.0 1405.8,1383.2 1406.7,1383.0 1407.7,1367.6 1408.7,1382.6 1409.6,1371.1 1410.6,1366.8 1411.5,1382.6 1412.5,1387.0 1413.5,1396.5 1414.4,1407.4 1415.4,1406.3 1416.4,1373.9 1417.3,1383.3 1418.3,1392.9 1419.2,1383.9 1420.2,1383.4 1421.2,1391.1 1422.1,1399.5 1423.1,1390.5 1424.0,1388.8 1425.0,1396.0 1426.0,1398.8 1426.9,1389.8 1427.9,1388.7 1428.8,1377.8 1429.8,1383.9 1430.8,1366.3 1431.7,1374.6 1432.7,1348.4 1433.7,1354.0 1434.6,1382.3 1435.6,1381.9 1436.5,1374.7 1437.5,1382.5 1438.5,1388.3 1439.4,1397.2 1440.4,1378.6 1441.3,1363.5 1442.3,1369.7 1443.3,1398.0 1444.2,1390.2 1445.2,1365.2 1446.2,1378.4 1447.1,1370.2 1448.1,1363.1 1449.0,1374.1 1450.0,1386.3" fill="none" stroke="#ff7f0e" stroke-opacity="0.35" stroke-width="2.4" stroke-linejoin="round"/>
</g>
<rect x="778" y="1279" width="672" height="142" fill="none" stroke="#1a1a1a" stroke-width="2"/>
<line x1="778.00" y1="1421" x2="778.00" y2="1427.6" stroke="#1a1a1a" stroke-width="2"/>
<text x="778.00" y="1449.40" font-size="20.3" text-anchor="middle" textLength="12.09" lengthAdjust="spacingAndGlyphs">0</text>
<line x1="874.14" y1="1421" x2="874.14" y2="1427.6" stroke="#1a1a1a" stroke-width="2"/>
<text x="874.14" y="1449.40" font-size="20.3" text-anchor="middle" textLength="36.27" lengthAdjust="spacingAndGlyphs">100</text>
<line x1="970.27" y1="1421" x2="970.27" y2="1427.6" stroke="#1a1a1a" stroke-width="2"/>
<text x="970.27" y="1449.40" font-size="20.3" text-anchor="middle" textLength="36.27" lengthAdjust="spacingAndGlyphs">200</text>
<line x1="1066.41" y1="1421" x2="1066.41" y2="1427.6" stroke="#1a1a1a" stroke-width="2"/>
<text x="1066.41" y="1449.40" font-size="20.3" text-anchor="middle" textLength="36.27" lengthAdjust="spacingAndGlyphs">300</text>
<line x1="1162.55" y1="1421" x2="1162.55" y2="1427.6" stroke="#1a1a1a" stroke-width="2"/>
<text x="1162.55" y="1449.40" font-size="20.3" text-anchor="middle" textLength="36.27" lengthAdjust="spacingAndGlyphs">400</text>
<line x1="1258.69" y1="1421" x2="1258.69" y2="1427.6" stroke="#1a1a1a" stroke-width="2"/>
<text x="1258.69" y="1449.40" font-size="20.3" text-anchor="middle" textLength="36.27" lengthAdjust="spacingAndGlyphs">500</text>
<line x1="1354.82" y1="1421" x2="1354.82" y2="1427.6" stroke="#1a1a1a" stroke-width="2"/>
<text x="1354.82" y="1449.40" font-size="20.3" text-anchor="middle" textLength="36.27" lengthAdjust="spacingAndGlyphs">600</text>
<line x1="771" y1="1410.90" x2="778" y2="1410.90" stroke="#1a1a1a" stroke-width="2"/>
<text x="763.80" y="1419.20" font-size="20.3" text-anchor="end" textLength="30.22" lengthAdjust="spacingAndGlyphs">0.0</text>
<line x1="771" y1="1356.40" x2="778" y2="1356.40" stroke="#1a1a1a" stroke-width="2"/>
<text x="763.80" y="1364.70" font-size="20.3" text-anchor="end" textLength="30.22" lengthAdjust="spacingAndGlyphs">2.5</text>
<line x1="771" y1="1301.90" x2="778" y2="1301.90" stroke="#1a1a1a" stroke-width="2"/>
<text x="763.80" y="1310.20" font-size="20.3" text-anchor="end" textLength="30.22" lengthAdjust="spacingAndGlyphs">5.0</text>
</svg>
</body></html>
